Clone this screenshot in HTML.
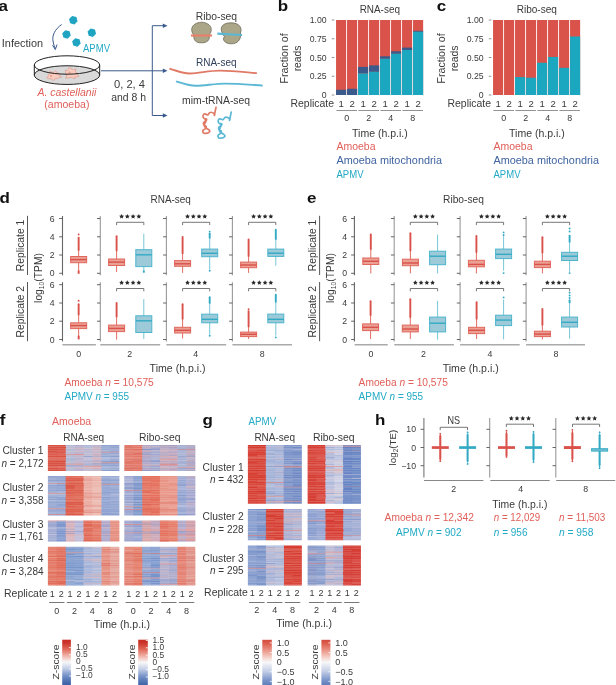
<!DOCTYPE html>
<html><head><meta charset="utf-8"><title>Figure</title>
<style>
html,body{margin:0;padding:0;background:#fff;}
body{width:616px;height:685px;overflow:hidden;}
svg{display:block;font-family:"Liberation Sans", sans-serif;will-change:transform;}
</style></head><body>
<svg width="616" height="685" viewBox="0 0 616 685" fill="#3a3a3a">
<rect width="616" height="685" fill="#fff"/>
<text transform="translate(-1.6 10.8) scale(1.17 1)" font-size="14.5" font-weight="bold" fill="#111">a</text>
<text x="1.8" y="46.5" font-size="10" textLength="41.3" lengthAdjust="spacingAndGlyphs">Infection</text>
<path d="M61.7,24.5 C55,29 51.5,36 53.2,42 C53.8,45 54.5,46.5 55.2,48" stroke="#3A5A8C" fill="none" stroke-width="1"/>
<path d="M52.6,45.2 L55.3,49.6 L57.0,44.6" stroke="#3A5A8C" fill="none" stroke-width="1" stroke-linejoin="round"/>
<polygon points="77.55,21.34 74.44,24.45 70.19,23.31 69.05,19.06 72.16,15.95 76.41,17.09" fill="#1FA5C2"/>
<polygon points="70.75,35.54 67.64,38.65 63.39,37.51 62.25,33.26 65.36,30.15 69.61,31.29" fill="#1FA5C2"/>
<polygon points="80.65,43.54 77.54,46.65 73.29,45.51 72.15,41.26 75.26,38.15 79.51,39.29" fill="#1FA5C2"/>
<polygon points="96.05,33.84 92.94,36.95 88.69,35.81 87.55,31.56 90.66,28.45 94.91,29.59" fill="#1FA5C2"/>
<text x="83" y="52.3" font-size="10" fill="#22A9C4" textLength="27" lengthAdjust="spacingAndGlyphs">APMV</text>
<ellipse cx="67" cy="75.1" rx="32.7" ry="9.35" fill="#D9D9D9" stroke="#222" stroke-width="1"/>
<polygon points="59.91,76 61.71,77.09 59.06,77.56 57.99,78.08 57.08,78.6 55.7,78.65 54.72,79.12 53.5,80.85 52.11,79.53 51.2,78.78 49.55,78.87 48.26,78.43 46.74,77.89 47.89,76.74 47.74,76 48.48,75.34 48.32,74.55 48.76,73.8 49.49,73.08 49.68,71.4 51.94,72.02 53.5,72.66 55.57,70.74 56.74,72.09 57.16,73.33 59.16,73.38 60.63,74.01 59.12,75.26" fill="#F9CCBF" stroke="#D98E7E" stroke-width="0.55" stroke-linejoin="round"/>
<polygon points="76.57,73.5 77.24,74.5 79.13,76.24 77.14,76.93 74.9,76.92 74.69,78.87 72.42,77.86 71,77.36 69.66,77.62 67.96,77.92 65.57,78.26 66.71,75.9 66.15,75.13 66.03,74.29 65.55,73.5 65.58,72.63 65.65,71.7 65.11,70.21 67.38,70.32 68.24,69.49 69.09,67.66 71,68.52 72.35,69.36 73.55,69.8 76.18,68.95 75.54,70.97 75.36,72.03 76.7,72.59" fill="#F9CCBF" stroke="#D98E7E" stroke-width="0.55" stroke-linejoin="round"/>
<circle cx="51" cy="76" r="1.1" fill="#F09A88"/><circle cx="69.5" cy="72.5" r="1.1" fill="#F09A88"/>
<ellipse cx="67" cy="65" rx="32.7" ry="9.2" fill="none" stroke="#222" stroke-width="1"/>
<line x1="34.3" y1="65" x2="34.3" y2="75.1" stroke="#222" stroke-width="1"/>
<line x1="99.7" y1="65" x2="99.7" y2="75.1" stroke="#222" stroke-width="1"/>
<text x="37.4" y="95.8" font-size="10" fill="#E0605A" font-style="italic" textLength="59" lengthAdjust="spacingAndGlyphs">A. castellanii</text>
<text x="44.3" y="107.6" font-size="10" fill="#E0605A" textLength="45.2" lengthAdjust="spacingAndGlyphs">(amoeba)</text>
<text x="114" y="87.5" font-size="10" textLength="31" lengthAdjust="spacingAndGlyphs">0, 2, 4</text>
<text x="111.2" y="100.6" font-size="10" textLength="34.8" lengthAdjust="spacingAndGlyphs">and 8 h</text>
<line x1="101" y1="70.8" x2="164" y2="70.8" stroke="#3A5A8C" stroke-width="1"/>
<line x1="152.3" y1="25.7" x2="152.3" y2="115.5" stroke="#3A5A8C" stroke-width="1"/>
<line x1="152.3" y1="25.7" x2="164" y2="25.7" stroke="#3A5A8C" stroke-width="1"/>
<line x1="152.3" y1="115.5" x2="164" y2="115.5" stroke="#3A5A8C" stroke-width="1"/>
<polygon points="167.5,25.7 162.8,23.5 162.8,27.9" fill="#3A5A8C"/>
<polygon points="167.5,70.8 162.8,68.6 162.8,73" fill="#3A5A8C"/>
<polygon points="167.5,115.5 162.8,113.3 162.8,117.7" fill="#3A5A8C"/>
<text x="195.7" y="19.5" font-size="10" textLength="41.4" lengthAdjust="spacingAndGlyphs">Ribo-seq</text>
<text x="196" y="66.1" font-size="10" fill="#2F3F5C" textLength="40.6" lengthAdjust="spacingAndGlyphs">RNA-seq</text>
<text x="182.1" y="104.3" font-size="10" textLength="68" lengthAdjust="spacingAndGlyphs">mim-tRNA-seq</text>
<path d="M194,35 C190,31 190.5,23 201.5,22.2 C212.5,23 213,31 209,35 C210.5,40 207,43 201.5,42.8 C196,43 193,40 194,35 Z" stroke="#5E5B4A" fill="#ABA688" stroke-width="0.7"/>
<line x1="191" y1="35.5" x2="212" y2="35.5" stroke="#E8806A" stroke-width="2.2"/>
<path d="M222.5,33.5 C219,27 223,22.8 231,22.8 C239,22.8 242.5,27.5 240.5,33 C241.5,40 237,43.8 231.5,43.8 C225.5,43.8 221.5,40 224.5,36.5 C223,35.5 222.5,34.5 222.5,33.5 Z" stroke="#5E5B4A" fill="#ABA688" stroke-width="0.7"/>
<line x1="217.4" y1="33.6" x2="242" y2="35" stroke="#5BB8D4" stroke-width="2.2"/>
<path d="M169.4,68.6 C178,71 183,73.8 190,73.5 C200,73 210,70.5 220,70.6 C235,70.8 248,72.5 256.9,73.1" stroke="#E07A66" fill="none" stroke-width="1.9"/>
<path d="M176,81.3 C184,84 189,85.8 196,85.8 C206,85.5 215,83.6 225,83.6 C240,83.7 252,85 262.7,85.6" stroke="#5BB8D4" fill="none" stroke-width="1.9"/>
<path d="M216,107.3 L214.3,115.5 M214.8,114.8 C212.5,111.2 209.5,111.8 208.5,114.2 C207.5,116.5 205.5,112.5 203.6,114.5 C202,116.5 203.5,119 205.5,118.8 C207.5,118.5 206.8,121 205,121.5 C202.8,122.2 202.8,125 205,125.6 C207,126.2 206.5,128.5 204.5,129.2 C201.8,130.4 202.4,133.8 205.6,133.4 C209.5,133 210.8,131.2 208.8,129.8 C206.5,128.2 203.6,127.6 204.2,124.8 C204.8,122.5 206.8,122.6 205.2,119.8" stroke="#E07A66" fill="none" stroke-width="1.7" stroke-linecap="round" stroke-linejoin="round"/>
<path d="M231.2,112.1 L229.5,120.3 M230,119.6 C227.7,116 224.7,116.6 223.7,119 C222.7,121.3 220.7,117.3 218.8,119.3 C217.2,121.3 218.7,123.8 220.7,123.6 C222.7,123.3 222,125.8 220.2,126.3 C218,127 218,129.8 220.2,130.4 C222.2,131 221.7,133.3 219.7,134 C217,135.2 217.6,138.6 220.8,138.2 C224.7,137.8 226,136 224,134.6 C221.7,133 218.8,132.4 219.4,129.6 C220,127.3 222,127.4 220.4,124.6" stroke="#5BB8D4" fill="none" stroke-width="1.7" stroke-linecap="round" stroke-linejoin="round"/>
<text transform="translate(277.8 10.8) scale(1.17 1)" font-size="14.5" font-weight="bold" fill="#111">b</text>
<text x="379.8" y="13.3" font-size="10" text-anchor="middle" textLength="40.3" lengthAdjust="spacingAndGlyphs">RNA-seq</text>
<rect x="336.05" y="20" width="10.1" height="75" fill="#D9534A"/>
<rect x="336.05" y="89.75" width="10.1" height="5.25" fill="#3A5A8C"/>
<rect x="347.05" y="20" width="10.1" height="75" fill="#D9534A"/>
<rect x="347.05" y="88.78" width="10.1" height="6.23" fill="#3A5A8C"/>
<rect x="358.05" y="20" width="10.1" height="75" fill="#D9534A"/>
<rect x="358.05" y="66.88" width="10.1" height="6.6" fill="#3A5A8C"/>
<rect x="358.05" y="73.47" width="10.1" height="21.52" fill="#1BA7C0"/>
<rect x="369.05" y="20" width="10.1" height="75" fill="#D9534A"/>
<rect x="369.05" y="65.38" width="10.1" height="6.38" fill="#3A5A8C"/>
<rect x="369.05" y="71.75" width="10.1" height="23.25" fill="#1BA7C0"/>
<rect x="380.05" y="20" width="10.1" height="75" fill="#D9534A"/>
<rect x="380.05" y="56.3" width="10.1" height="2.48" fill="#3A5A8C"/>
<rect x="380.05" y="58.77" width="10.1" height="36.23" fill="#1BA7C0"/>
<rect x="391.05" y="20" width="10.1" height="75" fill="#D9534A"/>
<rect x="391.05" y="51.28" width="10.1" height="2.47" fill="#3A5A8C"/>
<rect x="391.05" y="53.75" width="10.1" height="41.25" fill="#1BA7C0"/>
<rect x="402.05" y="20" width="10.1" height="75" fill="#D9534A"/>
<rect x="402.05" y="47.6" width="10.1" height="2.4" fill="#3A5A8C"/>
<rect x="402.05" y="50" width="10.1" height="45" fill="#1BA7C0"/>
<rect x="413.05" y="20" width="10.1" height="75" fill="#D9534A"/>
<rect x="413.05" y="30.8" width="10.1" height="0.98" fill="#3A5A8C"/>
<rect x="413.05" y="31.78" width="10.1" height="63.22" fill="#1BA7C0"/>
<text x="326.7" y="23.1" font-size="8.7" text-anchor="end">1.00</text>
<line x1="331.8" y1="20" x2="334.4" y2="20" stroke="#888" stroke-width="0.9"/>
<text x="326.7" y="41.85" font-size="8.7" text-anchor="end">0.75</text>
<line x1="331.8" y1="38.75" x2="334.4" y2="38.75" stroke="#888" stroke-width="0.9"/>
<text x="326.7" y="60.6" font-size="8.7" text-anchor="end">0.50</text>
<line x1="331.8" y1="57.5" x2="334.4" y2="57.5" stroke="#888" stroke-width="0.9"/>
<text x="326.7" y="79.35" font-size="8.7" text-anchor="end">0.25</text>
<line x1="331.8" y1="76.25" x2="334.4" y2="76.25" stroke="#888" stroke-width="0.9"/>
<text x="326.7" y="98.1" font-size="8.7" text-anchor="end">0</text>
<line x1="331.8" y1="95" x2="334.4" y2="95" stroke="#888" stroke-width="0.9"/>
<text x="288.2" y="58.4" font-size="10.3" text-anchor="middle" textLength="50.3" lengthAdjust="spacingAndGlyphs" transform="rotate(-90 288.2 58.4)">Fraction of</text>
<text x="300.6" y="58.4" font-size="10.3" text-anchor="middle" textLength="25.9" lengthAdjust="spacingAndGlyphs" transform="rotate(-90 300.6 58.4)">reads</text>
<text x="290.5" y="107.3" font-size="10" textLength="43.6" lengthAdjust="spacingAndGlyphs">Replicate</text>
<text x="341.1" y="107.4" font-size="9.6" text-anchor="middle">1</text>
<text x="352.1" y="107.4" font-size="9.6" text-anchor="middle">2</text>
<text x="363.1" y="107.4" font-size="9.6" text-anchor="middle">1</text>
<text x="374.1" y="107.4" font-size="9.6" text-anchor="middle">2</text>
<text x="385.1" y="107.4" font-size="9.6" text-anchor="middle">1</text>
<text x="396.1" y="107.4" font-size="9.6" text-anchor="middle">2</text>
<text x="407.1" y="107.4" font-size="9.6" text-anchor="middle">1</text>
<text x="418.1" y="107.4" font-size="9.6" text-anchor="middle">2</text>
<line x1="336.4" y1="110.5" x2="357" y2="110.5" stroke="#777" stroke-width="0.8"/>
<text x="346.7" y="121.1" font-size="8.9" text-anchor="middle">0</text>
<line x1="358.4" y1="110.5" x2="379" y2="110.5" stroke="#777" stroke-width="0.8"/>
<text x="368.7" y="121.1" font-size="8.9" text-anchor="middle">2</text>
<line x1="380.4" y1="110.5" x2="401" y2="110.5" stroke="#777" stroke-width="0.8"/>
<text x="390.7" y="121.1" font-size="8.9" text-anchor="middle">4</text>
<line x1="402.4" y1="110.5" x2="423" y2="110.5" stroke="#777" stroke-width="0.8"/>
<text x="412.7" y="121.1" font-size="8.9" text-anchor="middle">8</text>
<text x="352" y="136.7" font-size="10" textLength="55.8" lengthAdjust="spacingAndGlyphs">Time (h.p.i.)</text>
<text x="336.5" y="150.1" font-size="10" fill="#E0605A" textLength="39" lengthAdjust="spacingAndGlyphs">Amoeba</text>
<text x="336.5" y="163.8" font-size="10" fill="#3F63A0" textLength="105.5" lengthAdjust="spacingAndGlyphs">Amoeba mitochondria</text>
<text x="336.5" y="177.7" font-size="10" fill="#22A9C4" textLength="27" lengthAdjust="spacingAndGlyphs">APMV</text>
<text transform="translate(436.7 10.8) scale(1.17 1)" font-size="14.5" font-weight="bold" fill="#111">c</text>
<text x="536.8" y="13.3" font-size="10" text-anchor="middle" textLength="40.3" lengthAdjust="spacingAndGlyphs">Ribo-seq</text>
<rect x="493.05" y="20" width="10.1" height="75" fill="#D9534A"/>
<rect x="504.05" y="20" width="10.1" height="75" fill="#D9534A"/>
<rect x="515.05" y="20" width="10.1" height="75" fill="#D9534A"/>
<rect x="515.05" y="77.08" width="10.1" height="17.93" fill="#1BA7C0"/>
<rect x="526.05" y="20" width="10.1" height="75" fill="#D9534A"/>
<rect x="526.05" y="77.75" width="10.1" height="17.25" fill="#1BA7C0"/>
<rect x="537.05" y="20" width="10.1" height="75" fill="#D9534A"/>
<rect x="537.05" y="62.75" width="10.1" height="32.25" fill="#1BA7C0"/>
<rect x="548.05" y="20" width="10.1" height="75" fill="#D9534A"/>
<rect x="548.05" y="56.98" width="10.1" height="38.02" fill="#1BA7C0"/>
<rect x="559.05" y="20" width="10.1" height="75" fill="#D9534A"/>
<rect x="559.05" y="67.85" width="10.1" height="27.15" fill="#1BA7C0"/>
<rect x="570.05" y="20" width="10.1" height="75" fill="#D9534A"/>
<rect x="570.05" y="36.5" width="10.1" height="58.5" fill="#1BA7C0"/>
<text x="483.7" y="23.1" font-size="8.7" text-anchor="end">1.00</text>
<line x1="488.8" y1="20" x2="491.4" y2="20" stroke="#888" stroke-width="0.9"/>
<text x="483.7" y="41.85" font-size="8.7" text-anchor="end">0.75</text>
<line x1="488.8" y1="38.75" x2="491.4" y2="38.75" stroke="#888" stroke-width="0.9"/>
<text x="483.7" y="60.6" font-size="8.7" text-anchor="end">0.50</text>
<line x1="488.8" y1="57.5" x2="491.4" y2="57.5" stroke="#888" stroke-width="0.9"/>
<text x="483.7" y="79.35" font-size="8.7" text-anchor="end">0.25</text>
<line x1="488.8" y1="76.25" x2="491.4" y2="76.25" stroke="#888" stroke-width="0.9"/>
<text x="483.7" y="98.1" font-size="8.7" text-anchor="end">0</text>
<line x1="488.8" y1="95" x2="491.4" y2="95" stroke="#888" stroke-width="0.9"/>
<text x="445.2" y="58.4" font-size="10.3" text-anchor="middle" textLength="50.3" lengthAdjust="spacingAndGlyphs" transform="rotate(-90 445.2 58.4)">Fraction of</text>
<text x="457.6" y="58.4" font-size="10.3" text-anchor="middle" textLength="25.9" lengthAdjust="spacingAndGlyphs" transform="rotate(-90 457.6 58.4)">reads</text>
<text x="447.5" y="107.3" font-size="10" textLength="43.6" lengthAdjust="spacingAndGlyphs">Replicate</text>
<text x="498.1" y="107.4" font-size="9.6" text-anchor="middle">1</text>
<text x="509.1" y="107.4" font-size="9.6" text-anchor="middle">2</text>
<text x="520.1" y="107.4" font-size="9.6" text-anchor="middle">1</text>
<text x="531.1" y="107.4" font-size="9.6" text-anchor="middle">2</text>
<text x="542.1" y="107.4" font-size="9.6" text-anchor="middle">1</text>
<text x="553.1" y="107.4" font-size="9.6" text-anchor="middle">2</text>
<text x="564.1" y="107.4" font-size="9.6" text-anchor="middle">1</text>
<text x="575.1" y="107.4" font-size="9.6" text-anchor="middle">2</text>
<line x1="493.4" y1="110.5" x2="514" y2="110.5" stroke="#777" stroke-width="0.8"/>
<text x="503.7" y="121.1" font-size="8.9" text-anchor="middle">0</text>
<line x1="515.4" y1="110.5" x2="536" y2="110.5" stroke="#777" stroke-width="0.8"/>
<text x="525.7" y="121.1" font-size="8.9" text-anchor="middle">2</text>
<line x1="537.4" y1="110.5" x2="558" y2="110.5" stroke="#777" stroke-width="0.8"/>
<text x="547.7" y="121.1" font-size="8.9" text-anchor="middle">4</text>
<line x1="559.4" y1="110.5" x2="580" y2="110.5" stroke="#777" stroke-width="0.8"/>
<text x="569.7" y="121.1" font-size="8.9" text-anchor="middle">8</text>
<text x="509" y="136.7" font-size="10" textLength="55.8" lengthAdjust="spacingAndGlyphs">Time (h.p.i.)</text>
<text x="493.5" y="150.1" font-size="10" fill="#E0605A" textLength="39" lengthAdjust="spacingAndGlyphs">Amoeba</text>
<text x="493.5" y="163.8" font-size="10" fill="#3F63A0" textLength="105.5" lengthAdjust="spacingAndGlyphs">Amoeba mitochondria</text>
<text x="493.5" y="177.7" font-size="10" fill="#22A9C4" textLength="27" lengthAdjust="spacingAndGlyphs">APMV</text>
<text transform="translate(-0.6 203) scale(1.17 1)" font-size="14.5" font-weight="bold" fill="#111">d</text>
<text x="150.6" y="202.9" font-size="10" textLength="40.3" lengthAdjust="spacingAndGlyphs">RNA-seq</text>
<line x1="62.5" y1="216" x2="62.5" y2="275.3" stroke="#666" stroke-width="1.1"/>
<line x1="59.2" y1="218.5" x2="62.5" y2="218.5" stroke="#555" stroke-width="0.9"/>
<text x="54.6" y="221.6" font-size="8.7" text-anchor="end">6</text>
<line x1="59.2" y1="236.8" x2="62.5" y2="236.8" stroke="#555" stroke-width="0.9"/>
<text x="54.6" y="239.9" font-size="8.7" text-anchor="end">4</text>
<line x1="59.2" y1="255" x2="62.5" y2="255" stroke="#555" stroke-width="0.9"/>
<text x="54.6" y="258.1" font-size="8.7" text-anchor="end">2</text>
<line x1="59.2" y1="273.3" x2="62.5" y2="273.3" stroke="#555" stroke-width="0.9"/>
<text x="54.6" y="276.4" font-size="8.7" text-anchor="end">0</text>
<line x1="100.3" y1="216" x2="100.3" y2="275.3" stroke="#999" stroke-width="1.1"/>
<line x1="97" y1="218.5" x2="100.3" y2="218.5" stroke="#555" stroke-width="0.9"/>
<line x1="97" y1="236.8" x2="100.3" y2="236.8" stroke="#555" stroke-width="0.9"/>
<line x1="97" y1="255" x2="100.3" y2="255" stroke="#555" stroke-width="0.9"/>
<line x1="97" y1="273.3" x2="100.3" y2="273.3" stroke="#555" stroke-width="0.9"/>
<line x1="166.4" y1="216" x2="166.4" y2="275.3" stroke="#999" stroke-width="1.1"/>
<line x1="163.1" y1="218.5" x2="166.4" y2="218.5" stroke="#555" stroke-width="0.9"/>
<line x1="163.1" y1="236.8" x2="166.4" y2="236.8" stroke="#555" stroke-width="0.9"/>
<line x1="163.1" y1="255" x2="166.4" y2="255" stroke="#555" stroke-width="0.9"/>
<line x1="163.1" y1="273.3" x2="166.4" y2="273.3" stroke="#555" stroke-width="0.9"/>
<line x1="232.4" y1="216" x2="232.4" y2="275.3" stroke="#999" stroke-width="1.1"/>
<line x1="229.1" y1="218.5" x2="232.4" y2="218.5" stroke="#555" stroke-width="0.9"/>
<line x1="229.1" y1="236.8" x2="232.4" y2="236.8" stroke="#555" stroke-width="0.9"/>
<line x1="229.1" y1="255" x2="232.4" y2="255" stroke="#555" stroke-width="0.9"/>
<line x1="229.1" y1="273.3" x2="232.4" y2="273.3" stroke="#555" stroke-width="0.9"/>
<text x="24.4" y="245.5" font-size="10.2" text-anchor="middle" textLength="51.5" lengthAdjust="spacingAndGlyphs" transform="rotate(-90 24.4 245.5)">Replicate 1</text>
<line x1="27.5" y1="215.8" x2="27.5" y2="275" stroke="#444" stroke-width="0.9"/>
<line x1="62.5" y1="282.2" x2="62.5" y2="341.5" stroke="#666" stroke-width="1.1"/>
<line x1="59.2" y1="284.7" x2="62.5" y2="284.7" stroke="#555" stroke-width="0.9"/>
<text x="54.6" y="287.8" font-size="8.7" text-anchor="end">6</text>
<line x1="59.2" y1="303" x2="62.5" y2="303" stroke="#555" stroke-width="0.9"/>
<text x="54.6" y="306.1" font-size="8.7" text-anchor="end">4</text>
<line x1="59.2" y1="321.2" x2="62.5" y2="321.2" stroke="#555" stroke-width="0.9"/>
<text x="54.6" y="324.3" font-size="8.7" text-anchor="end">2</text>
<line x1="59.2" y1="339.5" x2="62.5" y2="339.5" stroke="#555" stroke-width="0.9"/>
<text x="54.6" y="342.6" font-size="8.7" text-anchor="end">0</text>
<line x1="100.3" y1="282.2" x2="100.3" y2="341.5" stroke="#999" stroke-width="1.1"/>
<line x1="97" y1="284.7" x2="100.3" y2="284.7" stroke="#555" stroke-width="0.9"/>
<line x1="97" y1="303" x2="100.3" y2="303" stroke="#555" stroke-width="0.9"/>
<line x1="97" y1="321.2" x2="100.3" y2="321.2" stroke="#555" stroke-width="0.9"/>
<line x1="97" y1="339.5" x2="100.3" y2="339.5" stroke="#555" stroke-width="0.9"/>
<line x1="166.4" y1="282.2" x2="166.4" y2="341.5" stroke="#999" stroke-width="1.1"/>
<line x1="163.1" y1="284.7" x2="166.4" y2="284.7" stroke="#555" stroke-width="0.9"/>
<line x1="163.1" y1="303" x2="166.4" y2="303" stroke="#555" stroke-width="0.9"/>
<line x1="163.1" y1="321.2" x2="166.4" y2="321.2" stroke="#555" stroke-width="0.9"/>
<line x1="163.1" y1="339.5" x2="166.4" y2="339.5" stroke="#555" stroke-width="0.9"/>
<line x1="232.4" y1="282.2" x2="232.4" y2="341.5" stroke="#999" stroke-width="1.1"/>
<line x1="229.1" y1="284.7" x2="232.4" y2="284.7" stroke="#555" stroke-width="0.9"/>
<line x1="229.1" y1="303" x2="232.4" y2="303" stroke="#555" stroke-width="0.9"/>
<line x1="229.1" y1="321.2" x2="232.4" y2="321.2" stroke="#555" stroke-width="0.9"/>
<line x1="229.1" y1="339.5" x2="232.4" y2="339.5" stroke="#555" stroke-width="0.9"/>
<text x="24.4" y="311.7" font-size="10.2" text-anchor="middle" textLength="51.5" lengthAdjust="spacingAndGlyphs" transform="rotate(-90 24.4 311.7)">Replicate 2</text>
<line x1="27.5" y1="282" x2="27.5" y2="341.2" stroke="#444" stroke-width="0.9"/>
<text x="41.9" y="278" font-size="10.6" text-anchor="middle" textLength="49.8" lengthAdjust="spacingAndGlyphs" transform="rotate(-90 41.9 278)">log<tspan font-size="7" dy="2.2">10</tspan><tspan dy="-2.2">(TPM)</tspan></text>
<line x1="62.4" y1="344.7" x2="95.9" y2="344.7" stroke="#aaa" stroke-width="1.4"/>
<line x1="100.3" y1="344.7" x2="160.2" y2="344.7" stroke="#aaa" stroke-width="1.4"/>
<line x1="166.4" y1="344.7" x2="226.2" y2="344.7" stroke="#aaa" stroke-width="1.4"/>
<line x1="232.4" y1="344.7" x2="292" y2="344.7" stroke="#aaa" stroke-width="1.4"/>
<text x="78.8" y="356.6" font-size="8.8" text-anchor="middle">0</text>
<text x="129.8" y="356.6" font-size="8.8" text-anchor="middle">2</text>
<text x="195.6" y="356.6" font-size="8.8" text-anchor="middle">4</text>
<text x="262.2" y="356.6" font-size="8.8" text-anchor="middle">8</text>
<text x="149.6" y="371.7" font-size="10" textLength="56" lengthAdjust="spacingAndGlyphs">Time (h.p.i.)</text>
<text x="64.5" y="386.2" font-size="10" fill="#E0605A" textLength="89.3" lengthAdjust="spacingAndGlyphs">Amoeba <tspan font-style="italic">n</tspan> = 10,575</text>
<text x="64.5" y="399.8" font-size="10" fill="#22A9C4" textLength="64.5" lengthAdjust="spacingAndGlyphs">APMV <tspan font-style="italic">n</tspan> = 955</text>
<line x1="78.65" y1="262.7" x2="78.65" y2="271.4" stroke="#E26D64" stroke-width="1"/>
<line x1="78.65" y1="270.5" x2="78.65" y2="273.8" stroke="#D9514A" stroke-width="1.9"/>
<line x1="78.65" y1="256.5" x2="78.65" y2="249.9" stroke="#E26D64" stroke-width="1"/>
<line x1="78.65" y1="249.9" x2="78.65" y2="237.6" stroke="#D9514A" stroke-width="1.9" stroke-linecap="round"/>
<circle cx="78.65" cy="234.5" r="0.95" fill="#D9514A"/>
<rect x="70.65" y="256.5" width="16" height="6.2" fill="#EBA094" stroke="#E2675C" stroke-width="1"/>
<line x1="70.65" y1="259.6" x2="86.65" y2="259.6" stroke="#D9514A" stroke-width="1.4"/>
<line x1="116.6" y1="265.5" x2="116.6" y2="272" stroke="#E26D64" stroke-width="1"/>
<line x1="116.6" y1="259" x2="116.6" y2="250.4" stroke="#E26D64" stroke-width="1"/>
<line x1="116.6" y1="250.4" x2="116.6" y2="236.2" stroke="#D9514A" stroke-width="1.9" stroke-linecap="round"/>
<rect x="108.6" y="259" width="16" height="6.5" fill="#EBA094" stroke="#E2675C" stroke-width="1"/>
<line x1="108.6" y1="262.1" x2="124.6" y2="262.1" stroke="#D9514A" stroke-width="1.4"/>
<line x1="143.8" y1="266.6" x2="143.8" y2="272.6" stroke="#78C6D8" stroke-width="1"/>
<line x1="143.8" y1="270.5" x2="143.8" y2="272.6" stroke="#33AAC4" stroke-width="1.9"/>
<line x1="143.8" y1="249.7" x2="143.8" y2="233.7" stroke="#78C6D8" stroke-width="1"/>
<rect x="135.8" y="249.7" width="16" height="16.9" fill="#9DCAD9" stroke="#4DB5CC" stroke-width="1"/>
<line x1="135.8" y1="254.8" x2="151.8" y2="254.8" stroke="#33AAC4" stroke-width="1.4"/>
<line x1="182.6" y1="266.3" x2="182.6" y2="272.9" stroke="#E26D64" stroke-width="1"/>
<line x1="182.6" y1="260.6" x2="182.6" y2="253.2" stroke="#E26D64" stroke-width="1"/>
<line x1="182.6" y1="253.2" x2="182.6" y2="237" stroke="#D9514A" stroke-width="1.9" stroke-linecap="round"/>
<rect x="174.6" y="260.6" width="16" height="5.7" fill="#EBA094" stroke="#E2675C" stroke-width="1"/>
<line x1="174.6" y1="263.8" x2="190.6" y2="263.8" stroke="#D9514A" stroke-width="1.4"/>
<line x1="209.7" y1="256.7" x2="209.7" y2="269.6" stroke="#78C6D8" stroke-width="1"/>
<line x1="209.7" y1="249.1" x2="209.7" y2="237.8" stroke="#78C6D8" stroke-width="1"/>
<line x1="209.7" y1="237.8" x2="209.7" y2="233.5" stroke="#33AAC4" stroke-width="1.9" stroke-linecap="round"/>
<circle cx="209.7" cy="231.6" r="0.95" fill="#33AAC4"/>
<circle cx="209.7" cy="270.7" r="0.95" fill="#33AAC4"/>
<rect x="201.7" y="249.1" width="16" height="7.6" fill="#9DCAD9" stroke="#4DB5CC" stroke-width="1"/>
<line x1="201.7" y1="253.3" x2="217.7" y2="253.3" stroke="#33AAC4" stroke-width="1.4"/>
<line x1="248.6" y1="267.7" x2="248.6" y2="272.9" stroke="#E26D64" stroke-width="1"/>
<line x1="248.6" y1="262.1" x2="248.6" y2="255.9" stroke="#E26D64" stroke-width="1"/>
<line x1="248.6" y1="255.9" x2="248.6" y2="239.5" stroke="#D9514A" stroke-width="1.9" stroke-linecap="round"/>
<rect x="240.6" y="262.1" width="16" height="5.6" fill="#EBA094" stroke="#E2675C" stroke-width="1"/>
<line x1="240.6" y1="265" x2="256.6" y2="265" stroke="#D9514A" stroke-width="1.4"/>
<line x1="275.8" y1="256.4" x2="275.8" y2="265.7" stroke="#78C6D8" stroke-width="1"/>
<line x1="275.8" y1="249.1" x2="275.8" y2="238.9" stroke="#78C6D8" stroke-width="1"/>
<line x1="275.8" y1="238.9" x2="275.8" y2="229.8" stroke="#33AAC4" stroke-width="1.9" stroke-linecap="round"/>
<rect x="267.8" y="249.1" width="16" height="7.3" fill="#9DCAD9" stroke="#4DB5CC" stroke-width="1"/>
<line x1="267.8" y1="253.2" x2="283.8" y2="253.2" stroke="#33AAC4" stroke-width="1.4"/>
<line x1="78.65" y1="328.6" x2="78.65" y2="337.9" stroke="#E26D64" stroke-width="1"/>
<line x1="78.65" y1="335.7" x2="78.65" y2="339.4" stroke="#D9514A" stroke-width="1.9"/>
<line x1="78.65" y1="322.8" x2="78.65" y2="314.4" stroke="#E26D64" stroke-width="1"/>
<line x1="78.65" y1="314.4" x2="78.65" y2="304.3" stroke="#D9514A" stroke-width="1.9" stroke-linecap="round"/>
<circle cx="78.65" cy="300.7" r="0.95" fill="#D9514A"/>
<rect x="70.65" y="322.8" width="16" height="5.8" fill="#EBA094" stroke="#E2675C" stroke-width="1"/>
<line x1="70.65" y1="325.6" x2="86.65" y2="325.6" stroke="#D9514A" stroke-width="1.4"/>
<line x1="116.6" y1="331.6" x2="116.6" y2="339.6" stroke="#E26D64" stroke-width="1"/>
<line x1="116.6" y1="325.1" x2="116.6" y2="316.6" stroke="#E26D64" stroke-width="1"/>
<line x1="116.6" y1="316.6" x2="116.6" y2="302.9" stroke="#D9514A" stroke-width="1.9" stroke-linecap="round"/>
<rect x="108.6" y="325.1" width="16" height="6.5" fill="#EBA094" stroke="#E2675C" stroke-width="1"/>
<line x1="108.6" y1="328.4" x2="124.6" y2="328.4" stroke="#D9514A" stroke-width="1.4"/>
<line x1="143.8" y1="332.5" x2="143.8" y2="339" stroke="#78C6D8" stroke-width="1"/>
<line x1="143.8" y1="315.8" x2="143.8" y2="299.1" stroke="#78C6D8" stroke-width="1"/>
<rect x="135.8" y="315.8" width="16" height="16.7" fill="#9DCAD9" stroke="#4DB5CC" stroke-width="1"/>
<line x1="135.8" y1="320.8" x2="151.8" y2="320.8" stroke="#33AAC4" stroke-width="1.4"/>
<line x1="182.6" y1="333" x2="182.6" y2="338.5" stroke="#E26D64" stroke-width="1"/>
<line x1="182.6" y1="327.3" x2="182.6" y2="318.8" stroke="#E26D64" stroke-width="1"/>
<line x1="182.6" y1="318.8" x2="182.6" y2="304.3" stroke="#D9514A" stroke-width="1.9" stroke-linecap="round"/>
<rect x="174.6" y="327.3" width="16" height="5.7" fill="#EBA094" stroke="#E2675C" stroke-width="1"/>
<line x1="174.6" y1="330.3" x2="190.6" y2="330.3" stroke="#D9514A" stroke-width="1.4"/>
<line x1="209.7" y1="322.8" x2="209.7" y2="334.7" stroke="#78C6D8" stroke-width="1"/>
<line x1="209.7" y1="314.2" x2="209.7" y2="302.9" stroke="#78C6D8" stroke-width="1"/>
<line x1="209.7" y1="302.9" x2="209.7" y2="297.3" stroke="#33AAC4" stroke-width="1.9" stroke-linecap="round"/>
<circle cx="209.7" cy="335.7" r="0.95" fill="#33AAC4"/>
<rect x="201.7" y="314.2" width="16" height="8.6" fill="#9DCAD9" stroke="#4DB5CC" stroke-width="1"/>
<line x1="201.7" y1="319.3" x2="217.7" y2="319.3" stroke="#33AAC4" stroke-width="1.4"/>
<line x1="248.6" y1="336.6" x2="248.6" y2="339" stroke="#E26D64" stroke-width="1"/>
<line x1="248.6" y1="332.1" x2="248.6" y2="326.4" stroke="#E26D64" stroke-width="1"/>
<line x1="248.6" y1="326.4" x2="248.6" y2="311.1" stroke="#D9514A" stroke-width="1.9" stroke-linecap="round"/>
<circle cx="248.6" cy="309.2" r="0.95" fill="#D9514A"/>
<rect x="240.6" y="332.1" width="16" height="4.5" fill="#EBA094" stroke="#E2675C" stroke-width="1"/>
<line x1="240.6" y1="334.3" x2="256.6" y2="334.3" stroke="#D9514A" stroke-width="1.4"/>
<line x1="275.8" y1="322.8" x2="275.8" y2="335.7" stroke="#78C6D8" stroke-width="1"/>
<line x1="275.8" y1="314.1" x2="275.8" y2="301.8" stroke="#78C6D8" stroke-width="1"/>
<line x1="275.8" y1="301.8" x2="275.8" y2="294.8" stroke="#33AAC4" stroke-width="1.9" stroke-linecap="round"/>
<circle cx="275.8" cy="337.4" r="0.95" fill="#33AAC4"/>
<rect x="267.8" y="314.1" width="16" height="8.7" fill="#9DCAD9" stroke="#4DB5CC" stroke-width="1"/>
<line x1="267.8" y1="319.3" x2="283.8" y2="319.3" stroke="#33AAC4" stroke-width="1.4"/>
<path d="M116.6,225.1 L116.6,222.3 L143.8,222.3 L143.8,225.1" stroke="#555" fill="none" stroke-width="0.8"/>
<polygon points="121.57,213.95 122.31,215.49 124,215.71 122.76,216.89 123.07,218.56 121.57,217.75 120.08,218.56 120.39,216.89 119.15,215.71 120.84,215.49" fill="#2a2a2a"/>
<polygon points="127.32,213.95 128.06,215.49 129.75,215.71 128.51,216.89 128.82,218.56 127.32,217.75 125.83,218.56 126.14,216.89 124.9,215.71 126.59,215.49" fill="#2a2a2a"/>
<polygon points="133.07,213.95 133.81,215.49 135.5,215.71 134.26,216.89 134.57,218.56 133.07,217.75 131.58,218.56 131.89,216.89 130.65,215.71 132.34,215.49" fill="#2a2a2a"/>
<polygon points="138.82,213.95 139.56,215.49 141.25,215.71 140.01,216.89 140.32,218.56 138.82,217.75 137.33,218.56 137.64,216.89 136.4,215.71 138.09,215.49" fill="#2a2a2a"/>
<path d="M182.6,225.1 L182.6,222.3 L209.7,222.3 L209.7,225.1" stroke="#555" fill="none" stroke-width="0.8"/>
<polygon points="187.52,213.95 188.26,215.49 189.95,215.71 188.71,216.89 189.02,218.56 187.52,217.75 186.03,218.56 186.34,216.89 185.1,215.71 186.79,215.49" fill="#2a2a2a"/>
<polygon points="193.27,213.95 194.01,215.49 195.7,215.71 194.46,216.89 194.77,218.56 193.27,217.75 191.78,218.56 192.09,216.89 190.85,215.71 192.54,215.49" fill="#2a2a2a"/>
<polygon points="199.02,213.95 199.76,215.49 201.45,215.71 200.21,216.89 200.52,218.56 199.02,217.75 197.53,218.56 197.84,216.89 196.6,215.71 198.29,215.49" fill="#2a2a2a"/>
<polygon points="204.77,213.95 205.51,215.49 207.2,215.71 205.96,216.89 206.27,218.56 204.77,217.75 203.28,218.56 203.59,216.89 202.35,215.71 204.04,215.49" fill="#2a2a2a"/>
<path d="M248.6,225.1 L248.6,222.3 L275.8,222.3 L275.8,225.1" stroke="#555" fill="none" stroke-width="0.8"/>
<polygon points="253.57,213.95 254.31,215.49 256,215.71 254.76,216.89 255.07,218.56 253.57,217.75 252.08,218.56 252.39,216.89 251.15,215.71 252.84,215.49" fill="#2a2a2a"/>
<polygon points="259.32,213.95 260.06,215.49 261.75,215.71 260.51,216.89 260.82,218.56 259.32,217.75 257.83,218.56 258.14,216.89 256.9,215.71 258.59,215.49" fill="#2a2a2a"/>
<polygon points="265.07,213.95 265.81,215.49 267.5,215.71 266.26,216.89 266.57,218.56 265.07,217.75 263.58,218.56 263.89,216.89 262.65,215.71 264.34,215.49" fill="#2a2a2a"/>
<polygon points="270.82,213.95 271.56,215.49 273.25,215.71 272.01,216.89 272.32,218.56 270.82,217.75 269.33,218.56 269.64,216.89 268.4,215.71 270.09,215.49" fill="#2a2a2a"/>
<path d="M116.6,291.3 L116.6,288.5 L143.8,288.5 L143.8,291.3" stroke="#555" fill="none" stroke-width="0.8"/>
<polygon points="121.57,280.15 122.31,281.69 124,281.91 122.76,283.09 123.07,284.76 121.57,283.95 120.08,284.76 120.39,283.09 119.15,281.91 120.84,281.69" fill="#2a2a2a"/>
<polygon points="127.32,280.15 128.06,281.69 129.75,281.91 128.51,283.09 128.82,284.76 127.32,283.95 125.83,284.76 126.14,283.09 124.9,281.91 126.59,281.69" fill="#2a2a2a"/>
<polygon points="133.07,280.15 133.81,281.69 135.5,281.91 134.26,283.09 134.57,284.76 133.07,283.95 131.58,284.76 131.89,283.09 130.65,281.91 132.34,281.69" fill="#2a2a2a"/>
<polygon points="138.82,280.15 139.56,281.69 141.25,281.91 140.01,283.09 140.32,284.76 138.82,283.95 137.33,284.76 137.64,283.09 136.4,281.91 138.09,281.69" fill="#2a2a2a"/>
<path d="M182.6,291.3 L182.6,288.5 L209.7,288.5 L209.7,291.3" stroke="#555" fill="none" stroke-width="0.8"/>
<polygon points="187.52,280.15 188.26,281.69 189.95,281.91 188.71,283.09 189.02,284.76 187.52,283.95 186.03,284.76 186.34,283.09 185.1,281.91 186.79,281.69" fill="#2a2a2a"/>
<polygon points="193.27,280.15 194.01,281.69 195.7,281.91 194.46,283.09 194.77,284.76 193.27,283.95 191.78,284.76 192.09,283.09 190.85,281.91 192.54,281.69" fill="#2a2a2a"/>
<polygon points="199.02,280.15 199.76,281.69 201.45,281.91 200.21,283.09 200.52,284.76 199.02,283.95 197.53,284.76 197.84,283.09 196.6,281.91 198.29,281.69" fill="#2a2a2a"/>
<polygon points="204.77,280.15 205.51,281.69 207.2,281.91 205.96,283.09 206.27,284.76 204.77,283.95 203.28,284.76 203.59,283.09 202.35,281.91 204.04,281.69" fill="#2a2a2a"/>
<path d="M248.6,291.3 L248.6,288.5 L275.8,288.5 L275.8,291.3" stroke="#555" fill="none" stroke-width="0.8"/>
<polygon points="253.57,280.15 254.31,281.69 256,281.91 254.76,283.09 255.07,284.76 253.57,283.95 252.08,284.76 252.39,283.09 251.15,281.91 252.84,281.69" fill="#2a2a2a"/>
<polygon points="259.32,280.15 260.06,281.69 261.75,281.91 260.51,283.09 260.82,284.76 259.32,283.95 257.83,284.76 258.14,283.09 256.9,281.91 258.59,281.69" fill="#2a2a2a"/>
<polygon points="265.07,280.15 265.81,281.69 267.5,281.91 266.26,283.09 266.57,284.76 265.07,283.95 263.58,284.76 263.89,283.09 262.65,281.91 264.34,281.69" fill="#2a2a2a"/>
<polygon points="270.82,280.15 271.56,281.69 273.25,281.91 272.01,283.09 272.32,284.76 270.82,283.95 269.33,284.76 269.64,283.09 268.4,281.91 270.09,281.69" fill="#2a2a2a"/>
<text transform="translate(307.1 203) scale(1.17 1)" font-size="14.5" font-weight="bold" fill="#111">e</text>
<text x="443" y="202.9" font-size="10" textLength="40.9" lengthAdjust="spacingAndGlyphs">Ribo-seq</text>
<line x1="354.4" y1="216" x2="354.4" y2="275.3" stroke="#666" stroke-width="1.1"/>
<line x1="351.1" y1="218.5" x2="354.4" y2="218.5" stroke="#555" stroke-width="0.9"/>
<text x="347" y="221.6" font-size="8.7" text-anchor="end">6</text>
<line x1="351.1" y1="236.8" x2="354.4" y2="236.8" stroke="#555" stroke-width="0.9"/>
<text x="347" y="239.9" font-size="8.7" text-anchor="end">4</text>
<line x1="351.1" y1="255" x2="354.4" y2="255" stroke="#555" stroke-width="0.9"/>
<text x="347" y="258.1" font-size="8.7" text-anchor="end">2</text>
<line x1="351.1" y1="273.3" x2="354.4" y2="273.3" stroke="#555" stroke-width="0.9"/>
<text x="347" y="276.4" font-size="8.7" text-anchor="end">0</text>
<line x1="394.2" y1="216" x2="394.2" y2="275.3" stroke="#999" stroke-width="1.1"/>
<line x1="390.9" y1="218.5" x2="394.2" y2="218.5" stroke="#555" stroke-width="0.9"/>
<line x1="390.9" y1="236.8" x2="394.2" y2="236.8" stroke="#555" stroke-width="0.9"/>
<line x1="390.9" y1="255" x2="394.2" y2="255" stroke="#555" stroke-width="0.9"/>
<line x1="390.9" y1="273.3" x2="394.2" y2="273.3" stroke="#555" stroke-width="0.9"/>
<line x1="460.1" y1="216" x2="460.1" y2="275.3" stroke="#999" stroke-width="1.1"/>
<line x1="456.8" y1="218.5" x2="460.1" y2="218.5" stroke="#555" stroke-width="0.9"/>
<line x1="456.8" y1="236.8" x2="460.1" y2="236.8" stroke="#555" stroke-width="0.9"/>
<line x1="456.8" y1="255" x2="460.1" y2="255" stroke="#555" stroke-width="0.9"/>
<line x1="456.8" y1="273.3" x2="460.1" y2="273.3" stroke="#555" stroke-width="0.9"/>
<line x1="526.1" y1="216" x2="526.1" y2="275.3" stroke="#999" stroke-width="1.1"/>
<line x1="522.8" y1="218.5" x2="526.1" y2="218.5" stroke="#555" stroke-width="0.9"/>
<line x1="522.8" y1="236.8" x2="526.1" y2="236.8" stroke="#555" stroke-width="0.9"/>
<line x1="522.8" y1="255" x2="526.1" y2="255" stroke="#555" stroke-width="0.9"/>
<line x1="522.8" y1="273.3" x2="526.1" y2="273.3" stroke="#555" stroke-width="0.9"/>
<text x="316.3" y="245.5" font-size="10.2" text-anchor="middle" textLength="51.5" lengthAdjust="spacingAndGlyphs" transform="rotate(-90 316.3 245.5)">Replicate 1</text>
<line x1="319.6" y1="215.8" x2="319.6" y2="275" stroke="#444" stroke-width="0.9"/>
<line x1="354.4" y1="282.2" x2="354.4" y2="341.5" stroke="#666" stroke-width="1.1"/>
<line x1="351.1" y1="284.7" x2="354.4" y2="284.7" stroke="#555" stroke-width="0.9"/>
<text x="347" y="287.8" font-size="8.7" text-anchor="end">6</text>
<line x1="351.1" y1="303" x2="354.4" y2="303" stroke="#555" stroke-width="0.9"/>
<text x="347" y="306.1" font-size="8.7" text-anchor="end">4</text>
<line x1="351.1" y1="321.2" x2="354.4" y2="321.2" stroke="#555" stroke-width="0.9"/>
<text x="347" y="324.3" font-size="8.7" text-anchor="end">2</text>
<line x1="351.1" y1="339.5" x2="354.4" y2="339.5" stroke="#555" stroke-width="0.9"/>
<text x="347" y="342.6" font-size="8.7" text-anchor="end">0</text>
<line x1="394.2" y1="282.2" x2="394.2" y2="341.5" stroke="#999" stroke-width="1.1"/>
<line x1="390.9" y1="284.7" x2="394.2" y2="284.7" stroke="#555" stroke-width="0.9"/>
<line x1="390.9" y1="303" x2="394.2" y2="303" stroke="#555" stroke-width="0.9"/>
<line x1="390.9" y1="321.2" x2="394.2" y2="321.2" stroke="#555" stroke-width="0.9"/>
<line x1="390.9" y1="339.5" x2="394.2" y2="339.5" stroke="#555" stroke-width="0.9"/>
<line x1="460.1" y1="282.2" x2="460.1" y2="341.5" stroke="#999" stroke-width="1.1"/>
<line x1="456.8" y1="284.7" x2="460.1" y2="284.7" stroke="#555" stroke-width="0.9"/>
<line x1="456.8" y1="303" x2="460.1" y2="303" stroke="#555" stroke-width="0.9"/>
<line x1="456.8" y1="321.2" x2="460.1" y2="321.2" stroke="#555" stroke-width="0.9"/>
<line x1="456.8" y1="339.5" x2="460.1" y2="339.5" stroke="#555" stroke-width="0.9"/>
<line x1="526.1" y1="282.2" x2="526.1" y2="341.5" stroke="#999" stroke-width="1.1"/>
<line x1="522.8" y1="284.7" x2="526.1" y2="284.7" stroke="#555" stroke-width="0.9"/>
<line x1="522.8" y1="303" x2="526.1" y2="303" stroke="#555" stroke-width="0.9"/>
<line x1="522.8" y1="321.2" x2="526.1" y2="321.2" stroke="#555" stroke-width="0.9"/>
<line x1="522.8" y1="339.5" x2="526.1" y2="339.5" stroke="#555" stroke-width="0.9"/>
<text x="316.3" y="311.7" font-size="10.2" text-anchor="middle" textLength="51.5" lengthAdjust="spacingAndGlyphs" transform="rotate(-90 316.3 311.7)">Replicate 2</text>
<line x1="319.6" y1="282" x2="319.6" y2="341.2" stroke="#444" stroke-width="0.9"/>
<text x="333.6" y="278" font-size="10.6" text-anchor="middle" textLength="49.8" lengthAdjust="spacingAndGlyphs" transform="rotate(-90 333.6 278)">log<tspan font-size="7" dy="2.2">10</tspan><tspan dy="-2.2">(TPM)</tspan></text>
<line x1="354.6" y1="344.7" x2="387.7" y2="344.7" stroke="#aaa" stroke-width="1.4"/>
<line x1="394.3" y1="344.7" x2="453.9" y2="344.7" stroke="#aaa" stroke-width="1.4"/>
<line x1="460.1" y1="344.7" x2="519.7" y2="344.7" stroke="#aaa" stroke-width="1.4"/>
<line x1="526.1" y1="344.7" x2="585" y2="344.7" stroke="#aaa" stroke-width="1.4"/>
<text x="370.9" y="356.6" font-size="8.8" text-anchor="middle">0</text>
<text x="423.5" y="356.6" font-size="8.8" text-anchor="middle">2</text>
<text x="490" y="356.6" font-size="8.8" text-anchor="middle">4</text>
<text x="556" y="356.6" font-size="8.8" text-anchor="middle">8</text>
<text x="442.7" y="371.7" font-size="10" textLength="56" lengthAdjust="spacingAndGlyphs">Time (h.p.i.)</text>
<text x="358.6" y="386.2" font-size="10" fill="#E0605A" textLength="89.3" lengthAdjust="spacingAndGlyphs">Amoeba <tspan font-style="italic">n</tspan> = 10,575</text>
<text x="358.6" y="399.8" font-size="10" fill="#22A9C4" textLength="64.5" lengthAdjust="spacingAndGlyphs">APMV <tspan font-style="italic">n</tspan> = 955</text>
<line x1="370.8" y1="264.5" x2="370.8" y2="273.5" stroke="#E26D64" stroke-width="1"/>
<line x1="370.8" y1="258" x2="370.8" y2="249.1" stroke="#E26D64" stroke-width="1"/>
<line x1="370.8" y1="249.1" x2="370.8" y2="234.5" stroke="#D9514A" stroke-width="1.9" stroke-linecap="round"/>
<rect x="362.8" y="258" width="16" height="6.5" fill="#EBA094" stroke="#E2675C" stroke-width="1"/>
<line x1="362.8" y1="261.3" x2="378.8" y2="261.3" stroke="#D9514A" stroke-width="1.4"/>
<line x1="410.4" y1="265.7" x2="410.4" y2="273.4" stroke="#E26D64" stroke-width="1"/>
<line x1="410.4" y1="259.2" x2="410.4" y2="250.4" stroke="#E26D64" stroke-width="1"/>
<line x1="410.4" y1="250.4" x2="410.4" y2="233.2" stroke="#D9514A" stroke-width="1.9" stroke-linecap="round"/>
<rect x="402.4" y="259.2" width="16" height="6.5" fill="#EBA094" stroke="#E2675C" stroke-width="1"/>
<line x1="402.4" y1="263" x2="418.4" y2="263" stroke="#D9514A" stroke-width="1.4"/>
<line x1="437.6" y1="264.7" x2="437.6" y2="273.4" stroke="#78C6D8" stroke-width="1"/>
<line x1="437.6" y1="251.2" x2="437.6" y2="234.6" stroke="#78C6D8" stroke-width="1"/>
<rect x="429.6" y="251.2" width="16" height="13.5" fill="#9DCAD9" stroke="#4DB5CC" stroke-width="1"/>
<line x1="429.6" y1="256.2" x2="445.6" y2="256.2" stroke="#33AAC4" stroke-width="1.4"/>
<line x1="476.4" y1="266.8" x2="476.4" y2="273.4" stroke="#E26D64" stroke-width="1"/>
<line x1="476.4" y1="260.3" x2="476.4" y2="252.1" stroke="#E26D64" stroke-width="1"/>
<line x1="476.4" y1="252.1" x2="476.4" y2="235.9" stroke="#D9514A" stroke-width="1.9" stroke-linecap="round"/>
<rect x="468.4" y="260.3" width="16" height="6.5" fill="#EBA094" stroke="#E2675C" stroke-width="1"/>
<line x1="468.4" y1="264.4" x2="484.4" y2="264.4" stroke="#D9514A" stroke-width="1.4"/>
<line x1="503.6" y1="258.6" x2="503.6" y2="270.7" stroke="#78C6D8" stroke-width="1"/>
<line x1="503.6" y1="249.1" x2="503.6" y2="235.6" stroke="#78C6D8" stroke-width="1"/>
<circle cx="503.6" cy="232.4" r="0.95" fill="#33AAC4"/>
<circle cx="503.6" cy="235" r="0.95" fill="#33AAC4"/>
<circle cx="503.6" cy="273.1" r="0.95" fill="#33AAC4"/>
<rect x="495.6" y="249.1" width="16" height="9.5" fill="#9DCAD9" stroke="#4DB5CC" stroke-width="1"/>
<line x1="495.6" y1="254.3" x2="511.6" y2="254.3" stroke="#33AAC4" stroke-width="1.4"/>
<line x1="542.4" y1="267.6" x2="542.4" y2="273.4" stroke="#E26D64" stroke-width="1"/>
<line x1="542.4" y1="261.2" x2="542.4" y2="252.6" stroke="#E26D64" stroke-width="1"/>
<line x1="542.4" y1="252.6" x2="542.4" y2="237.3" stroke="#D9514A" stroke-width="1.9" stroke-linecap="round"/>
<rect x="534.4" y="261.2" width="16" height="6.4" fill="#EBA094" stroke="#E2675C" stroke-width="1"/>
<line x1="534.4" y1="264.4" x2="550.4" y2="264.4" stroke="#D9514A" stroke-width="1.4"/>
<line x1="569.6" y1="260.5" x2="569.6" y2="271.8" stroke="#78C6D8" stroke-width="1"/>
<line x1="569.6" y1="252.3" x2="569.6" y2="241.7" stroke="#78C6D8" stroke-width="1"/>
<line x1="569.6" y1="241.7" x2="569.6" y2="235.6" stroke="#33AAC4" stroke-width="1.9" stroke-linecap="round"/>
<circle cx="569.6" cy="228.5" r="0.95" fill="#33AAC4"/>
<circle cx="569.6" cy="231.5" r="0.95" fill="#33AAC4"/>
<circle cx="569.6" cy="273.1" r="0.95" fill="#33AAC4"/>
<rect x="561.6" y="252.3" width="16" height="8.2" fill="#9DCAD9" stroke="#4DB5CC" stroke-width="1"/>
<line x1="561.6" y1="256.2" x2="577.6" y2="256.2" stroke="#33AAC4" stroke-width="1.4"/>
<line x1="370.6" y1="330.6" x2="370.6" y2="339" stroke="#E26D64" stroke-width="1"/>
<line x1="370.6" y1="323.9" x2="370.6" y2="315" stroke="#E26D64" stroke-width="1"/>
<line x1="370.6" y1="315" x2="370.6" y2="301.3" stroke="#D9514A" stroke-width="1.9" stroke-linecap="round"/>
<rect x="362.6" y="323.9" width="16" height="6.7" fill="#EBA094" stroke="#E2675C" stroke-width="1"/>
<line x1="362.6" y1="327.3" x2="378.6" y2="327.3" stroke="#D9514A" stroke-width="1.4"/>
<line x1="410.3" y1="331.9" x2="410.3" y2="339" stroke="#E26D64" stroke-width="1"/>
<line x1="410.3" y1="325.1" x2="410.3" y2="317.1" stroke="#E26D64" stroke-width="1"/>
<line x1="410.3" y1="317.1" x2="410.3" y2="299.3" stroke="#D9514A" stroke-width="1.9" stroke-linecap="round"/>
<rect x="402.3" y="325.1" width="16" height="6.8" fill="#EBA094" stroke="#E2675C" stroke-width="1"/>
<line x1="402.3" y1="329" x2="418.3" y2="329" stroke="#D9514A" stroke-width="1.4"/>
<line x1="437.6" y1="331.9" x2="437.6" y2="339.6" stroke="#78C6D8" stroke-width="1"/>
<line x1="437.6" y1="317.1" x2="437.6" y2="301" stroke="#78C6D8" stroke-width="1"/>
<rect x="429.6" y="317.1" width="16" height="14.8" fill="#9DCAD9" stroke="#4DB5CC" stroke-width="1"/>
<line x1="429.6" y1="323.2" x2="445.6" y2="323.2" stroke="#33AAC4" stroke-width="1.4"/>
<line x1="476.6" y1="333.6" x2="476.6" y2="339" stroke="#E26D64" stroke-width="1"/>
<line x1="476.6" y1="327.3" x2="476.6" y2="318.8" stroke="#E26D64" stroke-width="1"/>
<line x1="476.6" y1="318.8" x2="476.6" y2="302.1" stroke="#D9514A" stroke-width="1.9" stroke-linecap="round"/>
<rect x="468.6" y="327.3" width="16" height="6.3" fill="#EBA094" stroke="#E2675C" stroke-width="1"/>
<line x1="468.6" y1="330.3" x2="484.6" y2="330.3" stroke="#D9514A" stroke-width="1.4"/>
<line x1="503.6" y1="325.6" x2="503.6" y2="339.4" stroke="#78C6D8" stroke-width="1"/>
<line x1="503.6" y1="315.2" x2="503.6" y2="299.6" stroke="#78C6D8" stroke-width="1"/>
<circle cx="503.6" cy="297.4" r="0.95" fill="#33AAC4"/>
<rect x="495.6" y="315.2" width="16" height="10.4" fill="#9DCAD9" stroke="#4DB5CC" stroke-width="1"/>
<line x1="495.6" y1="320.1" x2="511.6" y2="320.1" stroke="#33AAC4" stroke-width="1.4"/>
<line x1="542.4" y1="336.6" x2="542.4" y2="339.4" stroke="#E26D64" stroke-width="1"/>
<line x1="542.4" y1="331.2" x2="542.4" y2="324.8" stroke="#E26D64" stroke-width="1"/>
<line x1="542.4" y1="324.8" x2="542.4" y2="308.9" stroke="#D9514A" stroke-width="1.9" stroke-linecap="round"/>
<rect x="534.4" y="331.2" width="16" height="5.4" fill="#EBA094" stroke="#E2675C" stroke-width="1"/>
<line x1="534.4" y1="334.1" x2="550.4" y2="334.1" stroke="#D9514A" stroke-width="1.4"/>
<line x1="569.6" y1="327" x2="569.6" y2="338.7" stroke="#78C6D8" stroke-width="1"/>
<line x1="569.6" y1="317.1" x2="569.6" y2="302.4" stroke="#78C6D8" stroke-width="1"/>
<line x1="569.6" y1="302.4" x2="569.6" y2="300.2" stroke="#33AAC4" stroke-width="1.9" stroke-linecap="round"/>
<circle cx="569.6" cy="292.8" r="0.95" fill="#33AAC4"/>
<circle cx="569.6" cy="295.5" r="0.95" fill="#33AAC4"/>
<circle cx="569.6" cy="298" r="0.95" fill="#33AAC4"/>
<rect x="561.6" y="317.1" width="16" height="9.9" fill="#9DCAD9" stroke="#4DB5CC" stroke-width="1"/>
<line x1="561.6" y1="322.3" x2="577.6" y2="322.3" stroke="#33AAC4" stroke-width="1.4"/>
<path d="M410.3,225.1 L410.3,222.3 L437.6,222.3 L437.6,225.1" stroke="#555" fill="none" stroke-width="0.8"/>
<polygon points="415.33,213.95 416.06,215.49 417.75,215.71 416.51,216.89 416.82,218.56 415.33,217.75 413.83,218.56 414.14,216.89 412.9,215.71 414.59,215.49" fill="#2a2a2a"/>
<polygon points="421.08,213.95 421.81,215.49 423.5,215.71 422.26,216.89 422.57,218.56 421.08,217.75 419.58,218.56 419.89,216.89 418.65,215.71 420.34,215.49" fill="#2a2a2a"/>
<polygon points="426.83,213.95 427.56,215.49 429.25,215.71 428.01,216.89 428.32,218.56 426.83,217.75 425.33,218.56 425.64,216.89 424.4,215.71 426.09,215.49" fill="#2a2a2a"/>
<polygon points="432.58,213.95 433.31,215.49 435,215.71 433.76,216.89 434.07,218.56 432.58,217.75 431.08,218.56 431.39,216.89 430.15,215.71 431.84,215.49" fill="#2a2a2a"/>
<path d="M476.4,225.1 L476.4,222.3 L503.6,222.3 L503.6,225.1" stroke="#555" fill="none" stroke-width="0.8"/>
<polygon points="481.38,213.95 482.11,215.49 483.8,215.71 482.56,216.89 482.87,218.56 481.38,217.75 479.88,218.56 480.19,216.89 478.95,215.71 480.64,215.49" fill="#2a2a2a"/>
<polygon points="487.12,213.95 487.86,215.49 489.55,215.71 488.31,216.89 488.62,218.56 487.12,217.75 485.63,218.56 485.94,216.89 484.7,215.71 486.39,215.49" fill="#2a2a2a"/>
<polygon points="492.88,213.95 493.61,215.49 495.3,215.71 494.06,216.89 494.37,218.56 492.88,217.75 491.38,218.56 491.69,216.89 490.45,215.71 492.14,215.49" fill="#2a2a2a"/>
<polygon points="498.62,213.95 499.36,215.49 501.05,215.71 499.81,216.89 500.12,218.56 498.62,217.75 497.13,218.56 497.44,216.89 496.2,215.71 497.89,215.49" fill="#2a2a2a"/>
<path d="M542.4,225.1 L542.4,222.3 L569.6,222.3 L569.6,225.1" stroke="#555" fill="none" stroke-width="0.8"/>
<polygon points="547.38,213.95 548.11,215.49 549.8,215.71 548.56,216.89 548.87,218.56 547.38,217.75 545.88,218.56 546.19,216.89 544.95,215.71 546.64,215.49" fill="#2a2a2a"/>
<polygon points="553.12,213.95 553.86,215.49 555.55,215.71 554.31,216.89 554.62,218.56 553.12,217.75 551.63,218.56 551.94,216.89 550.7,215.71 552.39,215.49" fill="#2a2a2a"/>
<polygon points="558.88,213.95 559.61,215.49 561.3,215.71 560.06,216.89 560.37,218.56 558.88,217.75 557.38,218.56 557.69,216.89 556.45,215.71 558.14,215.49" fill="#2a2a2a"/>
<polygon points="564.62,213.95 565.36,215.49 567.05,215.71 565.81,216.89 566.12,218.56 564.62,217.75 563.13,218.56 563.44,216.89 562.2,215.71 563.89,215.49" fill="#2a2a2a"/>
<path d="M410.3,291.3 L410.3,288.5 L437.6,288.5 L437.6,291.3" stroke="#555" fill="none" stroke-width="0.8"/>
<polygon points="415.33,280.15 416.06,281.69 417.75,281.91 416.51,283.09 416.82,284.76 415.33,283.95 413.83,284.76 414.14,283.09 412.9,281.91 414.59,281.69" fill="#2a2a2a"/>
<polygon points="421.08,280.15 421.81,281.69 423.5,281.91 422.26,283.09 422.57,284.76 421.08,283.95 419.58,284.76 419.89,283.09 418.65,281.91 420.34,281.69" fill="#2a2a2a"/>
<polygon points="426.83,280.15 427.56,281.69 429.25,281.91 428.01,283.09 428.32,284.76 426.83,283.95 425.33,284.76 425.64,283.09 424.4,281.91 426.09,281.69" fill="#2a2a2a"/>
<polygon points="432.58,280.15 433.31,281.69 435,281.91 433.76,283.09 434.07,284.76 432.58,283.95 431.08,284.76 431.39,283.09 430.15,281.91 431.84,281.69" fill="#2a2a2a"/>
<path d="M476.4,291.3 L476.4,288.5 L503.6,288.5 L503.6,291.3" stroke="#555" fill="none" stroke-width="0.8"/>
<polygon points="481.38,280.15 482.11,281.69 483.8,281.91 482.56,283.09 482.87,284.76 481.38,283.95 479.88,284.76 480.19,283.09 478.95,281.91 480.64,281.69" fill="#2a2a2a"/>
<polygon points="487.12,280.15 487.86,281.69 489.55,281.91 488.31,283.09 488.62,284.76 487.12,283.95 485.63,284.76 485.94,283.09 484.7,281.91 486.39,281.69" fill="#2a2a2a"/>
<polygon points="492.88,280.15 493.61,281.69 495.3,281.91 494.06,283.09 494.37,284.76 492.88,283.95 491.38,284.76 491.69,283.09 490.45,281.91 492.14,281.69" fill="#2a2a2a"/>
<polygon points="498.62,280.15 499.36,281.69 501.05,281.91 499.81,283.09 500.12,284.76 498.62,283.95 497.13,284.76 497.44,283.09 496.2,281.91 497.89,281.69" fill="#2a2a2a"/>
<path d="M542.4,291.3 L542.4,288.5 L569.6,288.5 L569.6,291.3" stroke="#555" fill="none" stroke-width="0.8"/>
<polygon points="547.38,280.15 548.11,281.69 549.8,281.91 548.56,283.09 548.87,284.76 547.38,283.95 545.88,284.76 546.19,283.09 544.95,281.91 546.64,281.69" fill="#2a2a2a"/>
<polygon points="553.12,280.15 553.86,281.69 555.55,281.91 554.31,283.09 554.62,284.76 553.12,283.95 551.63,284.76 551.94,283.09 550.7,281.91 552.39,281.69" fill="#2a2a2a"/>
<polygon points="558.88,280.15 559.61,281.69 561.3,281.91 560.06,283.09 560.37,284.76 558.88,283.95 557.38,284.76 557.69,283.09 556.45,281.91 558.14,281.69" fill="#2a2a2a"/>
<polygon points="564.62,280.15 565.36,281.69 567.05,281.91 565.81,283.09 566.12,284.76 564.62,283.95 563.13,284.76 563.44,283.09 562.2,281.91 563.89,281.69" fill="#2a2a2a"/>
<text transform="translate(-0.3 424.9) scale(1.17 1)" font-size="14.5" font-weight="bold" fill="#111">f</text>
<text x="52" y="425.4" font-size="10" fill="#E0605A" textLength="39.2" lengthAdjust="spacingAndGlyphs">Amoeba</text>
<text x="63.3" y="440.5" font-size="10" textLength="40.8" lengthAdjust="spacingAndGlyphs">RNA-seq</text>
<text x="139" y="440.5" font-size="10" textLength="41.5" lengthAdjust="spacingAndGlyphs">Ribo-seq</text>
<g><path fill="#da5546" d="M47.9 444.9h9.19v1h-9.19zM56.79 447.69h9.19v1h-9.19zM56.79 451.18h9.19v1h-9.19zM56.79 452.57h9.19v1h-9.19zM47.9 456.75h9.19v1h-9.19zM47.9 458.15h9.19v1h-9.19zM56.79 463.03h9.19v1h-9.19zM47.9 465.12h9.19v1h-9.19zM56.79 465.12h9.19v1h-9.19zM56.79 465.82h9.19v1h-9.19zM47.9 467.91h9.19v1h-9.19zM47.9 470h9.19v1h-9.19zM56.79 470h9.19v1h-9.19z"/><path fill="#db594a" d="M56.79 444.9h9.19v1h-9.19zM56.79 446.29h9.19v1h-9.19zM56.79 449.08h9.19v1h-9.19zM47.9 452.57h9.19v1h-9.19zM56.79 454.66h9.19v1h-9.19zM56.79 460.24h9.19v1h-9.19zM56.79 461.64h9.19v1h-9.19zM47.9 462.33h9.19v1h-9.19zM56.79 467.91h9.19v1h-9.19zM56.79 468.61h9.19v1h-9.19z"/><path fill="#b9bed7" d="M65.67 444.9h9.19v1h-9.19zM65.67 449.78h9.19v1h-9.19zM65.67 450.48h9.19v1h-9.19zM65.67 456.06h9.19v1h-9.19zM65.67 457.45h9.19v1h-9.19zM65.67 460.94h9.19v1h-9.19zM65.67 467.91h9.19v1h-9.19zM65.67 470h9.19v1h-9.19z"/><path fill="#afadcd" d="M74.56 444.9h9.19v1h-9.19zM74.56 446.29h9.19v1h-9.19zM74.56 460.24h9.19v1h-9.19zM74.56 464.42h9.19v1h-9.19zM74.56 465.12h9.19v1h-9.19zM74.56 467.21h9.19v1h-9.19z"/><path fill="#b9beda" d="M83.45 444.9h9.19v1h-9.19zM83.45 446.99h9.19v1h-9.19zM83.45 447.69h9.19v1h-9.19zM83.45 451.87h9.19v1h-9.19zM83.45 452.57h9.19v1h-9.19zM83.45 453.96h9.19v1h-9.19zM83.45 456.75h9.19v1h-9.19zM83.45 459.54h9.19v1h-9.19zM83.45 460.24h9.19v1h-9.19zM83.45 463.03h9.19v1h-9.19z"/><path fill="#c3b6ca" d="M92.34 444.9h9.19v1h-9.19zM92.34 451.18h9.19v1h-9.19zM92.34 452.57h9.19v1h-9.19zM92.34 456.75h9.19v1h-9.19zM92.34 462.33h9.19v1h-9.19zM92.34 468.61h9.19v1h-9.19z"/><path fill="#90a4d1" d="M101.22 444.9h9.19v1h-9.19zM101.22 445.6h9.19v1h-9.19zM101.22 450.48h9.19v1h-9.19z"/><path fill="#8a9dcd" d="M110.11 444.9h9.19v1h-9.19zM110.11 463.73h9.19v1h-9.19z"/><path fill="#d74e40" d="M47.9 445.6h9.19v1h-9.19zM47.9 447.69h9.19v1h-9.19zM47.9 456.06h9.19v1h-9.19zM56.79 459.54h9.19v1h-9.19zM56.79 460.94h9.19v1h-9.19zM47.9 463.73h9.19v1h-9.19zM56.79 463.73h9.19v1h-9.19z"/><path fill="#d95143" d="M56.79 445.6h9.19v1h-9.19zM47.9 446.99h9.19v1h-9.19zM56.79 449.78h9.19v1h-9.19zM56.79 453.27h9.19v1h-9.19zM56.79 456.75h9.19v1h-9.19zM47.9 465.82h9.19v1h-9.19zM47.9 469.31h9.19v1h-9.19z"/><path fill="#abb3d3" d="M65.67 445.6h9.19v1h-9.19zM65.67 458.15h9.19v1h-9.19zM65.67 465.12h9.19v1h-9.19z"/><path fill="#b7b1cf" d="M74.56 445.6h9.19v1h-9.19zM74.56 449.08h9.19v1h-9.19zM74.56 450.48h9.19v1h-9.19zM74.56 454.66h9.19v1h-9.19zM74.56 457.45h9.19v1h-9.19zM74.56 458.15h9.19v1h-9.19zM74.56 461.64h9.19v1h-9.19z"/><path fill="#abb3d5" d="M83.45 445.6h9.19v1h-9.19zM83.45 451.18h9.19v1h-9.19zM83.45 460.94h9.19v1h-9.19zM83.45 464.42h9.19v1h-9.19zM83.45 469.31h9.19v1h-9.19z"/><path fill="#b3adc8" d="M92.34 445.6h9.19v1h-9.19zM92.34 456.06h9.19v1h-9.19zM92.34 460.94h9.19v1h-9.19zM92.34 465.12h9.19v1h-9.19zM92.34 469.31h9.19v1h-9.19z"/><path fill="#91a3cf" d="M110.11 445.6h9.19v1h-9.19z"/><path fill="#dc5d4e" d="M47.9 446.29h9.19v1h-9.19zM47.9 449.08h9.19v1h-9.19zM47.9 453.96h9.19v1h-9.19zM47.9 455.36h9.19v1h-9.19zM47.9 461.64h9.19v1h-9.19zM56.79 462.33h9.19v1h-9.19zM47.9 467.21h9.19v1h-9.19z"/><path fill="#bebcd2" d="M65.67 446.29h9.19v1h-9.19zM65.67 446.99h9.19v1h-9.19zM65.67 447.69h9.19v1h-9.19zM65.67 451.18h9.19v1h-9.19zM65.67 453.27h9.19v1h-9.19zM65.67 454.66h9.19v1h-9.19zM65.67 455.36h9.19v1h-9.19zM65.67 462.33h9.19v1h-9.19zM65.67 468.61h9.19v1h-9.19zM65.67 469.31h9.19v1h-9.19z"/><path fill="#b2b9d8" d="M83.45 446.29h9.19v1h-9.19zM83.45 449.08h9.19v1h-9.19zM83.45 465.12h9.19v1h-9.19z"/><path fill="#bbb1c9" d="M92.34 446.29h9.19v1h-9.19zM92.34 451.87h9.19v1h-9.19zM92.34 453.96h9.19v1h-9.19zM92.34 459.54h9.19v1h-9.19zM92.34 460.24h9.19v1h-9.19zM92.34 464.42h9.19v1h-9.19z"/><path fill="#93a7d3" d="M101.22 446.29h9.19v1h-9.19zM101.22 463.03h9.19v1h-9.19zM101.22 465.12h9.19v1h-9.19zM101.22 469.31h9.19v1h-9.19z"/><path fill="#98a8d2" d="M110.11 446.29h9.19v1h-9.19zM110.11 446.99h9.19v1h-9.19zM110.11 461.64h9.19v1h-9.19zM110.11 463.03h9.19v1h-9.19zM110.11 465.82h9.19v1h-9.19zM110.11 469.31h9.19v1h-9.19z"/><path fill="#d85041" d="M56.79 446.99h9.19v1h-9.19zM47.9 448.39h9.19v1h-9.19zM47.9 449.78h9.19v1h-9.19zM56.79 451.87h9.19v1h-9.19zM47.9 459.54h9.19v1h-9.19zM47.9 460.94h9.19v1h-9.19zM47.9 464.42h9.19v1h-9.19zM56.79 464.42h9.19v1h-9.19z"/><path fill="#beb6d0" d="M74.56 446.99h9.19v1h-9.19zM74.56 449.78h9.19v1h-9.19zM74.56 456.06h9.19v1h-9.19zM74.56 456.75h9.19v1h-9.19zM74.56 458.85h9.19v1h-9.19zM74.56 459.54h9.19v1h-9.19zM74.56 468.61h9.19v1h-9.19z"/><path fill="#c7b5c6" d="M92.34 446.99h9.19v1h-9.19zM92.34 447.69h9.19v1h-9.19zM92.34 449.08h9.19v1h-9.19zM92.34 449.78h9.19v1h-9.19zM92.34 457.45h9.19v1h-9.19z"/><path fill="#a6b4d7" d="M101.22 446.99h9.19v1h-9.19zM101.22 453.96h9.19v1h-9.19zM101.22 454.66h9.19v1h-9.19zM101.22 458.15h9.19v1h-9.19zM101.22 458.85h9.19v1h-9.19zM101.22 468.61h9.19v1h-9.19z"/><path fill="#c2b5cc" d="M74.56 447.69h9.19v1h-9.19zM74.56 455.36h9.19v1h-9.19zM74.56 460.94h9.19v1h-9.19zM74.56 463.03h9.19v1h-9.19zM74.56 470h9.19v1h-9.19z"/><path fill="#899ece" d="M101.22 447.69h9.19v1h-9.19zM101.22 456.06h9.19v1h-9.19zM101.22 460.94h9.19v1h-9.19zM101.22 463.73h9.19v1h-9.19zM101.22 470h9.19v1h-9.19z"/><path fill="#879acc" d="M110.11 447.69h9.19v1h-9.19zM110.11 456.06h9.19v1h-9.19zM110.11 470h9.19v1h-9.19z"/><path fill="#d95344" d="M56.79 448.39h9.19v1h-9.19zM47.9 450.48h9.19v1h-9.19zM56.79 450.48h9.19v1h-9.19zM47.9 451.18h9.19v1h-9.19zM47.9 453.27h9.19v1h-9.19zM56.79 458.15h9.19v1h-9.19zM47.9 460.24h9.19v1h-9.19zM47.9 463.03h9.19v1h-9.19zM47.9 468.61h9.19v1h-9.19zM56.79 469.31h9.19v1h-9.19z"/><path fill="#c2bace" d="M65.67 448.39h9.19v1h-9.19zM65.67 461.64h9.19v1h-9.19z"/><path fill="#d3b1bc" d="M74.56 448.39h9.19v1h-9.19z"/><path fill="#c7b9cb" d="M83.45 448.39h9.19v1h-9.19zM83.45 453.27h9.19v1h-9.19zM83.45 458.15h9.19v1h-9.19zM83.45 461.64h9.19v1h-9.19zM83.45 466.52h9.19v1h-9.19z"/><path fill="#cbb4c3" d="M92.34 448.39h9.19v1h-9.19zM92.34 450.48h9.19v1h-9.19zM92.34 454.66h9.19v1h-9.19zM92.34 455.36h9.19v1h-9.19zM92.34 458.85h9.19v1h-9.19zM92.34 466.52h9.19v1h-9.19zM92.34 467.91h9.19v1h-9.19zM92.34 470h9.19v1h-9.19z"/><path fill="#a0b0d6" d="M101.22 448.39h9.19v1h-9.19zM101.22 449.78h9.19v1h-9.19zM101.22 452.57h9.19v1h-9.19zM101.22 455.36h9.19v1h-9.19zM101.22 456.75h9.19v1h-9.19zM101.22 465.82h9.19v1h-9.19z"/><path fill="#a2afd5" d="M110.11 448.39h9.19v1h-9.19zM110.11 454.66h9.19v1h-9.19zM110.11 458.15h9.19v1h-9.19zM110.11 468.61h9.19v1h-9.19z"/><path fill="#b2b9d5" d="M65.67 449.08h9.19v1h-9.19zM65.67 456.75h9.19v1h-9.19zM65.67 459.54h9.19v1h-9.19zM65.67 460.24h9.19v1h-9.19zM65.67 463.03h9.19v1h-9.19zM65.67 467.21h9.19v1h-9.19z"/><path fill="#9badd5" d="M101.22 449.08h9.19v1h-9.19zM101.22 459.54h9.19v1h-9.19zM101.22 461.64h9.19v1h-9.19zM101.22 467.91h9.19v1h-9.19z"/><path fill="#a7b2d6" d="M110.11 449.08h9.19v1h-9.19zM110.11 467.21h9.19v1h-9.19z"/><path fill="#c2bad0" d="M83.45 449.78h9.19v1h-9.19zM83.45 450.48h9.19v1h-9.19zM83.45 454.66h9.19v1h-9.19zM83.45 457.45h9.19v1h-9.19zM83.45 462.33h9.19v1h-9.19zM83.45 470h9.19v1h-9.19z"/><path fill="#9dabd3" d="M110.11 449.78h9.19v1h-9.19zM110.11 450.48h9.19v1h-9.19zM110.11 451.18h9.19v1h-9.19zM110.11 455.36h9.19v1h-9.19zM110.11 458.85h9.19v1h-9.19zM110.11 459.54h9.19v1h-9.19zM110.11 466.52h9.19v1h-9.19zM110.11 467.91h9.19v1h-9.19z"/><path fill="#c6b4c8" d="M74.56 451.18h9.19v1h-9.19zM74.56 453.27h9.19v1h-9.19zM74.56 462.33h9.19v1h-9.19z"/><path fill="#96aad4" d="M101.22 451.18h9.19v1h-9.19zM101.22 460.24h9.19v1h-9.19zM101.22 464.42h9.19v1h-9.19zM101.22 466.52h9.19v1h-9.19z"/><path fill="#d64c3e" d="M47.9 451.87h9.19v1h-9.19zM56.79 456.06h9.19v1h-9.19z"/><path fill="#c7b9c9" d="M65.67 451.87h9.19v1h-9.19zM65.67 466.52h9.19v1h-9.19z"/><path fill="#cbb3c4" d="M74.56 451.87h9.19v1h-9.19zM74.56 466.52h9.19v1h-9.19zM74.56 467.91h9.19v1h-9.19z"/><path fill="#c7929c" d="M101.22 451.87h9.19v1h-9.19zM101.22 462.33h9.19v1h-9.19z"/><path fill="#c8919b" d="M110.11 451.87h9.19v1h-9.19zM110.11 462.33h9.19v1h-9.19z"/><path fill="#a4aed1" d="M65.67 452.57h9.19v1h-9.19zM65.67 458.85h9.19v1h-9.19zM65.67 464.42h9.19v1h-9.19z"/><path fill="#a8a8cc" d="M74.56 452.57h9.19v1h-9.19zM74.56 465.82h9.19v1h-9.19zM74.56 469.31h9.19v1h-9.19z"/><path fill="#95a5d1" d="M110.11 452.57h9.19v1h-9.19zM110.11 453.27h9.19v1h-9.19zM110.11 456.75h9.19v1h-9.19zM110.11 460.24h9.19v1h-9.19zM110.11 464.42h9.19v1h-9.19zM110.11 465.12h9.19v1h-9.19z"/><path fill="#d2b2bc" d="M92.34 453.27h9.19v1h-9.19z"/><path fill="#8ca1d0" d="M101.22 453.27h9.19v1h-9.19z"/><path fill="#de6557" d="M56.79 453.96h9.19v1h-9.19zM47.9 454.66h9.19v1h-9.19zM56.79 458.85h9.19v1h-9.19z"/><path fill="#d59a9d" d="M65.67 453.96h9.19v1h-9.19zM65.67 463.73h9.19v1h-9.19z"/><path fill="#d7979a" d="M74.56 453.96h9.19v1h-9.19zM74.56 463.73h9.19v1h-9.19z"/><path fill="#acb5d7" d="M110.11 453.96h9.19v1h-9.19z"/><path fill="#dd6153" d="M56.79 455.36h9.19v1h-9.19zM47.9 466.52h9.19v1h-9.19zM56.79 467.21h9.19v1h-9.19z"/><path fill="#bebcd5" d="M83.45 455.36h9.19v1h-9.19zM83.45 458.85h9.19v1h-9.19zM83.45 468.61h9.19v1h-9.19z"/><path fill="#96a4cf" d="M83.45 456.06h9.19v1h-9.19z"/><path fill="#df695b" d="M47.9 457.45h9.19v1h-9.19zM56.79 457.45h9.19v1h-9.19zM47.9 458.85h9.19v1h-9.19zM56.79 466.52h9.19v1h-9.19z"/><path fill="#abb7d9" d="M101.22 457.45h9.19v1h-9.19zM101.22 467.21h9.19v1h-9.19z"/><path fill="#b1b9d8" d="M110.11 457.45h9.19v1h-9.19z"/><path fill="#dab0b5" d="M92.34 458.15h9.19v1h-9.19z"/><path fill="#8498ca" d="M110.11 460.94h9.19v1h-9.19z"/><path fill="#ceb3bf" d="M92.34 461.64h9.19v1h-9.19z"/><path fill="#aba8c7" d="M92.34 463.03h9.19v1h-9.19z"/><path fill="#9da9d1" d="M83.45 463.73h9.19v1h-9.19z"/><path fill="#a3a4c6" d="M92.34 463.73h9.19v1h-9.19z"/><path fill="#9da9cf" d="M65.67 465.82h9.19v1h-9.19z"/><path fill="#d59a9e" d="M83.45 465.82h9.19v1h-9.19z"/><path fill="#d99798" d="M92.34 465.82h9.19v1h-9.19z"/><path fill="#d0b5c1" d="M83.45 467.21h9.19v1h-9.19zM83.45 467.91h9.19v1h-9.19z"/><path fill="#d6b1b8" d="M92.34 467.21h9.19v1h-9.19z"/><path fill="#e27b6c" d="M124.4 444.9h9.12v1h-9.12zM124.4 445.6h9.12v1h-9.12zM124.4 446.29h9.12v1h-9.12zM124.4 446.99h9.12v1h-9.12zM124.4 450.48h9.12v1h-9.12zM124.4 455.36h9.12v1h-9.12zM124.4 463.03h9.12v1h-9.12zM124.4 467.21h9.12v1h-9.12zM124.4 469.31h9.12v1h-9.12z"/><path fill="#e3796a" d="M133.22 444.9h9.12v1h-9.12zM133.22 446.29h9.12v1h-9.12zM133.22 451.18h9.12v1h-9.12zM133.22 451.87h9.12v1h-9.12zM133.22 460.94h9.12v1h-9.12zM133.22 465.12h9.12v1h-9.12zM133.22 467.21h9.12v1h-9.12z"/><path fill="#b9aac5" d="M142.05 444.9h9.12v1h-9.12zM142.05 448.39h9.12v1h-9.12zM142.05 452.57h9.12v1h-9.12zM142.05 454.66h9.12v1h-9.12zM142.05 456.06h9.12v1h-9.12zM142.05 458.85h9.12v1h-9.12zM142.05 467.91h9.12v1h-9.12z"/><path fill="#a4abd0" d="M150.88 444.9h9.12v1h-9.12zM150.88 445.6h9.12v1h-9.12zM150.88 458.15h9.12v1h-9.12zM150.88 458.85h9.12v1h-9.12zM150.88 461.64h9.12v1h-9.12zM168.53 553.78h9.12v1h-9.12zM168.53 561.46h9.12v1h-9.12zM168.53 564.95h9.12v1h-9.12zM168.53 566.35h9.12v1h-9.12zM168.53 575.43h9.12v1h-9.12zM168.53 578.92h9.12v1h-9.12z"/><path fill="#c7afc0" d="M159.7 444.9h9.12v1h-9.12zM159.7 449.78h9.12v1h-9.12zM159.7 451.18h9.12v1h-9.12zM159.7 452.57h9.12v1h-9.12zM159.7 453.96h9.12v1h-9.12zM159.7 465.12h9.12v1h-9.12zM159.7 465.82h9.12v1h-9.12zM159.7 467.91h9.12v1h-9.12z"/><path fill="#b7a6c3" d="M168.53 444.9h9.12v1h-9.12zM168.53 453.27h9.12v1h-9.12zM168.53 456.75h9.12v1h-9.12zM168.53 458.15h9.12v1h-9.12zM168.53 460.24h9.12v1h-9.12zM168.53 463.03h9.12v1h-9.12zM168.53 468.61h9.12v1h-9.12zM168.53 469.31h9.12v1h-9.12z"/><path fill="#a9b2d3" d="M177.35 444.9h9.12v1h-9.12zM177.35 450.48h9.12v1h-9.12zM177.35 456.75h9.12v1h-9.12zM177.35 457.45h9.12v1h-9.12zM177.35 463.03h9.12v1h-9.12zM177.35 465.12h9.12v1h-9.12z"/><path fill="#b5aac5" d="M186.18 444.9h9.12v1h-9.12zM186.18 445.6h9.12v1h-9.12zM186.18 447.69h9.12v1h-9.12zM186.18 448.39h9.12v1h-9.12zM186.18 458.15h9.12v1h-9.12zM186.18 458.85h9.12v1h-9.12zM186.18 463.03h9.12v1h-9.12zM186.18 465.82h9.12v1h-9.12z"/><path fill="#e37b6d" d="M133.22 445.6h9.12v1h-9.12zM133.22 446.99h9.12v1h-9.12zM133.22 450.48h9.12v1h-9.12zM133.22 453.96h9.12v1h-9.12zM133.22 455.36h9.12v1h-9.12zM133.22 458.15h9.12v1h-9.12zM133.22 459.54h9.12v1h-9.12zM133.22 463.03h9.12v1h-9.12zM133.22 465.82h9.12v1h-9.12zM133.22 470h9.12v1h-9.12z"/><path fill="#ada6c7" d="M142.05 445.6h9.12v1h-9.12zM142.05 447.69h9.12v1h-9.12zM142.05 457.45h9.12v1h-9.12zM142.05 462.33h9.12v1h-9.12zM142.05 465.82h9.12v1h-9.12z"/><path fill="#9397c1" d="M159.7 445.6h9.12v1h-9.12z"/><path fill="#9195c1" d="M168.53 445.6h9.12v1h-9.12z"/><path fill="#a5afd2" d="M177.35 445.6h9.12v1h-9.12zM177.35 447.69h9.12v1h-9.12zM177.35 448.39h9.12v1h-9.12zM177.35 454.66h9.12v1h-9.12zM177.35 458.15h9.12v1h-9.12zM177.35 458.85h9.12v1h-9.12zM177.35 459.54h9.12v1h-9.12zM177.35 465.82h9.12v1h-9.12zM177.35 470h9.12v1h-9.12z"/><path fill="#c3aabe" d="M142.05 446.29h9.12v1h-9.12zM142.05 449.78h9.12v1h-9.12zM142.05 464.42h9.12v1h-9.12zM142.05 469.31h9.12v1h-9.12z"/><path fill="#c2adc1" d="M150.88 446.29h9.12v1h-9.12zM150.88 456.06h9.12v1h-9.12zM150.88 464.42h9.12v1h-9.12zM150.88 465.12h9.12v1h-9.12zM168.53 550.99h9.12v1h-9.12zM168.53 570.54h9.12v1h-9.12z"/><path fill="#bbabc3" d="M159.7 446.29h9.12v1h-9.12zM159.7 446.99h9.12v1h-9.12zM159.7 456.75h9.12v1h-9.12zM159.7 460.24h9.12v1h-9.12zM159.7 462.33h9.12v1h-9.12zM159.7 463.03h9.12v1h-9.12zM159.7 466.52h9.12v1h-9.12zM159.7 469.31h9.12v1h-9.12z"/><path fill="#beaac3" d="M168.53 446.29h9.12v1h-9.12zM168.53 448.39h9.12v1h-9.12zM168.53 449.08h9.12v1h-9.12zM168.53 449.78h9.12v1h-9.12zM168.53 454.66h9.12v1h-9.12z"/><path fill="#a1acd1" d="M177.35 446.29h9.12v1h-9.12zM177.35 453.27h9.12v1h-9.12zM177.35 462.33h9.12v1h-9.12zM177.35 466.52h9.12v1h-9.12z"/><path fill="#a9a6c7" d="M186.18 446.29h9.12v1h-9.12zM186.18 465.12h9.12v1h-9.12zM186.18 470h9.12v1h-9.12z"/><path fill="#beaac1" d="M142.05 446.99h9.12v1h-9.12zM142.05 450.48h9.12v1h-9.12zM142.05 455.36h9.12v1h-9.12zM142.05 459.54h9.12v1h-9.12zM142.05 463.73h9.12v1h-9.12zM142.05 465.12h9.12v1h-9.12z"/><path fill="#b0afce" d="M150.88 446.99h9.12v1h-9.12zM150.88 454.66h9.12v1h-9.12zM150.88 459.54h9.12v1h-9.12zM168.53 548.2h9.12v1h-9.12zM168.53 559.37h9.12v1h-9.12zM168.53 562.86h9.12v1h-9.12zM168.53 565.65h9.12v1h-9.12zM168.53 567.75h9.12v1h-9.12zM168.53 568.44h9.12v1h-9.12zM168.53 569.14h9.12v1h-9.12zM168.53 577.52h9.12v1h-9.12zM168.53 578.22h9.12v1h-9.12z"/><path fill="#afa3c2" d="M168.53 446.99h9.12v1h-9.12zM168.53 462.33h9.12v1h-9.12zM168.53 466.52h9.12v1h-9.12z"/><path fill="#adb5d5" d="M177.35 446.99h9.12v1h-9.12zM177.35 451.18h9.12v1h-9.12zM177.35 453.96h9.12v1h-9.12zM177.35 460.94h9.12v1h-9.12zM177.35 463.73h9.12v1h-9.12zM177.35 469.31h9.12v1h-9.12z"/><path fill="#afaac8" d="M186.18 446.99h9.12v1h-9.12zM186.18 451.87h9.12v1h-9.12zM186.18 454.66h9.12v1h-9.12zM186.18 455.36h9.12v1h-9.12zM186.18 457.45h9.12v1h-9.12zM186.18 461.64h9.12v1h-9.12zM186.18 466.52h9.12v1h-9.12z"/><path fill="#de6e60" d="M124.4 447.69h9.12v1h-9.12zM124.4 453.27h9.12v1h-9.12z"/><path fill="#e07061" d="M133.22 447.69h9.12v1h-9.12z"/><path fill="#9fa7cf" d="M150.88 447.69h9.12v1h-9.12zM150.88 448.39h9.12v1h-9.12zM150.88 453.96h9.12v1h-9.12zM150.88 457.45h9.12v1h-9.12zM150.88 465.82h9.12v1h-9.12zM150.88 466.52h9.12v1h-9.12zM168.53 547.5h9.12v1h-9.12zM168.53 552.39h9.12v1h-9.12zM168.53 554.48h9.12v1h-9.12zM168.53 560.07h9.12v1h-9.12zM168.53 571.24h9.12v1h-9.12z"/><path fill="#aba3c2" d="M159.7 447.69h9.12v1h-9.12zM159.7 468.61h9.12v1h-9.12z"/><path fill="#a09cc2" d="M168.53 447.69h9.12v1h-9.12z"/><path fill="#e48577" d="M124.4 448.39h9.12v1h-9.12zM124.4 464.42h9.12v1h-9.12z"/><path fill="#e58173" d="M133.22 448.39h9.12v1h-9.12zM133.22 454.66h9.12v1h-9.12zM133.22 464.42h9.12v1h-9.12z"/><path fill="#c3afc3" d="M159.7 448.39h9.12v1h-9.12zM159.7 449.08h9.12v1h-9.12zM159.7 454.66h9.12v1h-9.12zM159.7 458.15h9.12v1h-9.12z"/><path fill="#df7263" d="M124.4 449.08h9.12v1h-9.12zM124.4 460.24h9.12v1h-9.12zM124.4 467.91h9.12v1h-9.12z"/><path fill="#df6d5e" d="M133.22 449.08h9.12v1h-9.12zM133.22 452.57h9.12v1h-9.12zM133.22 453.27h9.12v1h-9.12zM133.22 458.85h9.12v1h-9.12zM133.22 468.61h9.12v1h-9.12z"/><path fill="#7f8ec2" d="M142.05 449.08h9.12v1h-9.12z"/><path fill="#8293c7" d="M150.88 449.08h9.12v1h-9.12z"/><path fill="#cd949b" d="M177.35 449.08h9.12v1h-9.12zM177.35 467.21h9.12v1h-9.12z"/><path fill="#d19297" d="M186.18 449.08h9.12v1h-9.12zM186.18 467.21h9.12v1h-9.12z"/><path fill="#e27d6f" d="M124.4 449.78h9.12v1h-9.12zM124.4 451.18h9.12v1h-9.12zM124.4 456.06h9.12v1h-9.12zM124.4 456.75h9.12v1h-9.12zM124.4 459.54h9.12v1h-9.12z"/><path fill="#e17364" d="M133.22 449.78h9.12v1h-9.12zM133.22 456.75h9.12v1h-9.12zM133.22 461.64h9.12v1h-9.12zM133.22 467.91h9.12v1h-9.12z"/><path fill="#b6aeca" d="M150.88 449.78h9.12v1h-9.12zM150.88 452.57h9.12v1h-9.12zM150.88 463.73h9.12v1h-9.12zM150.88 467.91h9.12v1h-9.12zM168.53 546.8h9.12v1h-9.12zM168.53 551.69h9.12v1h-9.12zM168.53 555.88h9.12v1h-9.12zM168.53 557.27h9.12v1h-9.12zM168.53 572.63h9.12v1h-9.12zM168.53 573.33h9.12v1h-9.12z"/><path fill="#9ca9cf" d="M177.35 449.78h9.12v1h-9.12zM177.35 461.64h9.12v1h-9.12z"/><path fill="#9d9fc6" d="M186.18 449.78h9.12v1h-9.12zM186.18 453.27h9.12v1h-9.12zM186.18 456.06h9.12v1h-9.12z"/><path fill="#aaafd2" d="M150.88 450.48h9.12v1h-9.12zM150.88 453.27h9.12v1h-9.12zM150.88 455.36h9.12v1h-9.12zM150.88 456.75h9.12v1h-9.12zM150.88 462.33h9.12v1h-9.12zM150.88 463.03h9.12v1h-9.12zM150.88 467.21h9.12v1h-9.12zM168.53 548.89h9.12v1h-9.12zM168.53 550.29h9.12v1h-9.12zM168.53 556.57h9.12v1h-9.12zM168.53 558.67h9.12v1h-9.12zM168.53 562.16h9.12v1h-9.12zM168.53 567.05h9.12v1h-9.12zM168.53 571.93h9.12v1h-9.12zM168.53 574.73h9.12v1h-9.12zM168.53 576.12h9.12v1h-9.12zM168.53 581.01h9.12v1h-9.12zM168.53 582.41h9.12v1h-9.12zM168.53 584.5h9.12v1h-9.12z"/><path fill="#cbaebd" d="M159.7 450.48h9.12v1h-9.12zM159.7 459.54h9.12v1h-9.12zM159.7 467.21h9.12v1h-9.12zM159.7 470h9.12v1h-9.12z"/><path fill="#cbaaba" d="M168.53 450.48h9.12v1h-9.12zM168.53 452.57h9.12v1h-9.12zM168.53 470h9.12v1h-9.12z"/><path fill="#baaac1" d="M186.18 450.48h9.12v1h-9.12zM186.18 459.54h9.12v1h-9.12zM186.18 460.24h9.12v1h-9.12zM186.18 460.94h9.12v1h-9.12zM186.18 463.73h9.12v1h-9.12zM186.18 464.42h9.12v1h-9.12z"/><path fill="#c8aabb" d="M142.05 451.18h9.12v1h-9.12z"/><path fill="#bcaec5" d="M150.88 451.18h9.12v1h-9.12zM150.88 469.31h9.12v1h-9.12zM168.53 574.03h9.12v1h-9.12zM168.53 576.82h9.12v1h-9.12z"/><path fill="#c2aac0" d="M168.53 451.18h9.12v1h-9.12zM168.53 457.45h9.12v1h-9.12zM168.53 460.94h9.12v1h-9.12zM168.53 465.12h9.12v1h-9.12zM168.53 465.82h9.12v1h-9.12zM168.53 467.21h9.12v1h-9.12zM168.53 467.91h9.12v1h-9.12z"/><path fill="#c0aabe" d="M186.18 451.18h9.12v1h-9.12zM186.18 453.96h9.12v1h-9.12z"/><path fill="#e17869" d="M124.4 451.87h9.12v1h-9.12zM124.4 460.94h9.12v1h-9.12zM124.4 463.73h9.12v1h-9.12zM124.4 465.12h9.12v1h-9.12zM124.4 465.82h9.12v1h-9.12z"/><path fill="#9a9cc5" d="M142.05 451.87h9.12v1h-9.12zM142.05 453.27h9.12v1h-9.12z"/><path fill="#939fcc" d="M150.88 451.87h9.12v1h-9.12zM150.88 468.61h9.12v1h-9.12zM168.53 560.76h9.12v1h-9.12zM168.53 569.84h9.12v1h-9.12z"/><path fill="#b3a7c2" d="M159.7 451.87h9.12v1h-9.12zM159.7 453.27h9.12v1h-9.12zM159.7 455.36h9.12v1h-9.12zM159.7 457.45h9.12v1h-9.12zM159.7 460.94h9.12v1h-9.12z"/><path fill="#a89fc2" d="M168.53 451.87h9.12v1h-9.12zM168.53 455.36h9.12v1h-9.12z"/><path fill="#94a2cd" d="M177.35 451.87h9.12v1h-9.12zM177.35 456.06h9.12v1h-9.12z"/><path fill="#e07566" d="M124.4 452.57h9.12v1h-9.12zM124.4 453.96h9.12v1h-9.12zM124.4 461.64h9.12v1h-9.12zM124.4 462.33h9.12v1h-9.12zM124.4 470h9.12v1h-9.12z"/><path fill="#b5bad7" d="M177.35 452.57h9.12v1h-9.12z"/><path fill="#c5aabb" d="M186.18 452.57h9.12v1h-9.12zM186.18 456.75h9.12v1h-9.12zM186.18 469.31h9.12v1h-9.12z"/><path fill="#a09fc6" d="M142.05 453.96h9.12v1h-9.12zM142.05 466.52h9.12v1h-9.12zM142.05 468.61h9.12v1h-9.12z"/><path fill="#c6aabd" d="M168.53 453.96h9.12v1h-9.12zM168.53 459.54h9.12v1h-9.12zM168.53 461.64h9.12v1h-9.12z"/><path fill="#e38071" d="M124.4 454.66h9.12v1h-9.12zM124.4 458.15h9.12v1h-9.12z"/><path fill="#b1b7d6" d="M177.35 455.36h9.12v1h-9.12zM177.35 460.24h9.12v1h-9.12zM177.35 464.42h9.12v1h-9.12z"/><path fill="#e27667" d="M133.22 456.06h9.12v1h-9.12zM133.22 462.33h9.12v1h-9.12zM133.22 463.73h9.12v1h-9.12zM133.22 469.31h9.12v1h-9.12z"/><path fill="#d2adb7" d="M159.7 456.06h9.12v1h-9.12zM159.7 461.64h9.12v1h-9.12z"/><path fill="#dcaaaf" d="M168.53 456.06h9.12v1h-9.12z"/><path fill="#a7a3c7" d="M142.05 456.75h9.12v1h-9.12zM142.05 458.15h9.12v1h-9.12zM142.05 460.94h9.12v1h-9.12z"/><path fill="#e5887a" d="M124.4 457.45h9.12v1h-9.12z"/><path fill="#e58375" d="M133.22 457.45h9.12v1h-9.12z"/><path fill="#dd6b5d" d="M124.4 458.85h9.12v1h-9.12zM124.4 468.61h9.12v1h-9.12z"/><path fill="#d99495" d="M159.7 458.85h9.12v1h-9.12zM159.7 463.73h9.12v1h-9.12zM159.7 464.42h9.12v1h-9.12z"/><path fill="#d79295" d="M168.53 458.85h9.12v1h-9.12zM168.53 463.73h9.12v1h-9.12zM168.53 464.42h9.12v1h-9.12z"/><path fill="#dd6659" d="M133.22 460.24h9.12v1h-9.12z"/><path fill="#9398c4" d="M142.05 460.24h9.12v1h-9.12zM142.05 470h9.12v1h-9.12z"/><path fill="#8897c8" d="M150.88 460.24h9.12v1h-9.12z"/><path fill="#8d9bca" d="M150.88 460.94h9.12v1h-9.12z"/><path fill="#b4aac8" d="M142.05 461.64h9.12v1h-9.12zM142.05 463.03h9.12v1h-9.12zM142.05 467.21h9.12v1h-9.12z"/><path fill="#a3a3c7" d="M186.18 462.33h9.12v1h-9.12zM186.18 467.91h9.12v1h-9.12zM186.18 468.61h9.12v1h-9.12z"/><path fill="#dc685a" d="M124.4 466.52h9.12v1h-9.12z"/><path fill="#dc6356" d="M133.22 466.52h9.12v1h-9.12z"/><path fill="#98a5ce" d="M177.35 467.91h9.12v1h-9.12zM177.35 468.61h9.12v1h-9.12z"/><path fill="#99a3cd" d="M150.88 470h9.12v1h-9.12zM168.53 549.59h9.12v1h-9.12zM168.53 553.08h9.12v1h-9.12zM168.53 557.97h9.12v1h-9.12zM168.53 564.25h9.12v1h-9.12zM168.53 579.61h9.12v1h-9.12zM168.53 580.31h9.12v1h-9.12zM168.53 581.71h9.12v1h-9.12zM168.53 583.11h9.12v1h-9.12z"/><path fill="#9babd3" d="M47.9 475.9h9.19v1h-9.19zM110.11 475.9h9.19v1h-9.19zM110.11 477.31h9.19v1h-9.19zM110.11 480.12h9.19v1h-9.19zM110.11 480.82h9.19v1h-9.19zM110.11 482.23h9.19v1h-9.19zM110.11 482.94h9.19v1h-9.19zM47.9 489.27h9.19v1h-9.19zM110.11 492.08h9.19v1h-9.19zM47.9 494.9h9.19v1h-9.19zM47.9 498.41h9.19v1h-9.19zM110.11 498.41h9.19v1h-9.19zM110.11 499.12h9.19v1h-9.19zM47.9 500.52h9.19v1h-9.19zM110.11 501.93h9.19v1h-9.19zM47.9 504.04h9.19v1h-9.19zM47.9 504.75h9.19v1h-9.19zM110.11 506.86h9.19v1h-9.19zM110.11 507.56h9.19v1h-9.19zM110.11 512.49h9.19v1h-9.19zM47.9 513.19h9.19v1h-9.19z"/><path fill="#a2b0d6" d="M56.79 475.9h9.19v1h-9.19zM56.79 478.01h9.19v1h-9.19zM101.22 478.01h9.19v1h-9.19zM56.79 481.53h9.19v1h-9.19zM56.79 483.64h9.19v1h-9.19zM101.22 486.45h9.19v1h-9.19zM56.79 491.38h9.19v1h-9.19zM56.79 493.49h9.19v1h-9.19zM101.22 494.19h9.19v1h-9.19zM101.22 494.9h9.19v1h-9.19zM56.79 499.82h9.19v1h-9.19zM101.22 499.82h9.19v1h-9.19zM101.22 502.64h9.19v1h-9.19zM56.79 503.34h9.19v1h-9.19zM56.79 511.78h9.19v1h-9.19z"/><path fill="#e16d5b" d="M65.67 475.9h9.19v1h-9.19zM65.67 499.82h9.19v1h-9.19z"/><path fill="#e16f5d" d="M74.56 475.9h9.19v1h-9.19zM74.56 476.6h9.19v1h-9.19zM74.56 495.6h9.19v1h-9.19zM74.56 507.56h9.19v1h-9.19z"/><path fill="#ecb0a6" d="M83.45 475.9h9.19v1h-9.19zM83.45 477.31h9.19v1h-9.19zM83.45 485.05h9.19v1h-9.19zM83.45 485.75h9.19v1h-9.19zM83.45 502.64h9.19v1h-9.19zM83.45 506.15h9.19v1h-9.19zM83.45 511.08h9.19v1h-9.19z"/><path fill="#edbcb2" d="M92.34 475.9h9.19v1h-9.19zM92.34 501.23h9.19v1h-9.19zM92.34 506.15h9.19v1h-9.19zM92.34 508.97h9.19v1h-9.19zM92.34 511.08h9.19v1h-9.19z"/><path fill="#97a9d3" d="M101.22 475.9h9.19v1h-9.19zM101.22 477.31h9.19v1h-9.19zM56.79 478.71h9.19v1h-9.19zM56.79 482.23h9.19v1h-9.19zM56.79 484.34h9.19v1h-9.19zM101.22 484.34h9.19v1h-9.19zM101.22 485.05h9.19v1h-9.19zM56.79 487.86h9.19v1h-9.19zM56.79 489.27h9.19v1h-9.19zM56.79 494.9h9.19v1h-9.19zM101.22 496.3h9.19v1h-9.19zM56.79 497.71h9.19v1h-9.19zM56.79 498.41h9.19v1h-9.19zM101.22 498.41h9.19v1h-9.19zM56.79 500.52h9.19v1h-9.19zM56.79 502.64h9.19v1h-9.19zM101.22 504.04h9.19v1h-9.19zM56.79 506.15h9.19v1h-9.19zM101.22 506.86h9.19v1h-9.19zM101.22 507.56h9.19v1h-9.19zM56.79 508.97h9.19v1h-9.19zM101.22 509.67h9.19v1h-9.19zM56.79 510.37h9.19v1h-9.19zM101.22 512.49h9.19v1h-9.19z"/><path fill="#899dcd" d="M47.9 476.6h9.19v1h-9.19zM110.11 479.42h9.19v1h-9.19zM47.9 485.75h9.19v1h-9.19zM110.11 493.49h9.19v1h-9.19zM47.9 514.6h9.19v1h-9.19z"/><path fill="#889dce" d="M56.79 476.6h9.19v1h-9.19zM101.22 487.16h9.19v1h-9.19zM101.22 497.01h9.19v1h-9.19zM101.22 510.37h9.19v1h-9.19zM56.79 514.6h9.19v1h-9.19z"/><path fill="#e06a57" d="M65.67 476.6h9.19v1h-9.19zM65.67 491.38h9.19v1h-9.19zM65.67 494.9h9.19v1h-9.19zM65.67 507.56h9.19v1h-9.19z"/><path fill="#eaaaa0" d="M83.45 476.6h9.19v1h-9.19zM83.45 479.42h9.19v1h-9.19zM83.45 484.34h9.19v1h-9.19zM83.45 487.16h9.19v1h-9.19zM83.45 489.97h9.19v1h-9.19zM83.45 492.08h9.19v1h-9.19zM83.45 494.9h9.19v1h-9.19zM83.45 503.34h9.19v1h-9.19zM83.45 504.75h9.19v1h-9.19zM83.45 507.56h9.19v1h-9.19zM83.45 510.37h9.19v1h-9.19z"/><path fill="#e9b0a6" d="M92.34 476.6h9.19v1h-9.19zM92.34 494.19h9.19v1h-9.19zM92.34 499.12h9.19v1h-9.19zM92.34 504.75h9.19v1h-9.19z"/><path fill="#9cacd5" d="M101.22 476.6h9.19v1h-9.19zM101.22 482.23h9.19v1h-9.19zM101.22 488.56h9.19v1h-9.19zM101.22 489.97h9.19v1h-9.19zM56.79 490.67h9.19v1h-9.19zM101.22 495.6h9.19v1h-9.19zM56.79 511.08h9.19v1h-9.19zM56.79 513.19h9.19v1h-9.19z"/><path fill="#a0afd5" d="M110.11 476.6h9.19v1h-9.19zM47.9 481.53h9.19v1h-9.19zM47.9 484.34h9.19v1h-9.19zM110.11 485.05h9.19v1h-9.19zM110.11 486.45h9.19v1h-9.19zM47.9 491.38h9.19v1h-9.19zM47.9 493.49h9.19v1h-9.19zM110.11 495.6h9.19v1h-9.19zM47.9 506.15h9.19v1h-9.19zM47.9 511.08h9.19v1h-9.19zM47.9 511.78h9.19v1h-9.19z"/><path fill="#8ca0ce" d="M47.9 477.31h9.19v1h-9.19zM110.11 478.71h9.19v1h-9.19zM47.9 488.56h9.19v1h-9.19zM110.11 491.38h9.19v1h-9.19zM47.9 509.67h9.19v1h-9.19zM110.11 513.19h9.19v1h-9.19z"/><path fill="#8ba0cf" d="M56.79 477.31h9.19v1h-9.19zM101.22 478.71h9.19v1h-9.19zM101.22 481.53h9.19v1h-9.19zM56.79 487.16h9.19v1h-9.19zM101.22 487.86h9.19v1h-9.19zM56.79 488.56h9.19v1h-9.19zM101.22 489.27h9.19v1h-9.19zM101.22 491.38h9.19v1h-9.19zM101.22 492.79h9.19v1h-9.19zM56.79 496.3h9.19v1h-9.19zM101.22 501.23h9.19v1h-9.19zM101.22 504.75h9.19v1h-9.19zM101.22 506.15h9.19v1h-9.19z"/><path fill="#e06653" d="M65.67 477.31h9.19v1h-9.19zM65.67 492.08h9.19v1h-9.19zM65.67 495.6h9.19v1h-9.19zM65.67 501.23h9.19v1h-9.19zM65.67 511.08h9.19v1h-9.19z"/><path fill="#e06855" d="M74.56 477.31h9.19v1h-9.19zM74.56 481.53h9.19v1h-9.19zM74.56 503.34h9.19v1h-9.19zM74.56 504.75h9.19v1h-9.19z"/><path fill="#ecbcb2" d="M92.34 477.31h9.19v1h-9.19zM92.34 482.94h9.19v1h-9.19zM92.34 485.05h9.19v1h-9.19zM92.34 490.67h9.19v1h-9.19zM92.34 500.52h9.19v1h-9.19zM92.34 508.26h9.19v1h-9.19zM92.34 513.19h9.19v1h-9.19zM92.34 513.89h9.19v1h-9.19z"/><path fill="#a6b2d6" d="M47.9 478.01h9.19v1h-9.19zM47.9 482.23h9.19v1h-9.19zM110.11 494.9h9.19v1h-9.19zM47.9 503.34h9.19v1h-9.19zM47.9 508.97h9.19v1h-9.19z"/><path fill="#df634f" d="M65.67 478.01h9.19v1h-9.19zM65.67 481.53h9.19v1h-9.19zM65.67 482.94h9.19v1h-9.19zM65.67 484.34h9.19v1h-9.19zM65.67 500.52h9.19v1h-9.19z"/><path fill="#df6551" d="M74.56 478.01h9.19v1h-9.19zM74.56 480.82h9.19v1h-9.19zM74.56 499.82h9.19v1h-9.19z"/><path fill="#ecb1a7" d="M83.45 478.01h9.19v1h-9.19zM83.45 499.82h9.19v1h-9.19zM83.45 508.26h9.19v1h-9.19z"/><path fill="#edbbb1" d="M92.34 478.01h9.19v1h-9.19zM92.34 499.82h9.19v1h-9.19z"/><path fill="#abb5d7" d="M110.11 478.01h9.19v1h-9.19zM110.11 489.97h9.19v1h-9.19zM47.9 492.08h9.19v1h-9.19zM47.9 494.19h9.19v1h-9.19zM110.11 494.19h9.19v1h-9.19zM47.9 495.6h9.19v1h-9.19zM47.9 499.82h9.19v1h-9.19zM110.11 499.82h9.19v1h-9.19zM110.11 502.64h9.19v1h-9.19z"/><path fill="#96a8d2" d="M47.9 478.71h9.19v1h-9.19zM110.11 484.34h9.19v1h-9.19zM110.11 485.75h9.19v1h-9.19zM47.9 486.45h9.19v1h-9.19zM47.9 487.86h9.19v1h-9.19zM47.9 490.67h9.19v1h-9.19zM110.11 496.3h9.19v1h-9.19zM47.9 497.01h9.19v1h-9.19zM110.11 497.01h9.19v1h-9.19zM47.9 497.71h9.19v1h-9.19zM47.9 501.93h9.19v1h-9.19zM47.9 502.64h9.19v1h-9.19zM110.11 503.34h9.19v1h-9.19zM110.11 508.97h9.19v1h-9.19zM110.11 509.67h9.19v1h-9.19zM47.9 512.49h9.19v1h-9.19z"/><path fill="#db5846" d="M65.67 478.71h9.19v1h-9.19zM65.67 489.27h9.19v1h-9.19zM65.67 490.67h9.19v1h-9.19zM65.67 506.86h9.19v1h-9.19zM65.67 511.78h9.19v1h-9.19zM65.67 514.6h9.19v1h-9.19z"/><path fill="#da5846" d="M74.56 478.71h9.19v1h-9.19zM74.56 485.75h9.19v1h-9.19zM74.56 487.16h9.19v1h-9.19zM74.56 497.71h9.19v1h-9.19zM74.56 510.37h9.19v1h-9.19zM74.56 512.49h9.19v1h-9.19zM74.56 513.89h9.19v1h-9.19z"/><path fill="#e59990" d="M83.45 478.71h9.19v1h-9.19zM83.45 509.67h9.19v1h-9.19z"/><path fill="#e6a49b" d="M92.34 478.71h9.19v1h-9.19zM92.34 484.34h9.19v1h-9.19zM92.34 497.01h9.19v1h-9.19zM92.34 510.37h9.19v1h-9.19z"/><path fill="#93a5d1" d="M47.9 479.42h9.19v1h-9.19zM47.9 480.12h9.19v1h-9.19zM110.11 488.56h9.19v1h-9.19zM110.11 489.27h9.19v1h-9.19zM47.9 489.97h9.19v1h-9.19zM110.11 490.67h9.19v1h-9.19zM110.11 492.79h9.19v1h-9.19zM110.11 497.71h9.19v1h-9.19zM110.11 500.52h9.19v1h-9.19zM110.11 501.23h9.19v1h-9.19zM110.11 504.04h9.19v1h-9.19zM110.11 504.75h9.19v1h-9.19zM110.11 506.15h9.19v1h-9.19zM47.9 507.56h9.19v1h-9.19zM47.9 510.37h9.19v1h-9.19zM110.11 511.08h9.19v1h-9.19zM110.11 514.6h9.19v1h-9.19z"/><path fill="#8ea2d1" d="M56.79 479.42h9.19v1h-9.19zM56.79 480.12h9.19v1h-9.19zM56.79 480.82h9.19v1h-9.19zM101.22 482.94h9.19v1h-9.19zM56.79 485.05h9.19v1h-9.19zM56.79 489.97h9.19v1h-9.19zM101.22 492.08h9.19v1h-9.19zM101.22 497.71h9.19v1h-9.19zM56.79 499.12h9.19v1h-9.19zM56.79 501.23h9.19v1h-9.19zM56.79 504.75h9.19v1h-9.19zM56.79 505.45h9.19v1h-9.19zM101.22 505.45h9.19v1h-9.19zM56.79 507.56h9.19v1h-9.19zM56.79 509.67h9.19v1h-9.19zM101.22 511.78h9.19v1h-9.19zM56.79 512.49h9.19v1h-9.19z"/><path fill="#da5442" d="M65.67 479.42h9.19v1h-9.19zM65.67 497.71h9.19v1h-9.19zM65.67 510.37h9.19v1h-9.19zM65.67 512.49h9.19v1h-9.19z"/><path fill="#d95342" d="M74.56 479.42h9.19v1h-9.19z"/><path fill="#ebb6ac" d="M92.34 479.42h9.19v1h-9.19zM92.34 481.53h9.19v1h-9.19zM92.34 482.23h9.19v1h-9.19zM92.34 485.75h9.19v1h-9.19zM92.34 489.27h9.19v1h-9.19zM92.34 492.08h9.19v1h-9.19zM92.34 494.9h9.19v1h-9.19zM92.34 503.34h9.19v1h-9.19zM92.34 506.86h9.19v1h-9.19zM92.34 512.49h9.19v1h-9.19z"/><path fill="#8398cc" d="M101.22 479.42h9.19v1h-9.19zM56.79 485.75h9.19v1h-9.19zM101.22 493.49h9.19v1h-9.19z"/><path fill="#dc5b48" d="M65.67 480.12h9.19v1h-9.19zM65.67 482.23h9.19v1h-9.19zM65.67 485.05h9.19v1h-9.19zM65.67 493.49h9.19v1h-9.19zM65.67 513.19h9.19v1h-9.19z"/><path fill="#dc5c49" d="M74.56 480.12h9.19v1h-9.19zM74.56 482.94h9.19v1h-9.19zM74.56 486.45h9.19v1h-9.19zM74.56 489.27h9.19v1h-9.19zM74.56 492.79h9.19v1h-9.19zM74.56 501.93h9.19v1h-9.19zM74.56 505.45h9.19v1h-9.19z"/><path fill="#e79f95" d="M83.45 480.12h9.19v1h-9.19zM83.45 492.79h9.19v1h-9.19zM83.45 493.49h9.19v1h-9.19zM83.45 497.01h9.19v1h-9.19z"/><path fill="#e8aaa0" d="M92.34 480.12h9.19v1h-9.19zM92.34 486.45h9.19v1h-9.19zM92.34 492.79h9.19v1h-9.19zM92.34 493.49h9.19v1h-9.19z"/><path fill="#91a5d2" d="M101.22 480.12h9.19v1h-9.19zM101.22 480.82h9.19v1h-9.19zM101.22 485.75h9.19v1h-9.19zM56.79 486.45h9.19v1h-9.19zM101.22 490.67h9.19v1h-9.19zM56.79 497.01h9.19v1h-9.19zM101.22 499.12h9.19v1h-9.19zM101.22 500.52h9.19v1h-9.19zM56.79 501.93h9.19v1h-9.19zM101.22 501.93h9.19v1h-9.19zM101.22 503.34h9.19v1h-9.19zM56.79 504.04h9.19v1h-9.19zM56.79 506.86h9.19v1h-9.19zM101.22 508.26h9.19v1h-9.19zM101.22 508.97h9.19v1h-9.19zM101.22 511.08h9.19v1h-9.19zM101.22 513.89h9.19v1h-9.19zM101.22 514.6h9.19v1h-9.19z"/><path fill="#90a3cf" d="M47.9 480.82h9.19v1h-9.19zM110.11 481.53h9.19v1h-9.19zM47.9 485.05h9.19v1h-9.19zM47.9 487.16h9.19v1h-9.19zM110.11 487.16h9.19v1h-9.19zM110.11 487.86h9.19v1h-9.19zM47.9 496.3h9.19v1h-9.19zM47.9 499.12h9.19v1h-9.19zM47.9 501.23h9.19v1h-9.19zM47.9 505.45h9.19v1h-9.19zM110.11 505.45h9.19v1h-9.19zM47.9 506.86h9.19v1h-9.19zM110.11 508.26h9.19v1h-9.19zM110.11 510.37h9.19v1h-9.19zM110.11 511.78h9.19v1h-9.19z"/><path fill="#dd5d49" d="M65.67 480.82h9.19v1h-9.19zM65.67 496.3h9.19v1h-9.19zM65.67 499.12h9.19v1h-9.19zM65.67 501.93h9.19v1h-9.19zM65.67 504.04h9.19v1h-9.19zM65.67 504.75h9.19v1h-9.19zM65.67 508.97h9.19v1h-9.19z"/><path fill="#ebafa5" d="M83.45 480.82h9.19v1h-9.19zM83.45 489.27h9.19v1h-9.19zM83.45 497.71h9.19v1h-9.19zM83.45 498.41h9.19v1h-9.19zM83.45 499.12h9.19v1h-9.19zM83.45 506.86h9.19v1h-9.19zM83.45 514.6h9.19v1h-9.19z"/><path fill="#ecbcb2" d="M92.34 480.82h9.19v1h-9.19zM92.34 487.16h9.19v1h-9.19zM92.34 488.56h9.19v1h-9.19zM92.34 489.97h9.19v1h-9.19zM92.34 497.71h9.19v1h-9.19zM92.34 498.41h9.19v1h-9.19zM92.34 501.93h9.19v1h-9.19zM92.34 502.64h9.19v1h-9.19zM92.34 504.04h9.19v1h-9.19zM92.34 507.56h9.19v1h-9.19zM92.34 514.6h9.19v1h-9.19z"/><path fill="#ecb0a6" d="M83.45 481.53h9.19v1h-9.19zM83.45 482.94h9.19v1h-9.19zM83.45 483.64h9.19v1h-9.19zM83.45 487.86h9.19v1h-9.19zM83.45 490.67h9.19v1h-9.19zM83.45 495.6h9.19v1h-9.19zM83.45 513.89h9.19v1h-9.19z"/><path fill="#dd5f4b" d="M74.56 482.23h9.19v1h-9.19zM74.56 487.86h9.19v1h-9.19zM74.56 494.19h9.19v1h-9.19zM74.56 499.12h9.19v1h-9.19zM74.56 500.52h9.19v1h-9.19zM74.56 504.04h9.19v1h-9.19zM74.56 508.26h9.19v1h-9.19zM74.56 513.19h9.19v1h-9.19z"/><path fill="#e8a49a" d="M83.45 482.23h9.19v1h-9.19zM83.45 486.45h9.19v1h-9.19zM83.45 494.19h9.19v1h-9.19zM83.45 512.49h9.19v1h-9.19z"/><path fill="#c7919b" d="M47.9 482.94h9.19v1h-9.19zM110.11 483.64h9.19v1h-9.19zM47.9 492.79h9.19v1h-9.19zM47.9 508.26h9.19v1h-9.19zM47.9 513.89h9.19v1h-9.19z"/><path fill="#c5909b" d="M56.79 482.94h9.19v1h-9.19zM101.22 483.64h9.19v1h-9.19zM56.79 492.79h9.19v1h-9.19zM56.79 508.26h9.19v1h-9.19zM56.79 513.89h9.19v1h-9.19z"/><path fill="#b0b9d8" d="M47.9 483.64h9.19v1h-9.19z"/><path fill="#de5f4b" d="M65.67 483.64h9.19v1h-9.19zM65.67 487.86h9.19v1h-9.19zM65.67 488.56h9.19v1h-9.19zM65.67 489.97h9.19v1h-9.19zM65.67 494.19h9.19v1h-9.19zM65.67 503.34h9.19v1h-9.19zM65.67 505.45h9.19v1h-9.19zM65.67 506.15h9.19v1h-9.19zM65.67 508.26h9.19v1h-9.19zM65.67 509.67h9.19v1h-9.19z"/><path fill="#de614d" d="M74.56 483.64h9.19v1h-9.19zM74.56 485.05h9.19v1h-9.19zM74.56 488.56h9.19v1h-9.19zM74.56 489.97h9.19v1h-9.19zM74.56 491.38h9.19v1h-9.19zM74.56 492.08h9.19v1h-9.19zM74.56 496.3h9.19v1h-9.19zM74.56 501.23h9.19v1h-9.19zM74.56 506.15h9.19v1h-9.19zM74.56 508.97h9.19v1h-9.19zM74.56 509.67h9.19v1h-9.19zM74.56 511.08h9.19v1h-9.19zM74.56 511.78h9.19v1h-9.19z"/><path fill="#ecbcb2" d="M92.34 483.64h9.19v1h-9.19zM92.34 487.86h9.19v1h-9.19zM92.34 491.38h9.19v1h-9.19zM92.34 495.6h9.19v1h-9.19z"/><path fill="#e06c59" d="M74.56 484.34h9.19v1h-9.19zM74.56 494.9h9.19v1h-9.19z"/><path fill="#da5644" d="M65.67 485.75h9.19v1h-9.19zM65.67 486.45h9.19v1h-9.19zM65.67 502.64h9.19v1h-9.19zM65.67 513.89h9.19v1h-9.19z"/><path fill="#d8503f" d="M65.67 487.16h9.19v1h-9.19z"/><path fill="#ebafa5" d="M83.45 488.56h9.19v1h-9.19zM83.45 500.52h9.19v1h-9.19zM83.45 501.23h9.19v1h-9.19zM83.45 501.93h9.19v1h-9.19zM83.45 504.04h9.19v1h-9.19zM83.45 508.97h9.19v1h-9.19zM83.45 513.19h9.19v1h-9.19z"/><path fill="#db5a48" d="M74.56 490.67h9.19v1h-9.19zM74.56 493.49h9.19v1h-9.19zM74.56 502.64h9.19v1h-9.19zM74.56 506.86h9.19v1h-9.19zM74.56 514.6h9.19v1h-9.19z"/><path fill="#ecb1a7" d="M83.45 491.38h9.19v1h-9.19z"/><path fill="#adb7d8" d="M56.79 492.08h9.19v1h-9.19zM56.79 495.6h9.19v1h-9.19z"/><path fill="#d95241" d="M65.67 492.79h9.19v1h-9.19z"/><path fill="#a7b3d7" d="M56.79 494.19h9.19v1h-9.19z"/><path fill="#e38f85" d="M83.45 496.3h9.19v1h-9.19z"/><path fill="#e3988f" d="M92.34 496.3h9.19v1h-9.19z"/><path fill="#e2715f" d="M65.67 497.01h9.19v1h-9.19zM65.67 498.41h9.19v1h-9.19z"/><path fill="#e27361" d="M74.56 497.01h9.19v1h-9.19zM74.56 498.41h9.19v1h-9.19z"/><path fill="#e18980" d="M83.45 505.45h9.19v1h-9.19z"/><path fill="#e29389" d="M92.34 505.45h9.19v1h-9.19z"/><path fill="#e59e95" d="M92.34 509.67h9.19v1h-9.19z"/><path fill="#e0847a" d="M83.45 511.78h9.19v1h-9.19z"/><path fill="#e08d83" d="M92.34 511.78h9.19v1h-9.19z"/><path fill="#7d93c9" d="M101.22 513.19h9.19v1h-9.19z"/><path fill="#869acc" d="M110.11 513.89h9.19v1h-9.19z"/><path fill="#9ca7d1" d="M124.4 475.9h9.12v1h-9.12zM124.4 477.31h9.12v1h-9.12zM124.4 479.42h9.12v1h-9.12zM124.4 483.64h9.12v1h-9.12zM124.4 488.56h9.12v1h-9.12zM124.4 494.19h9.12v1h-9.12zM124.4 499.82h9.12v1h-9.12zM124.4 504.04h9.12v1h-9.12zM124.4 506.86h9.12v1h-9.12zM124.4 508.26h9.12v1h-9.12zM47.9 538.53h9.19v0.99h-9.19z"/><path fill="#829bcd" d="M133.22 475.9h9.12v1h-9.12zM133.22 479.42h9.12v1h-9.12zM133.22 483.64h9.12v1h-9.12zM133.22 485.05h9.12v1h-9.12zM133.22 489.27h9.12v1h-9.12zM133.22 490.67h9.12v1h-9.12zM133.22 492.79h9.12v1h-9.12zM133.22 494.9h9.12v1h-9.12zM133.22 495.6h9.12v1h-9.12zM133.22 508.26h9.12v1h-9.12zM133.22 514.6h9.12v1h-9.12z"/><path fill="#e57662" d="M142.05 475.9h9.12v1h-9.12zM142.05 480.12h9.12v1h-9.12zM142.05 480.82h9.12v1h-9.12zM142.05 484.34h9.12v1h-9.12zM142.05 485.05h9.12v1h-9.12zM142.05 485.75h9.12v1h-9.12zM142.05 487.16h9.12v1h-9.12zM142.05 489.27h9.12v1h-9.12zM142.05 489.97h9.12v1h-9.12zM142.05 492.79h9.12v1h-9.12zM142.05 494.19h9.12v1h-9.12zM142.05 495.6h9.12v1h-9.12zM142.05 511.08h9.12v1h-9.12zM159.7 523.97h9.12v0.99h-9.12zM159.7 528.13h9.12v0.99h-9.12zM159.7 534.37h9.12v0.99h-9.12zM159.7 535.06h9.12v0.99h-9.12zM159.7 538.53h9.12v0.99h-9.12zM159.7 539.91h9.12v0.99h-9.12z"/><path fill="#e36b58" d="M150.88 475.9h9.12v1h-9.12zM150.88 477.31h9.12v1h-9.12zM150.88 492.08h9.12v1h-9.12zM150.88 496.3h9.12v1h-9.12zM150.88 504.04h9.12v1h-9.12zM150.88 504.75h9.12v1h-9.12zM150.88 506.86h9.12v1h-9.12zM150.88 511.78h9.12v1h-9.12zM150.88 512.49h9.12v1h-9.12zM150.88 514.6h9.12v1h-9.12z"/><path fill="#e89687" d="M159.7 475.9h9.12v1h-9.12zM159.7 477.31h9.12v1h-9.12zM159.7 482.23h9.12v1h-9.12zM159.7 485.75h9.12v1h-9.12zM159.7 486.45h9.12v1h-9.12zM159.7 497.71h9.12v1h-9.12zM159.7 499.12h9.12v1h-9.12zM159.7 501.93h9.12v1h-9.12zM159.7 506.15h9.12v1h-9.12z"/><path fill="#e9988a" d="M168.53 475.9h9.12v1h-9.12zM168.53 481.53h9.12v1h-9.12zM168.53 482.94h9.12v1h-9.12zM168.53 485.75h9.12v1h-9.12zM168.53 487.86h9.12v1h-9.12zM168.53 491.38h9.12v1h-9.12zM168.53 493.49h9.12v1h-9.12zM168.53 498.41h9.12v1h-9.12zM168.53 500.52h9.12v1h-9.12zM168.53 501.93h9.12v1h-9.12zM168.53 506.15h9.12v1h-9.12zM168.53 508.26h9.12v1h-9.12z"/><path fill="#aeb7d9" d="M177.35 475.9h9.12v1h-9.12zM177.35 508.97h9.12v1h-9.12z"/><path fill="#c0aec5" d="M186.18 475.9h9.12v1h-9.12zM186.18 489.27h9.12v1h-9.12zM186.18 505.45h9.12v1h-9.12zM186.18 508.97h9.12v1h-9.12z"/><path fill="#a4add3" d="M124.4 476.6h9.12v1h-9.12zM124.4 481.53h9.12v1h-9.12zM124.4 489.27h9.12v1h-9.12zM124.4 492.79h9.12v1h-9.12zM124.4 495.6h9.12v1h-9.12zM124.4 514.6h9.12v1h-9.12zM47.9 521.19h9.19v0.99h-9.19zM47.9 521.89h9.19v0.99h-9.19zM47.9 526.05h9.19v0.99h-9.19zM47.9 529.51h9.19v0.99h-9.19zM47.9 539.22h9.19v0.99h-9.19z"/><path fill="#9cacd4" d="M133.22 476.6h9.12v1h-9.12z"/><path fill="#e3705c" d="M142.05 476.6h9.12v1h-9.12zM142.05 479.42h9.12v1h-9.12zM142.05 482.94h9.12v1h-9.12zM142.05 487.86h9.12v1h-9.12zM142.05 490.67h9.12v1h-9.12zM142.05 491.38h9.12v1h-9.12zM142.05 494.9h9.12v1h-9.12zM142.05 497.01h9.12v1h-9.12zM142.05 500.52h9.12v1h-9.12zM142.05 502.64h9.12v1h-9.12zM142.05 506.86h9.12v1h-9.12zM142.05 510.37h9.12v1h-9.12zM142.05 511.78h9.12v1h-9.12zM142.05 513.19h9.12v1h-9.12zM142.05 513.89h9.12v1h-9.12zM142.05 514.6h9.12v1h-9.12zM159.7 522.58h9.12v0.99h-9.12zM159.7 526.74h9.12v0.99h-9.12zM159.7 532.98h9.12v0.99h-9.12z"/><path fill="#e5715d" d="M150.88 476.6h9.12v1h-9.12zM150.88 483.64h9.12v1h-9.12zM150.88 489.27h9.12v1h-9.12zM150.88 490.67h9.12v1h-9.12zM150.88 497.71h9.12v1h-9.12zM150.88 502.64h9.12v1h-9.12zM150.88 506.15h9.12v1h-9.12zM150.88 511.08h9.12v1h-9.12zM150.88 513.19h9.12v1h-9.12zM150.88 513.89h9.12v1h-9.12z"/><path fill="#e79283" d="M159.7 476.6h9.12v1h-9.12zM159.7 478.01h9.12v1h-9.12zM159.7 487.86h9.12v1h-9.12zM159.7 488.56h9.12v1h-9.12zM159.7 493.49h9.12v1h-9.12zM159.7 497.01h9.12v1h-9.12zM159.7 510.37h9.12v1h-9.12z"/><path fill="#e68f82" d="M168.53 476.6h9.12v1h-9.12zM168.53 497.01h9.12v1h-9.12zM168.53 497.71h9.12v1h-9.12zM168.53 504.75h9.12v1h-9.12z"/><path fill="#a9b4d7" d="M177.35 476.6h9.12v1h-9.12zM177.35 485.75h9.12v1h-9.12zM177.35 502.64h9.12v1h-9.12zM177.35 503.34h9.12v1h-9.12z"/><path fill="#d0acb9" d="M186.18 476.6h9.12v1h-9.12z"/><path fill="#7e97cb" d="M133.22 477.31h9.12v1h-9.12zM133.22 484.34h9.12v1h-9.12zM133.22 487.16h9.12v1h-9.12zM133.22 494.19h9.12v1h-9.12zM133.22 501.23h9.12v1h-9.12zM133.22 511.78h9.12v1h-9.12z"/><path fill="#e26d5a" d="M142.05 477.31h9.12v1h-9.12zM142.05 482.23h9.12v1h-9.12zM142.05 492.08h9.12v1h-9.12zM142.05 499.12h9.12v1h-9.12zM142.05 509.67h9.12v1h-9.12zM142.05 512.49h9.12v1h-9.12zM159.7 530.9h9.12v0.99h-9.12zM159.7 532.29h9.12v0.99h-9.12z"/><path fill="#e9998b" d="M168.53 477.31h9.12v1h-9.12zM168.53 478.01h9.12v1h-9.12zM168.53 480.82h9.12v1h-9.12zM168.53 494.9h9.12v1h-9.12zM168.53 499.12h9.12v1h-9.12zM168.53 507.56h9.12v1h-9.12zM168.53 510.37h9.12v1h-9.12zM168.53 512.49h9.12v1h-9.12z"/><path fill="#97a7d3" d="M177.35 477.31h9.12v1h-9.12zM177.35 479.42h9.12v1h-9.12zM177.35 480.12h9.12v1h-9.12zM177.35 480.82h9.12v1h-9.12zM177.35 486.45h9.12v1h-9.12zM177.35 490.67h9.12v1h-9.12zM177.35 497.01h9.12v1h-9.12zM177.35 499.82h9.12v1h-9.12zM177.35 500.52h9.12v1h-9.12zM177.35 501.93h9.12v1h-9.12zM177.35 512.49h9.12v1h-9.12zM177.35 514.6h9.12v1h-9.12z"/><path fill="#9da3cd" d="M186.18 477.31h9.12v1h-9.12zM186.18 483.64h9.12v1h-9.12zM186.18 491.38h9.12v1h-9.12zM186.18 495.6h9.12v1h-9.12z"/><path fill="#a9b0d5" d="M124.4 478.01h9.12v1h-9.12zM124.4 502.64h9.12v1h-9.12zM124.4 507.56h9.12v1h-9.12zM124.4 513.19h9.12v1h-9.12zM47.9 524.66h9.19v0.99h-9.19zM47.9 530.9h9.19v0.99h-9.19zM47.9 531.59h9.19v0.99h-9.19zM47.9 537.14h9.19v0.99h-9.19z"/><path fill="#8fa3d0" d="M133.22 478.01h9.12v1h-9.12zM133.22 480.12h9.12v1h-9.12zM133.22 505.45h9.12v1h-9.12z"/><path fill="#e57965" d="M142.05 478.01h9.12v1h-9.12zM142.05 497.71h9.12v1h-9.12zM142.05 501.93h9.12v1h-9.12zM142.05 503.34h9.12v1h-9.12zM142.05 504.75h9.12v1h-9.12zM142.05 505.45h9.12v1h-9.12zM159.7 531.59h9.12v0.99h-9.12zM159.7 533.67h9.12v0.99h-9.12zM159.7 537.14h9.12v0.99h-9.12z"/><path fill="#e67764" d="M150.88 478.01h9.12v1h-9.12zM150.88 485.05h9.12v1h-9.12zM150.88 488.56h9.12v1h-9.12zM150.88 495.6h9.12v1h-9.12z"/><path fill="#a0add5" d="M177.35 478.01h9.12v1h-9.12zM177.35 478.71h9.12v1h-9.12zM177.35 489.27h9.12v1h-9.12zM177.35 504.04h9.12v1h-9.12zM177.35 506.15h9.12v1h-9.12zM177.35 506.86h9.12v1h-9.12zM177.35 511.08h9.12v1h-9.12zM177.35 511.78h9.12v1h-9.12z"/><path fill="#b5afce" d="M186.18 478.01h9.12v1h-9.12zM186.18 479.42h9.12v1h-9.12zM186.18 480.12h9.12v1h-9.12zM186.18 504.04h9.12v1h-9.12zM186.18 504.75h9.12v1h-9.12zM186.18 506.15h9.12v1h-9.12zM186.18 511.08h9.12v1h-9.12zM186.18 513.19h9.12v1h-9.12zM186.18 514.6h9.12v1h-9.12z"/><path fill="#b2b7d7" d="M124.4 478.71h9.12v1h-9.12zM124.4 480.82h9.12v1h-9.12zM47.9 526.74h9.19v0.99h-9.19zM47.9 533.67h9.19v0.99h-9.19z"/><path fill="#899fcf" d="M133.22 478.71h9.12v1h-9.12zM133.22 481.53h9.12v1h-9.12zM133.22 485.75h9.12v1h-9.12zM133.22 491.38h9.12v1h-9.12zM133.22 492.08h9.12v1h-9.12zM133.22 496.3h9.12v1h-9.12zM133.22 499.82h9.12v1h-9.12zM133.22 502.64h9.12v1h-9.12zM133.22 511.08h9.12v1h-9.12zM133.22 513.19h9.12v1h-9.12z"/><path fill="#de6452" d="M142.05 478.71h9.12v1h-9.12zM142.05 501.23h9.12v1h-9.12z"/><path fill="#e26856" d="M150.88 478.71h9.12v1h-9.12zM150.88 486.45h9.12v1h-9.12zM150.88 501.23h9.12v1h-9.12zM150.88 509.67h9.12v1h-9.12z"/><path fill="#e9998a" d="M159.7 478.71h9.12v1h-9.12zM159.7 480.12h9.12v1h-9.12zM159.7 490.67h9.12v1h-9.12zM159.7 506.86h9.12v1h-9.12zM159.7 511.08h9.12v1h-9.12z"/><path fill="#ea9b8d" d="M168.53 478.71h9.12v1h-9.12zM168.53 485.05h9.12v1h-9.12zM168.53 506.86h9.12v1h-9.12zM168.53 511.08h9.12v1h-9.12zM168.53 514.6h9.12v1h-9.12z"/><path fill="#afafd2" d="M186.18 478.71h9.12v1h-9.12zM186.18 481.53h9.12v1h-9.12zM186.18 482.23h9.12v1h-9.12zM186.18 486.45h9.12v1h-9.12zM186.18 487.86h9.12v1h-9.12zM186.18 488.56h9.12v1h-9.12zM186.18 493.49h9.12v1h-9.12zM186.18 496.3h9.12v1h-9.12zM186.18 497.01h9.12v1h-9.12zM186.18 497.71h9.12v1h-9.12zM186.18 500.52h9.12v1h-9.12zM186.18 506.86h9.12v1h-9.12zM186.18 511.78h9.12v1h-9.12z"/><path fill="#e46e5b" d="M150.88 479.42h9.12v1h-9.12zM150.88 482.23h9.12v1h-9.12zM150.88 484.34h9.12v1h-9.12zM150.88 485.75h9.12v1h-9.12zM150.88 487.16h9.12v1h-9.12zM150.88 487.86h9.12v1h-9.12zM150.88 489.97h9.12v1h-9.12zM150.88 494.9h9.12v1h-9.12zM150.88 497.01h9.12v1h-9.12zM150.88 499.12h9.12v1h-9.12zM150.88 499.82h9.12v1h-9.12zM150.88 500.52h9.12v1h-9.12zM150.88 508.97h9.12v1h-9.12zM150.88 510.37h9.12v1h-9.12z"/><path fill="#e58d7f" d="M159.7 479.42h9.12v1h-9.12zM159.7 483.64h9.12v1h-9.12zM159.7 489.27h9.12v1h-9.12zM159.7 494.19h9.12v1h-9.12zM159.7 496.3h9.12v1h-9.12zM159.7 501.23h9.12v1h-9.12zM159.7 503.34h9.12v1h-9.12zM159.7 504.75h9.12v1h-9.12zM159.7 508.26h9.12v1h-9.12zM159.7 511.78h9.12v1h-9.12z"/><path fill="#e89486" d="M168.53 479.42h9.12v1h-9.12zM168.53 482.23h9.12v1h-9.12zM168.53 483.64h9.12v1h-9.12zM168.53 484.34h9.12v1h-9.12zM168.53 488.56h9.12v1h-9.12zM168.53 489.97h9.12v1h-9.12zM168.53 492.08h9.12v1h-9.12zM168.53 494.19h9.12v1h-9.12zM168.53 495.6h9.12v1h-9.12zM168.53 503.34h9.12v1h-9.12zM168.53 511.78h9.12v1h-9.12z"/><path fill="#adb4d6" d="M124.4 480.12h9.12v1h-9.12zM124.4 482.23h9.12v1h-9.12zM124.4 493.49h9.12v1h-9.12zM124.4 500.52h9.12v1h-9.12zM124.4 505.45h9.12v1h-9.12zM47.9 539.91h9.19v0.99h-9.19z"/><path fill="#e67460" d="M150.88 480.12h9.12v1h-9.12zM150.88 480.82h9.12v1h-9.12zM150.88 481.53h9.12v1h-9.12zM150.88 482.94h9.12v1h-9.12zM150.88 491.38h9.12v1h-9.12zM150.88 494.19h9.12v1h-9.12zM150.88 501.93h9.12v1h-9.12zM150.88 507.56h9.12v1h-9.12zM150.88 508.26h9.12v1h-9.12z"/><path fill="#ea9d90" d="M168.53 480.12h9.12v1h-9.12zM168.53 492.79h9.12v1h-9.12zM168.53 504.04h9.12v1h-9.12z"/><path fill="#96a8d2" d="M133.22 480.82h9.12v1h-9.12zM133.22 482.23h9.12v1h-9.12zM133.22 493.49h9.12v1h-9.12zM133.22 500.52h9.12v1h-9.12zM133.22 503.34h9.12v1h-9.12z"/><path fill="#e89789" d="M159.7 480.82h9.12v1h-9.12zM159.7 481.53h9.12v1h-9.12zM159.7 482.94h9.12v1h-9.12zM159.7 485.05h9.12v1h-9.12zM159.7 487.16h9.12v1h-9.12zM159.7 489.97h9.12v1h-9.12zM159.7 491.38h9.12v1h-9.12zM159.7 492.08h9.12v1h-9.12zM159.7 494.9h9.12v1h-9.12zM159.7 495.6h9.12v1h-9.12zM159.7 498.41h9.12v1h-9.12zM159.7 500.52h9.12v1h-9.12zM159.7 512.49h9.12v1h-9.12z"/><path fill="#a3a7cf" d="M186.18 480.82h9.12v1h-9.12zM186.18 484.34h9.12v1h-9.12zM186.18 489.97h9.12v1h-9.12zM186.18 492.08h9.12v1h-9.12zM186.18 492.79h9.12v1h-9.12zM186.18 494.19h9.12v1h-9.12zM186.18 494.9h9.12v1h-9.12zM186.18 499.12h9.12v1h-9.12zM186.18 501.93h9.12v1h-9.12zM186.18 509.67h9.12v1h-9.12zM186.18 510.37h9.12v1h-9.12zM186.18 512.49h9.12v1h-9.12z"/><path fill="#e4735f" d="M142.05 481.53h9.12v1h-9.12zM142.05 483.64h9.12v1h-9.12zM142.05 488.56h9.12v1h-9.12zM142.05 496.3h9.12v1h-9.12zM142.05 499.82h9.12v1h-9.12zM142.05 506.15h9.12v1h-9.12zM142.05 507.56h9.12v1h-9.12zM142.05 508.26h9.12v1h-9.12zM159.7 523.27h9.12v0.99h-9.12zM159.7 530.21h9.12v0.99h-9.12zM159.7 535.75h9.12v0.99h-9.12zM159.7 537.83h9.12v0.99h-9.12zM159.7 539.22h9.12v0.99h-9.12z"/><path fill="#9baad4" d="M177.35 481.53h9.12v1h-9.12zM177.35 482.23h9.12v1h-9.12zM177.35 487.16h9.12v1h-9.12zM177.35 487.86h9.12v1h-9.12zM177.35 489.97h9.12v1h-9.12zM177.35 492.08h9.12v1h-9.12zM177.35 492.79h9.12v1h-9.12zM177.35 494.19h9.12v1h-9.12zM177.35 495.6h9.12v1h-9.12zM177.35 497.71h9.12v1h-9.12zM177.35 499.12h9.12v1h-9.12z"/><path fill="#909ecd" d="M124.4 482.94h9.12v1h-9.12zM124.4 498.41h9.12v1h-9.12zM47.9 525.35h9.19v0.99h-9.19z"/><path fill="#7b94c9" d="M133.22 482.94h9.12v1h-9.12zM133.22 486.45h9.12v1h-9.12zM133.22 499.12h9.12v1h-9.12zM133.22 512.49h9.12v1h-9.12z"/><path fill="#a5b0d6" d="M177.35 482.94h9.12v1h-9.12zM177.35 488.56h9.12v1h-9.12zM177.35 504.75h9.12v1h-9.12zM177.35 513.19h9.12v1h-9.12z"/><path fill="#baaeca" d="M186.18 482.94h9.12v1h-9.12zM186.18 502.64h9.12v1h-9.12z"/><path fill="#8d9ece" d="M177.35 483.64h9.12v1h-9.12zM177.35 494.9h9.12v1h-9.12zM177.35 508.26h9.12v1h-9.12z"/><path fill="#94a1ce" d="M124.4 484.34h9.12v1h-9.12zM124.4 486.45h9.12v1h-9.12zM124.4 487.16h9.12v1h-9.12zM124.4 497.01h9.12v1h-9.12zM124.4 501.23h9.12v1h-9.12zM124.4 509.67h9.12v1h-9.12zM47.9 535.06h9.19v0.99h-9.19zM47.9 536.45h9.19v0.99h-9.19zM47.9 540.61h9.19v0.99h-9.19z"/><path fill="#e99a8c" d="M159.7 484.34h9.12v1h-9.12zM159.7 514.6h9.12v1h-9.12z"/><path fill="#90a1d0" d="M177.35 484.34h9.12v1h-9.12zM177.35 485.05h9.12v1h-9.12zM177.35 491.38h9.12v1h-9.12zM177.35 507.56h9.12v1h-9.12z"/><path fill="#a0aad2" d="M124.4 485.05h9.12v1h-9.12zM124.4 485.75h9.12v1h-9.12zM124.4 490.67h9.12v1h-9.12zM124.4 491.38h9.12v1h-9.12zM124.4 492.08h9.12v1h-9.12zM124.4 496.3h9.12v1h-9.12zM124.4 504.75h9.12v1h-9.12zM124.4 511.08h9.12v1h-9.12zM124.4 513.89h9.12v1h-9.12zM47.9 522.58h9.19v0.99h-9.19zM47.9 523.97h9.19v0.99h-9.19zM47.9 527.43h9.19v0.99h-9.19zM47.9 532.29h9.19v0.99h-9.19zM47.9 532.98h9.19v0.99h-9.19zM47.9 535.75h9.19v0.99h-9.19zM47.9 537.83h9.19v0.99h-9.19z"/><path fill="#a9abd0" d="M186.18 485.05h9.12v1h-9.12zM186.18 490.67h9.12v1h-9.12zM186.18 499.82h9.12v1h-9.12zM186.18 501.23h9.12v1h-9.12zM186.18 507.56h9.12v1h-9.12z"/><path fill="#c5adc1" d="M186.18 485.75h9.12v1h-9.12zM186.18 487.16h9.12v1h-9.12zM186.18 503.34h9.12v1h-9.12z"/><path fill="#e16a57" d="M142.05 486.45h9.12v1h-9.12zM142.05 508.97h9.12v1h-9.12zM159.7 524.66h9.12v0.99h-9.12zM159.7 526.05h9.12v0.99h-9.12zM159.7 529.51h9.12v0.99h-9.12z"/><path fill="#e58b7d" d="M168.53 486.45h9.12v1h-9.12zM168.53 489.27h9.12v1h-9.12zM168.53 509.67h9.12v1h-9.12zM168.53 513.89h9.12v1h-9.12z"/><path fill="#ea9c8e" d="M168.53 487.16h9.12v1h-9.12zM168.53 490.67h9.12v1h-9.12zM168.53 499.82h9.12v1h-9.12zM168.53 513.19h9.12v1h-9.12z"/><path fill="#8899ca" d="M124.4 487.86h9.12v1h-9.12z"/><path fill="#7d96ca" d="M133.22 487.86h9.12v1h-9.12zM133.22 488.56h9.12v1h-9.12zM133.22 497.01h9.12v1h-9.12zM133.22 497.71h9.12v1h-9.12zM133.22 501.93h9.12v1h-9.12zM133.22 504.04h9.12v1h-9.12zM133.22 509.67h9.12v1h-9.12z"/><path fill="#cb929b" d="M124.4 489.97h9.12v1h-9.12zM124.4 506.15h9.12v1h-9.12zM124.4 508.97h9.12v1h-9.12zM47.9 520.5h9.19v0.99h-9.19z"/><path fill="#bf8c99" d="M133.22 489.97h9.12v1h-9.12zM133.22 506.15h9.12v1h-9.12zM133.22 508.97h9.12v1h-9.12z"/><path fill="#e77a67" d="M150.88 492.79h9.12v1h-9.12zM150.88 493.49h9.12v1h-9.12zM150.88 503.34h9.12v1h-9.12z"/><path fill="#ea9c8d" d="M159.7 492.79h9.12v1h-9.12zM159.7 499.82h9.12v1h-9.12z"/><path fill="#e67e6c" d="M142.05 493.49h9.12v1h-9.12zM159.7 525.35h9.12v0.99h-9.12zM159.7 528.82h9.12v0.99h-9.12zM159.7 536.45h9.12v0.99h-9.12z"/><path fill="#94a4d1" d="M177.35 493.49h9.12v1h-9.12zM177.35 496.3h9.12v1h-9.12zM177.35 501.23h9.12v1h-9.12zM177.35 509.67h9.12v1h-9.12zM177.35 510.37h9.12v1h-9.12z"/><path fill="#98a4cf" d="M124.4 494.9h9.12v1h-9.12zM124.4 497.71h9.12v1h-9.12zM124.4 499.12h9.12v1h-9.12zM124.4 501.93h9.12v1h-9.12zM124.4 510.37h9.12v1h-9.12zM124.4 511.78h9.12v1h-9.12zM47.9 523.27h9.19v0.99h-9.19zM47.9 528.82h9.19v0.99h-9.19zM47.9 530.21h9.19v0.99h-9.19z"/><path fill="#e48679" d="M168.53 496.3h9.12v1h-9.12zM168.53 508.97h9.12v1h-9.12z"/><path fill="#7992c8" d="M133.22 498.41h9.12v1h-9.12zM133.22 510.37h9.12v1h-9.12z"/><path fill="#e06755" d="M142.05 498.41h9.12v1h-9.12zM142.05 504.04h9.12v1h-9.12zM159.7 520.5h9.12v0.99h-9.12zM159.7 527.43h9.12v0.99h-9.12z"/><path fill="#e06553" d="M150.88 498.41h9.12v1h-9.12z"/><path fill="#8296ca" d="M177.35 498.41h9.12v1h-9.12z"/><path fill="#8493c7" d="M186.18 498.41h9.12v1h-9.12z"/><path fill="#e28275" d="M168.53 501.23h9.12v1h-9.12zM168.53 502.64h9.12v1h-9.12z"/><path fill="#e28072" d="M159.7 502.64h9.12v1h-9.12z"/><path fill="#b6bad8" d="M124.4 503.34h9.12v1h-9.12zM47.9 528.13h9.19v0.99h-9.19z"/><path fill="#eba092" d="M159.7 504.04h9.12v1h-9.12z"/><path fill="#8099cc" d="M133.22 504.75h9.12v1h-9.12zM133.22 506.86h9.12v1h-9.12zM133.22 507.56h9.12v1h-9.12zM133.22 513.89h9.12v1h-9.12z"/><path fill="#e77d6a" d="M150.88 505.45h9.12v1h-9.12z"/><path fill="#ea9d8f" d="M159.7 505.45h9.12v1h-9.12zM159.7 513.19h9.12v1h-9.12z"/><path fill="#eb9f91" d="M168.53 505.45h9.12v1h-9.12z"/><path fill="#b3bada" d="M177.35 505.45h9.12v1h-9.12z"/><path fill="#e4897b" d="M159.7 507.56h9.12v1h-9.12zM159.7 508.97h9.12v1h-9.12zM159.7 509.67h9.12v1h-9.12zM159.7 513.89h9.12v1h-9.12z"/><path fill="#969fcc" d="M186.18 508.26h9.12v1h-9.12z"/><path fill="#8c9ccc" d="M124.4 512.49h9.12v1h-9.12z"/><path fill="#8599cb" d="M177.35 513.89h9.12v1h-9.12z"/><path fill="#909bca" d="M186.18 513.89h9.12v1h-9.12z"/><path fill="#bd8a99" d="M56.79 520.5h9.19v0.99h-9.19z"/><path fill="#ddb1b7" d="M65.67 520.5h9.19v0.99h-9.19z"/><path fill="#cbb9cd" d="M74.56 520.5h9.19v0.99h-9.19zM74.56 523.27h9.19v0.99h-9.19zM74.56 526.74h9.19v0.99h-9.19z"/><path fill="#e16955" d="M83.45 520.5h9.19v0.99h-9.19zM83.45 524.66h9.19v0.99h-9.19zM83.45 536.45h9.19v0.99h-9.19z"/><path fill="#e47864" d="M92.34 520.5h9.19v0.99h-9.19zM92.34 535.75h9.19v0.99h-9.19zM92.34 537.83h9.19v0.99h-9.19zM92.34 539.22h9.19v0.99h-9.19zM47.9 548.2h9.19v1h-9.19zM47.9 557.97h9.19v1h-9.19zM47.9 559.37h9.19v1h-9.19zM47.9 561.46h9.19v1h-9.19zM47.9 566.35h9.19v1h-9.19zM47.9 573.33h9.19v1h-9.19zM47.9 578.22h9.19v1h-9.19zM47.9 578.92h9.19v1h-9.19zM47.9 583.8h9.19v1h-9.19z"/><path fill="#b5aac9" d="M101.22 520.5h9.19v0.99h-9.19zM101.22 523.97h9.19v0.99h-9.19zM101.22 528.13h9.19v0.99h-9.19zM101.22 539.91h9.19v0.99h-9.19zM101.22 540.61h9.19v0.99h-9.19zM177.35 527.43h9.12v0.99h-9.12zM177.35 530.21h9.12v0.99h-9.12zM177.35 532.29h9.12v0.99h-9.12zM177.35 532.98h9.12v0.99h-9.12z"/><path fill="#e79486" d="M110.11 520.5h9.19v0.99h-9.19zM110.11 523.97h9.19v0.99h-9.19zM110.11 526.74h9.19v0.99h-9.19zM101.22 550.29h9.19v1h-9.19zM101.22 557.27h9.19v1h-9.19zM101.22 565.65h9.19v1h-9.19zM101.22 566.35h9.19v1h-9.19zM101.22 579.61h9.19v1h-9.19zM101.22 583.8h9.19v1h-9.19z"/><path fill="#92a4d2" d="M56.79 521.19h9.19v0.99h-9.19zM56.79 524.66h9.19v0.99h-9.19zM56.79 534.37h9.19v0.99h-9.19zM56.79 537.83h9.19v0.99h-9.19z"/><path fill="#baa7bf" d="M65.67 521.19h9.19v0.99h-9.19z"/><path fill="#a8aed5" d="M74.56 521.19h9.19v0.99h-9.19zM74.56 521.89h9.19v0.99h-9.19zM74.56 526.05h9.19v0.99h-9.19zM74.56 528.82h9.19v0.99h-9.19z"/><path fill="#e26c59" d="M83.45 521.19h9.19v0.99h-9.19zM83.45 521.89h9.19v0.99h-9.19zM83.45 522.58h9.19v0.99h-9.19zM83.45 526.05h9.19v0.99h-9.19zM83.45 527.43h9.19v0.99h-9.19zM83.45 534.37h9.19v0.99h-9.19zM83.45 537.14h9.19v0.99h-9.19zM83.45 539.22h9.19v0.99h-9.19z"/><path fill="#e57b67" d="M92.34 521.19h9.19v0.99h-9.19zM92.34 523.97h9.19v0.99h-9.19zM92.34 526.05h9.19v0.99h-9.19zM92.34 526.74h9.19v0.99h-9.19zM92.34 527.43h9.19v0.99h-9.19zM92.34 533.67h9.19v0.99h-9.19zM92.34 536.45h9.19v0.99h-9.19zM92.34 537.14h9.19v0.99h-9.19zM47.9 555.18h9.19v1h-9.19zM47.9 560.76h9.19v1h-9.19zM47.9 565.65h9.19v1h-9.19zM47.9 570.54h9.19v1h-9.19zM47.9 576.12h9.19v1h-9.19zM47.9 580.31h9.19v1h-9.19z"/><path fill="#afaacd" d="M101.22 521.19h9.19v0.99h-9.19zM101.22 521.89h9.19v0.99h-9.19zM101.22 522.58h9.19v0.99h-9.19zM101.22 531.59h9.19v0.99h-9.19zM101.22 535.75h9.19v0.99h-9.19zM101.22 537.14h9.19v0.99h-9.19zM177.35 520.5h9.12v0.99h-9.12zM177.35 523.27h9.12v0.99h-9.12zM177.35 523.97h9.12v0.99h-9.12zM177.35 524.66h9.12v0.99h-9.12zM177.35 525.35h9.12v0.99h-9.12zM177.35 526.05h9.12v0.99h-9.12zM177.35 526.74h9.12v0.99h-9.12zM177.35 528.13h9.12v0.99h-9.12zM177.35 537.83h9.12v0.99h-9.12z"/><path fill="#e58d7e" d="M110.11 521.19h9.19v0.99h-9.19zM110.11 522.58h9.19v0.99h-9.19zM110.11 528.82h9.19v0.99h-9.19zM110.11 530.21h9.19v0.99h-9.19zM110.11 532.98h9.19v0.99h-9.19zM110.11 534.37h9.19v0.99h-9.19zM101.22 548.2h9.19v1h-9.19zM101.22 550.99h9.19v1h-9.19zM101.22 552.39h9.19v1h-9.19zM101.22 563.56h9.19v1h-9.19zM101.22 564.25h9.19v1h-9.19z"/><path fill="#8b9fd0" d="M56.79 521.89h9.19v0.99h-9.19zM56.79 529.51h9.19v0.99h-9.19zM56.79 533.67h9.19v0.99h-9.19zM56.79 539.91h9.19v0.99h-9.19z"/><path fill="#c4abbe" d="M65.67 521.89h9.19v0.99h-9.19zM65.67 538.53h9.19v0.99h-9.19z"/><path fill="#e2725f" d="M92.34 521.89h9.19v0.99h-9.19zM92.34 528.82h9.19v0.99h-9.19zM92.34 535.06h9.19v0.99h-9.19zM47.9 549.59h9.19v1h-9.19zM47.9 552.39h9.19v1h-9.19zM47.9 553.78h9.19v1h-9.19zM47.9 556.57h9.19v1h-9.19zM47.9 560.07h9.19v1h-9.19zM47.9 563.56h9.19v1h-9.19zM47.9 567.05h9.19v1h-9.19zM47.9 572.63h9.19v1h-9.19zM47.9 582.41h9.19v1h-9.19z"/><path fill="#e69182" d="M110.11 521.89h9.19v0.99h-9.19zM110.11 525.35h9.19v0.99h-9.19zM110.11 527.43h9.19v0.99h-9.19zM110.11 528.13h9.19v0.99h-9.19zM110.11 529.51h9.19v0.99h-9.19zM110.11 535.06h9.19v0.99h-9.19zM110.11 537.14h9.19v0.99h-9.19zM110.11 539.91h9.19v0.99h-9.19zM101.22 562.16h9.19v1h-9.19zM101.22 567.05h9.19v1h-9.19zM101.22 569.14h9.19v1h-9.19zM101.22 576.12h9.19v1h-9.19zM101.22 577.52h9.19v1h-9.19zM101.22 583.11h9.19v1h-9.19z"/><path fill="#7c95cc" d="M56.79 522.58h9.19v0.99h-9.19zM56.79 526.05h9.19v0.99h-9.19zM56.79 532.29h9.19v0.99h-9.19zM56.79 535.75h9.19v0.99h-9.19z"/><path fill="#cdb0be" d="M65.67 522.58h9.19v0.99h-9.19zM65.67 526.05h9.19v0.99h-9.19zM65.67 527.43h9.19v0.99h-9.19zM65.67 529.51h9.19v0.99h-9.19zM65.67 534.37h9.19v0.99h-9.19zM65.67 536.45h9.19v0.99h-9.19z"/><path fill="#b7b9da" d="M74.56 522.58h9.19v0.99h-9.19zM74.56 530.21h9.19v0.99h-9.19zM74.56 532.98h9.19v0.99h-9.19zM74.56 534.37h9.19v0.99h-9.19zM74.56 536.45h9.19v0.99h-9.19zM74.56 538.53h9.19v0.99h-9.19zM74.56 540.61h9.19v0.99h-9.19z"/><path fill="#e57d6a" d="M92.34 522.58h9.19v0.99h-9.19zM92.34 529.51h9.19v0.99h-9.19zM92.34 530.9h9.19v0.99h-9.19zM47.9 546.8h9.19v1h-9.19zM47.9 550.99h9.19v1h-9.19zM47.9 554.48h9.19v1h-9.19zM47.9 558.67h9.19v1h-9.19zM47.9 564.95h9.19v1h-9.19z"/><path fill="#7d96cd" d="M56.79 523.27h9.19v0.99h-9.19zM56.79 527.43h9.19v0.99h-9.19zM56.79 530.21h9.19v0.99h-9.19zM56.79 530.9h9.19v0.99h-9.19zM56.79 531.59h9.19v0.99h-9.19zM56.79 532.98h9.19v0.99h-9.19z"/><path fill="#d9b3bc" d="M65.67 523.27h9.19v0.99h-9.19zM65.67 526.74h9.19v0.99h-9.19zM65.67 528.13h9.19v0.99h-9.19zM65.67 533.67h9.19v0.99h-9.19zM65.67 535.75h9.19v0.99h-9.19zM65.67 537.14h9.19v0.99h-9.19zM65.67 537.83h9.19v0.99h-9.19zM65.67 539.22h9.19v0.99h-9.19zM65.67 539.91h9.19v0.99h-9.19z"/><path fill="#e26f5c" d="M83.45 523.27h9.19v0.99h-9.19zM83.45 533.67h9.19v0.99h-9.19zM83.45 535.75h9.19v0.99h-9.19z"/><path fill="#e6806d" d="M92.34 523.27h9.19v0.99h-9.19zM92.34 534.37h9.19v0.99h-9.19zM47.9 548.89h9.19v1h-9.19zM47.9 550.29h9.19v1h-9.19zM47.9 553.08h9.19v1h-9.19zM47.9 567.75h9.19v1h-9.19zM47.9 569.14h9.19v1h-9.19zM47.9 569.84h9.19v1h-9.19zM47.9 575.43h9.19v1h-9.19zM47.9 579.61h9.19v1h-9.19z"/><path fill="#baaac5" d="M101.22 523.27h9.19v0.99h-9.19zM101.22 526.74h9.19v0.99h-9.19zM101.22 529.51h9.19v0.99h-9.19zM101.22 534.37h9.19v0.99h-9.19zM101.22 537.83h9.19v0.99h-9.19zM177.35 539.91h9.12v0.99h-9.12z"/><path fill="#e69384" d="M110.11 523.27h9.19v0.99h-9.19zM110.11 524.66h9.19v0.99h-9.19zM110.11 526.05h9.19v0.99h-9.19zM110.11 535.75h9.19v0.99h-9.19zM110.11 537.83h9.19v0.99h-9.19zM110.11 540.61h9.19v0.99h-9.19zM101.22 546.8h9.19v1h-9.19zM101.22 547.5h9.19v1h-9.19zM101.22 554.48h9.19v1h-9.19zM101.22 555.88h9.19v1h-9.19zM101.22 558.67h9.19v1h-9.19zM101.22 561.46h9.19v1h-9.19zM101.22 567.75h9.19v1h-9.19zM101.22 568.44h9.19v1h-9.19zM101.22 580.31h9.19v1h-9.19zM101.22 582.41h9.19v1h-9.19zM101.22 584.5h9.19v1h-9.19z"/><path fill="#7992ca" d="M56.79 523.97h9.19v0.99h-9.19z"/><path fill="#d7b4be" d="M65.67 523.97h9.19v0.99h-9.19zM65.67 524.66h9.19v0.99h-9.19zM65.67 525.35h9.19v0.99h-9.19zM65.67 530.21h9.19v0.99h-9.19zM65.67 531.59h9.19v0.99h-9.19zM65.67 532.29h9.19v0.99h-9.19z"/><path fill="#bebedc" d="M74.56 523.97h9.19v0.99h-9.19zM74.56 524.66h9.19v0.99h-9.19zM74.56 525.35h9.19v0.99h-9.19zM74.56 529.51h9.19v0.99h-9.19zM74.56 531.59h9.19v0.99h-9.19zM74.56 532.29h9.19v0.99h-9.19zM74.56 533.67h9.19v0.99h-9.19zM74.56 535.75h9.19v0.99h-9.19z"/><path fill="#e06653" d="M83.45 523.97h9.19v0.99h-9.19zM83.45 535.06h9.19v0.99h-9.19zM83.45 537.83h9.19v0.99h-9.19z"/><path fill="#e37561" d="M92.34 524.66h9.19v0.99h-9.19zM47.9 562.86h9.19v1h-9.19zM47.9 564.25h9.19v1h-9.19zM47.9 571.24h9.19v1h-9.19zM47.9 577.52h9.19v1h-9.19zM47.9 584.5h9.19v1h-9.19z"/><path fill="#a9a6cc" d="M101.22 524.66h9.19v0.99h-9.19zM101.22 526.05h9.19v0.99h-9.19zM101.22 530.21h9.19v0.99h-9.19zM101.22 532.98h9.19v0.99h-9.19zM101.22 536.45h9.19v0.99h-9.19zM101.22 539.22h9.19v0.99h-9.19zM177.35 521.19h9.12v0.99h-9.12zM177.35 521.89h9.12v0.99h-9.12zM177.35 530.9h9.12v0.99h-9.12zM177.35 535.75h9.12v0.99h-9.12zM177.35 537.14h9.12v0.99h-9.12z"/><path fill="#768fc8" d="M56.79 525.35h9.19v0.99h-9.19z"/><path fill="#dd5f4d" d="M83.45 525.35h9.19v0.99h-9.19zM83.45 528.13h9.19v0.99h-9.19zM83.45 538.53h9.19v0.99h-9.19z"/><path fill="#e06b59" d="M92.34 525.35h9.19v0.99h-9.19zM92.34 530.21h9.19v0.99h-9.19zM92.34 532.29h9.19v0.99h-9.19zM92.34 538.53h9.19v0.99h-9.19zM92.34 539.91h9.19v0.99h-9.19zM92.34 540.61h9.19v0.99h-9.19zM47.9 562.16h9.19v1h-9.19zM47.9 568.44h9.19v1h-9.19zM47.9 581.01h9.19v1h-9.19z"/><path fill="#9d9fca" d="M101.22 525.35h9.19v0.99h-9.19zM177.35 533.67h9.12v0.99h-9.12zM177.35 540.61h9.12v0.99h-9.12z"/><path fill="#a0add5" d="M56.79 526.74h9.19v0.99h-9.19zM56.79 528.13h9.19v0.99h-9.19zM56.79 537.14h9.19v0.99h-9.19z"/><path fill="#e37360" d="M83.45 526.74h9.19v0.99h-9.19zM83.45 530.9h9.19v0.99h-9.19z"/><path fill="#afb3d7" d="M74.56 527.43h9.19v0.99h-9.19z"/><path fill="#c5aabe" d="M101.22 527.43h9.19v0.99h-9.19zM177.35 536.45h9.12v0.99h-9.12zM177.35 538.53h9.12v0.99h-9.12z"/><path fill="#c2bcd7" d="M74.56 528.13h9.19v0.99h-9.19zM74.56 537.83h9.19v0.99h-9.19zM74.56 539.22h9.19v0.99h-9.19zM74.56 539.91h9.19v0.99h-9.19z"/><path fill="#e16e5c" d="M92.34 528.13h9.19v0.99h-9.19zM47.9 547.5h9.19v1h-9.19zM47.9 551.69h9.19v1h-9.19zM47.9 555.88h9.19v1h-9.19zM47.9 571.93h9.19v1h-9.19zM47.9 574.73h9.19v1h-9.19zM47.9 581.71h9.19v1h-9.19zM47.9 583.11h9.19v1h-9.19z"/><path fill="#7a93cb" d="M56.79 528.82h9.19v0.99h-9.19zM56.79 538.53h9.19v0.99h-9.19z"/><path fill="#b0a2bf" d="M65.67 528.82h9.19v0.99h-9.19zM65.67 530.9h9.19v0.99h-9.19zM65.67 532.98h9.19v0.99h-9.19z"/><path fill="#de614f" d="M83.45 528.82h9.19v0.99h-9.19z"/><path fill="#a3a3cb" d="M101.22 528.82h9.19v0.99h-9.19zM101.22 530.9h9.19v0.99h-9.19zM101.22 535.06h9.19v0.99h-9.19zM101.22 538.53h9.19v0.99h-9.19z"/><path fill="#df6451" d="M83.45 529.51h9.19v0.99h-9.19zM83.45 532.29h9.19v0.99h-9.19zM83.45 539.91h9.19v0.99h-9.19zM83.45 540.61h9.19v0.99h-9.19z"/><path fill="#dc5c4a" d="M83.45 530.21h9.19v0.99h-9.19z"/><path fill="#99a4d0" d="M74.56 530.9h9.19v0.99h-9.19z"/><path fill="#e4897a" d="M110.11 530.9h9.19v0.99h-9.19zM110.11 536.45h9.19v0.99h-9.19zM101.22 548.89h9.19v1h-9.19zM101.22 555.18h9.19v1h-9.19zM101.22 556.57h9.19v1h-9.19zM101.22 560.07h9.19v1h-9.19zM101.22 569.84h9.19v1h-9.19zM101.22 574.03h9.19v1h-9.19zM101.22 581.71h9.19v1h-9.19z"/><path fill="#e57c6b" d="M83.45 531.59h9.19v0.99h-9.19z"/><path fill="#e78876" d="M92.34 531.59h9.19v0.99h-9.19zM47.9 574.03h9.19v1h-9.19z"/><path fill="#e89789" d="M110.11 531.59h9.19v0.99h-9.19zM101.22 557.97h9.19v1h-9.19zM101.22 559.37h9.19v1h-9.19zM101.22 571.24h9.19v1h-9.19zM101.22 572.63h9.19v1h-9.19zM101.22 575.43h9.19v1h-9.19zM101.22 578.22h9.19v1h-9.19z"/><path fill="#969cc8" d="M101.22 532.29h9.19v0.99h-9.19z"/><path fill="#e18072" d="M110.11 532.29h9.19v0.99h-9.19zM110.11 538.53h9.19v0.99h-9.19zM101.22 549.59h9.19v1h-9.19z"/><path fill="#e47663" d="M83.45 532.98h9.19v0.99h-9.19z"/><path fill="#e68270" d="M92.34 532.98h9.19v0.99h-9.19z"/><path fill="#cbaaba" d="M101.22 533.67h9.19v0.99h-9.19zM177.35 535.06h9.12v0.99h-9.12z"/><path fill="#e8998b" d="M110.11 533.67h9.19v0.99h-9.19z"/><path fill="#bbbdda" d="M47.9 534.37h9.19v0.99h-9.19z"/><path fill="#849bcf" d="M56.79 535.06h9.19v0.99h-9.19zM56.79 539.22h9.19v0.99h-9.19z"/><path fill="#e1b0b2" d="M65.67 535.06h9.19v0.99h-9.19z"/><path fill="#cfb7c8" d="M74.56 535.06h9.19v0.99h-9.19z"/><path fill="#7790c9" d="M56.79 536.45h9.19v0.99h-9.19zM56.79 540.61h9.19v0.99h-9.19z"/><path fill="#c6bad2" d="M74.56 537.14h9.19v0.99h-9.19z"/><path fill="#e28476" d="M110.11 539.22h9.19v0.99h-9.19zM101.22 551.69h9.19v1h-9.19zM101.22 560.76h9.19v1h-9.19zM101.22 571.93h9.19v1h-9.19zM101.22 573.33h9.19v1h-9.19zM101.22 576.82h9.19v1h-9.19zM101.22 581.01h9.19v1h-9.19z"/><path fill="#dbb2b9" d="M65.67 540.61h9.19v0.99h-9.19z"/><path fill="#b2b3d4" d="M124.4 520.5h9.12v0.99h-9.12zM124.4 533.67h9.12v0.99h-9.12zM124.4 536.45h9.12v0.99h-9.12z"/><path fill="#a2acd4" d="M133.22 520.5h9.12v0.99h-9.12zM133.22 521.89h9.12v0.99h-9.12zM133.22 524.66h9.12v0.99h-9.12zM133.22 527.43h9.12v0.99h-9.12zM133.22 528.13h9.12v0.99h-9.12zM133.22 528.82h9.12v0.99h-9.12z"/><path fill="#d4a5a9" d="M142.05 520.5h9.12v0.99h-9.12zM142.05 526.74h9.12v0.99h-9.12zM142.05 531.59h9.12v0.99h-9.12zM142.05 535.75h9.12v0.99h-9.12zM142.05 540.61h9.12v0.99h-9.12z"/><path fill="#c0a6be" d="M150.88 520.5h9.12v0.99h-9.12zM150.88 521.19h9.12v0.99h-9.12zM150.88 522.58h9.12v0.99h-9.12zM150.88 525.35h9.12v0.99h-9.12zM150.88 528.13h9.12v0.99h-9.12zM150.88 530.21h9.12v0.99h-9.12z"/><path fill="#e57a66" d="M168.53 520.5h9.12v0.99h-9.12zM168.53 535.75h9.12v0.99h-9.12z"/><path fill="#d4a1a9" d="M186.18 520.5h9.12v0.99h-9.12zM186.18 525.35h9.12v0.99h-9.12zM186.18 528.82h9.12v0.99h-9.12zM186.18 530.21h9.12v0.99h-9.12zM186.18 535.75h9.12v0.99h-9.12zM186.18 539.91h9.12v0.99h-9.12z"/><path fill="#9ca2cc" d="M124.4 521.19h9.12v0.99h-9.12zM124.4 530.21h9.12v0.99h-9.12zM124.4 530.9h9.12v0.99h-9.12zM124.4 537.14h9.12v0.99h-9.12z"/><path fill="#91a0d0" d="M133.22 521.19h9.12v0.99h-9.12zM133.22 532.98h9.12v0.99h-9.12zM133.22 534.37h9.12v0.99h-9.12zM133.22 539.22h9.12v0.99h-9.12z"/><path fill="#d2a5aa" d="M142.05 521.19h9.12v0.99h-9.12zM142.05 521.89h9.12v0.99h-9.12zM142.05 526.05h9.12v0.99h-9.12zM142.05 527.43h9.12v0.99h-9.12zM142.05 528.13h9.12v0.99h-9.12zM142.05 530.21h9.12v0.99h-9.12zM142.05 534.37h9.12v0.99h-9.12zM142.05 536.45h9.12v0.99h-9.12z"/><path fill="#e67b69" d="M159.7 521.19h9.12v0.99h-9.12zM159.7 521.89h9.12v0.99h-9.12z"/><path fill="#e78471" d="M168.53 521.19h9.12v0.99h-9.12zM168.53 528.82h9.12v0.99h-9.12z"/><path fill="#c99dac" d="M186.18 521.19h9.12v0.99h-9.12zM186.18 521.89h9.12v0.99h-9.12zM186.18 526.74h9.12v0.99h-9.12zM186.18 537.83h9.12v0.99h-9.12z"/><path fill="#adb0d2" d="M124.4 521.89h9.12v0.99h-9.12zM124.4 535.06h9.12v0.99h-9.12z"/><path fill="#c8aabe" d="M150.88 521.89h9.12v0.99h-9.12zM150.88 526.05h9.12v0.99h-9.12zM150.88 527.43h9.12v0.99h-9.12zM150.88 534.37h9.12v0.99h-9.12zM150.88 537.83h9.12v0.99h-9.12z"/><path fill="#e7826f" d="M168.53 521.89h9.12v0.99h-9.12zM168.53 523.27h9.12v0.99h-9.12zM168.53 530.21h9.12v0.99h-9.12zM168.53 532.98h9.12v0.99h-9.12zM168.53 539.91h9.12v0.99h-9.12z"/><path fill="#949dca" d="M124.4 522.58h9.12v0.99h-9.12zM124.4 539.91h9.12v0.99h-9.12z"/><path fill="#889acd" d="M133.22 522.58h9.12v0.99h-9.12zM133.22 539.91h9.12v0.99h-9.12z"/><path fill="#c9a2ac" d="M142.05 522.58h9.12v0.99h-9.12zM142.05 523.27h9.12v0.99h-9.12zM142.05 530.9h9.12v0.99h-9.12zM142.05 532.98h9.12v0.99h-9.12zM142.05 537.14h9.12v0.99h-9.12z"/><path fill="#e67d69" d="M168.53 522.58h9.12v0.99h-9.12zM168.53 523.97h9.12v0.99h-9.12zM168.53 535.06h9.12v0.99h-9.12zM168.53 537.83h9.12v0.99h-9.12z"/><path fill="#c0aac2" d="M177.35 522.58h9.12v0.99h-9.12zM177.35 528.82h9.12v0.99h-9.12z"/><path fill="#d7a2a9" d="M186.18 522.58h9.12v0.99h-9.12zM186.18 535.06h9.12v0.99h-9.12z"/><path fill="#a9acd0" d="M124.4 523.27h9.12v0.99h-9.12zM124.4 524.66h9.12v0.99h-9.12zM124.4 528.82h9.12v0.99h-9.12zM124.4 532.98h9.12v0.99h-9.12z"/><path fill="#97a4d1" d="M133.22 523.27h9.12v0.99h-9.12zM133.22 530.21h9.12v0.99h-9.12zM133.22 531.59h9.12v0.99h-9.12z"/><path fill="#af9fbf" d="M150.88 523.27h9.12v0.99h-9.12zM150.88 530.9h9.12v0.99h-9.12zM150.88 532.98h9.12v0.99h-9.12z"/><path fill="#d9a3a8" d="M186.18 523.27h9.12v0.99h-9.12zM186.18 527.43h9.12v0.99h-9.12zM186.18 538.53h9.12v0.99h-9.12z"/><path fill="#cb9099" d="M124.4 523.97h9.12v0.99h-9.12zM124.4 532.29h9.12v0.99h-9.12z"/><path fill="#c58e9a" d="M133.22 523.97h9.12v0.99h-9.12zM133.22 532.29h9.12v0.99h-9.12z"/><path fill="#b69cb0" d="M142.05 523.97h9.12v0.99h-9.12z"/><path fill="#b7a3be" d="M150.88 523.97h9.12v0.99h-9.12zM150.88 524.66h9.12v0.99h-9.12z"/><path fill="#d2a0aa" d="M186.18 523.97h9.12v0.99h-9.12zM186.18 526.05h9.12v0.99h-9.12zM186.18 528.13h9.12v0.99h-9.12zM186.18 532.29h9.12v0.99h-9.12zM186.18 532.98h9.12v0.99h-9.12z"/><path fill="#c09fae" d="M142.05 524.66h9.12v0.99h-9.12z"/><path fill="#e27360" d="M168.53 524.66h9.12v0.99h-9.12zM168.53 526.05h9.12v0.99h-9.12zM168.53 527.43h9.12v0.99h-9.12zM168.53 529.51h9.12v0.99h-9.12zM168.53 540.61h9.12v0.99h-9.12z"/><path fill="#c09bae" d="M186.18 524.66h9.12v0.99h-9.12zM186.18 530.9h9.12v0.99h-9.12zM186.18 540.61h9.12v0.99h-9.12z"/><path fill="#a0a5cd" d="M124.4 525.35h9.12v0.99h-9.12zM124.4 526.05h9.12v0.99h-9.12zM124.4 529.51h9.12v0.99h-9.12zM124.4 531.59h9.12v0.99h-9.12zM124.4 534.37h9.12v0.99h-9.12zM124.4 537.83h9.12v0.99h-9.12zM124.4 539.22h9.12v0.99h-9.12z"/><path fill="#8e9ecf" d="M133.22 525.35h9.12v0.99h-9.12zM133.22 526.05h9.12v0.99h-9.12zM133.22 535.75h9.12v0.99h-9.12zM133.22 538.53h9.12v0.99h-9.12z"/><path fill="#d7a6a9" d="M142.05 525.35h9.12v0.99h-9.12zM142.05 533.67h9.12v0.99h-9.12zM142.05 537.83h9.12v0.99h-9.12zM142.05 539.91h9.12v0.99h-9.12z"/><path fill="#e88774" d="M168.53 525.35h9.12v0.99h-9.12zM168.53 531.59h9.12v0.99h-9.12z"/><path fill="#a4a9cf" d="M124.4 526.74h9.12v0.99h-9.12zM124.4 540.61h9.12v0.99h-9.12z"/><path fill="#9ca8d3" d="M133.22 526.74h9.12v0.99h-9.12zM133.22 533.67h9.12v0.99h-9.12zM133.22 535.06h9.12v0.99h-9.12zM133.22 537.83h9.12v0.99h-9.12zM133.22 540.61h9.12v0.99h-9.12z"/><path fill="#cbaabc" d="M150.88 526.74h9.12v0.99h-9.12zM150.88 528.82h9.12v0.99h-9.12zM150.88 531.59h9.12v0.99h-9.12zM150.88 536.45h9.12v0.99h-9.12zM150.88 537.14h9.12v0.99h-9.12zM150.88 539.91h9.12v0.99h-9.12z"/><path fill="#e67f6c" d="M168.53 526.74h9.12v0.99h-9.12zM168.53 528.13h9.12v0.99h-9.12zM168.53 533.67h9.12v0.99h-9.12zM168.53 534.37h9.12v0.99h-9.12zM168.53 537.14h9.12v0.99h-9.12zM168.53 538.53h9.12v0.99h-9.12z"/><path fill="#b6b7d5" d="M124.4 527.43h9.12v0.99h-9.12zM124.4 528.13h9.12v0.99h-9.12z"/><path fill="#d9a6a8" d="M142.05 528.82h9.12v0.99h-9.12zM142.05 535.06h9.12v0.99h-9.12zM142.05 538.53h9.12v0.99h-9.12z"/><path fill="#8b9cce" d="M133.22 529.51h9.12v0.99h-9.12zM133.22 530.9h9.12v0.99h-9.12zM133.22 537.14h9.12v0.99h-9.12z"/><path fill="#df908b" d="M142.05 529.51h9.12v0.99h-9.12z"/><path fill="#db9293" d="M150.88 529.51h9.12v0.99h-9.12z"/><path fill="#d19299" d="M177.35 529.51h9.12v0.99h-9.12zM177.35 534.37h9.12v0.99h-9.12zM177.35 539.22h9.12v0.99h-9.12z"/><path fill="#df8e8b" d="M186.18 529.51h9.12v0.99h-9.12zM186.18 534.37h9.12v0.99h-9.12zM186.18 539.22h9.12v0.99h-9.12z"/><path fill="#e47663" d="M168.53 530.9h9.12v0.99h-9.12zM168.53 539.22h9.12v0.99h-9.12z"/><path fill="#9098c7" d="M177.35 531.59h9.12v0.99h-9.12z"/><path fill="#b698b0" d="M186.18 531.59h9.12v0.99h-9.12zM186.18 533.67h9.12v0.99h-9.12zM186.18 537.14h9.12v0.99h-9.12z"/><path fill="#ad99b2" d="M142.05 532.29h9.12v0.99h-9.12z"/><path fill="#9695bf" d="M150.88 532.29h9.12v0.99h-9.12z"/><path fill="#e16f5d" d="M168.53 532.29h9.12v0.99h-9.12z"/><path fill="#d2aab7" d="M150.88 533.67h9.12v0.99h-9.12zM150.88 538.53h9.12v0.99h-9.12zM150.88 539.22h9.12v0.99h-9.12zM150.88 540.61h9.12v0.99h-9.12z"/><path fill="#cfaab9" d="M150.88 535.06h9.12v0.99h-9.12zM150.88 535.75h9.12v0.99h-9.12z"/><path fill="#98a0cb" d="M124.4 535.75h9.12v0.99h-9.12zM124.4 538.53h9.12v0.99h-9.12z"/><path fill="#adb3d7" d="M133.22 536.45h9.12v0.99h-9.12z"/><path fill="#e88977" d="M168.53 536.45h9.12v0.99h-9.12z"/><path fill="#dea4a6" d="M186.18 536.45h9.12v0.99h-9.12z"/><path fill="#dca7a7" d="M142.05 539.22h9.12v0.99h-9.12z"/><path fill="#dc5e4d" d="M159.7 540.61h9.12v0.99h-9.12z"/><path fill="#e16e5a" d="M56.79 546.8h9.19v1h-9.19zM56.79 559.37h9.19v1h-9.19zM56.79 563.56h9.19v1h-9.19zM56.79 576.12h9.19v1h-9.19zM56.79 577.52h9.19v1h-9.19zM56.79 580.31h9.19v1h-9.19zM56.79 581.71h9.19v1h-9.19zM56.79 582.41h9.19v1h-9.19z"/><path fill="#92a8d2" d="M65.67 546.8h9.19v1h-9.19zM65.67 551.69h9.19v1h-9.19zM65.67 560.07h9.19v1h-9.19zM65.67 581.01h9.19v1h-9.19z"/><path fill="#94a9d3" d="M74.56 546.8h9.19v1h-9.19zM74.56 558.67h9.19v1h-9.19zM74.56 571.24h9.19v1h-9.19zM74.56 578.92h9.19v1h-9.19zM74.56 583.11h9.19v1h-9.19zM74.56 583.8h9.19v1h-9.19z"/><path fill="#b6b6d2" d="M83.45 546.8h9.19v1h-9.19zM83.45 547.5h9.19v1h-9.19zM83.45 549.59h9.19v1h-9.19zM83.45 554.48h9.19v1h-9.19zM83.45 557.97h9.19v1h-9.19zM83.45 558.67h9.19v1h-9.19zM83.45 560.07h9.19v1h-9.19zM83.45 560.76h9.19v1h-9.19zM83.45 575.43h9.19v1h-9.19z"/><path fill="#bebad2" d="M92.34 546.8h9.19v1h-9.19zM92.34 558.67h9.19v1h-9.19zM92.34 562.16h9.19v1h-9.19zM92.34 564.95h9.19v1h-9.19zM92.34 572.63h9.19v1h-9.19zM92.34 573.33h9.19v1h-9.19zM92.34 582.41h9.19v1h-9.19zM92.34 583.8h9.19v1h-9.19z"/><path fill="#e5a69c" d="M110.11 546.8h9.19v1h-9.19zM110.11 552.39h9.19v1h-9.19zM110.11 555.88h9.19v1h-9.19zM110.11 557.27h9.19v1h-9.19zM110.11 571.24h9.19v1h-9.19zM110.11 582.41h9.19v1h-9.19z"/><path fill="#df6855" d="M56.79 547.5h9.19v1h-9.19zM56.79 549.59h9.19v1h-9.19zM56.79 551.69h9.19v1h-9.19zM56.79 553.78h9.19v1h-9.19zM56.79 555.88h9.19v1h-9.19zM56.79 556.57h9.19v1h-9.19zM56.79 557.97h9.19v1h-9.19zM56.79 562.16h9.19v1h-9.19zM56.79 567.05h9.19v1h-9.19zM56.79 571.93h9.19v1h-9.19zM56.79 583.11h9.19v1h-9.19zM56.79 584.5h9.19v1h-9.19z"/><path fill="#7d9bcd" d="M65.67 547.5h9.19v1h-9.19zM65.67 557.27h9.19v1h-9.19zM65.67 558.67h9.19v1h-9.19zM65.67 561.46h9.19v1h-9.19zM65.67 564.95h9.19v1h-9.19zM65.67 569.84h9.19v1h-9.19zM65.67 571.93h9.19v1h-9.19zM65.67 574.03h9.19v1h-9.19zM65.67 576.82h9.19v1h-9.19z"/><path fill="#7f9cce" d="M74.56 547.5h9.19v1h-9.19zM74.56 557.27h9.19v1h-9.19zM74.56 560.76h9.19v1h-9.19zM74.56 564.25h9.19v1h-9.19zM74.56 569.14h9.19v1h-9.19zM74.56 579.61h9.19v1h-9.19zM74.56 584.5h9.19v1h-9.19z"/><path fill="#c3b9cd" d="M92.34 547.5h9.19v1h-9.19zM92.34 554.48h9.19v1h-9.19zM92.34 555.18h9.19v1h-9.19zM92.34 560.07h9.19v1h-9.19zM92.34 574.03h9.19v1h-9.19zM92.34 574.73h9.19v1h-9.19zM92.34 575.43h9.19v1h-9.19zM92.34 583.11h9.19v1h-9.19z"/><path fill="#e5a79d" d="M110.11 547.5h9.19v1h-9.19zM110.11 550.29h9.19v1h-9.19zM110.11 554.48h9.19v1h-9.19zM110.11 559.37h9.19v1h-9.19zM110.11 565.65h9.19v1h-9.19zM110.11 574.73h9.19v1h-9.19zM110.11 578.92h9.19v1h-9.19zM110.11 584.5h9.19v1h-9.19z"/><path fill="#e2715d" d="M56.79 548.2h9.19v1h-9.19zM56.79 548.89h9.19v1h-9.19zM56.79 550.99h9.19v1h-9.19zM56.79 560.76h9.19v1h-9.19zM56.79 575.43h9.19v1h-9.19zM56.79 578.22h9.19v1h-9.19zM56.79 583.8h9.19v1h-9.19z"/><path fill="#7794c9" d="M65.67 548.2h9.19v1h-9.19zM65.67 567.05h9.19v1h-9.19zM65.67 570.54h9.19v1h-9.19z"/><path fill="#7995ca" d="M74.56 548.2h9.19v1h-9.19zM74.56 566.35h9.19v1h-9.19z"/><path fill="#93a6d2" d="M83.45 548.2h9.19v1h-9.19zM83.45 555.88h9.19v1h-9.19z"/><path fill="#a0aed5" d="M92.34 548.2h9.19v1h-9.19zM92.34 578.22h9.19v1h-9.19zM92.34 581.71h9.19v1h-9.19z"/><path fill="#e3a096" d="M110.11 548.2h9.19v1h-9.19zM110.11 555.18h9.19v1h-9.19zM110.11 560.07h9.19v1h-9.19zM110.11 561.46h9.19v1h-9.19zM110.11 564.25h9.19v1h-9.19zM110.11 567.05h9.19v1h-9.19zM110.11 569.84h9.19v1h-9.19zM110.11 577.52h9.19v1h-9.19z"/><path fill="#7a97cb" d="M65.67 548.89h9.19v1h-9.19zM65.67 549.59h9.19v1h-9.19zM65.67 553.78h9.19v1h-9.19zM65.67 554.48h9.19v1h-9.19zM65.67 555.88h9.19v1h-9.19zM65.67 556.57h9.19v1h-9.19zM65.67 566.35h9.19v1h-9.19zM65.67 582.41h9.19v1h-9.19z"/><path fill="#7c98cc" d="M74.56 548.89h9.19v1h-9.19zM74.56 550.29h9.19v1h-9.19zM74.56 554.48h9.19v1h-9.19zM74.56 556.57h9.19v1h-9.19zM74.56 561.46h9.19v1h-9.19zM74.56 572.63h9.19v1h-9.19zM74.56 574.03h9.19v1h-9.19zM74.56 578.22h9.19v1h-9.19z"/><path fill="#b0b8d7" d="M83.45 548.89h9.19v1h-9.19zM83.45 550.99h9.19v1h-9.19zM83.45 552.39h9.19v1h-9.19zM83.45 562.16h9.19v1h-9.19zM83.45 563.56h9.19v1h-9.19zM83.45 564.95h9.19v1h-9.19zM83.45 567.75h9.19v1h-9.19zM83.45 569.14h9.19v1h-9.19zM83.45 570.54h9.19v1h-9.19zM83.45 571.24h9.19v1h-9.19zM83.45 572.63h9.19v1h-9.19zM83.45 577.52h9.19v1h-9.19z"/><path fill="#b4bedc" d="M92.34 548.89h9.19v1h-9.19zM92.34 550.99h9.19v1h-9.19zM92.34 552.39h9.19v1h-9.19zM92.34 557.27h9.19v1h-9.19zM92.34 566.35h9.19v1h-9.19zM92.34 568.44h9.19v1h-9.19zM92.34 571.24h9.19v1h-9.19zM92.34 571.93h9.19v1h-9.19zM92.34 577.52h9.19v1h-9.19zM92.34 584.5h9.19v1h-9.19z"/><path fill="#e29b91" d="M110.11 548.89h9.19v1h-9.19zM110.11 550.99h9.19v1h-9.19zM110.11 556.57h9.19v1h-9.19zM110.11 563.56h9.19v1h-9.19zM110.11 567.75h9.19v1h-9.19zM110.11 581.01h9.19v1h-9.19z"/><path fill="#86a0d0" d="M74.56 549.59h9.19v1h-9.19zM74.56 550.99h9.19v1h-9.19zM74.56 560.07h9.19v1h-9.19zM74.56 564.95h9.19v1h-9.19zM74.56 565.65h9.19v1h-9.19zM74.56 576.12h9.19v1h-9.19z"/><path fill="#b9bcd7" d="M92.34 549.59h9.19v1h-9.19zM92.34 553.78h9.19v1h-9.19zM92.34 557.97h9.19v1h-9.19zM92.34 562.86h9.19v1h-9.19zM92.34 567.75h9.19v1h-9.19zM92.34 569.14h9.19v1h-9.19zM92.34 579.61h9.19v1h-9.19z"/><path fill="#e1968c" d="M110.11 549.59h9.19v1h-9.19zM110.11 560.76h9.19v1h-9.19zM110.11 571.93h9.19v1h-9.19zM110.11 573.33h9.19v1h-9.19z"/><path fill="#e27461" d="M56.79 550.29h9.19v1h-9.19zM56.79 554.48h9.19v1h-9.19zM56.79 555.18h9.19v1h-9.19zM56.79 564.95h9.19v1h-9.19zM56.79 565.65h9.19v1h-9.19zM56.79 567.75h9.19v1h-9.19zM56.79 570.54h9.19v1h-9.19zM56.79 572.63h9.19v1h-9.19zM56.79 578.92h9.19v1h-9.19z"/><path fill="#7c99cc" d="M65.67 550.29h9.19v1h-9.19zM65.67 562.86h9.19v1h-9.19zM65.67 564.25h9.19v1h-9.19zM65.67 567.75h9.19v1h-9.19zM65.67 576.12h9.19v1h-9.19zM65.67 579.61h9.19v1h-9.19zM65.67 584.5h9.19v1h-9.19z"/><path fill="#a4b4da" d="M83.45 550.29h9.19v1h-9.19zM83.45 553.08h9.19v1h-9.19zM83.45 567.05h9.19v1h-9.19zM83.45 568.44h9.19v1h-9.19zM83.45 569.84h9.19v1h-9.19zM83.45 571.93h9.19v1h-9.19zM83.45 574.73h9.19v1h-9.19zM83.45 578.22h9.19v1h-9.19zM83.45 584.5h9.19v1h-9.19z"/><path fill="#a7b3d7" d="M92.34 550.29h9.19v1h-9.19zM92.34 564.25h9.19v1h-9.19zM92.34 565.65h9.19v1h-9.19zM92.34 581.01h9.19v1h-9.19z"/><path fill="#8ba3d0" d="M65.67 550.99h9.19v1h-9.19zM65.67 553.08h9.19v1h-9.19zM65.67 557.97h9.19v1h-9.19zM65.67 559.37h9.19v1h-9.19zM65.67 577.52h9.19v1h-9.19zM65.67 583.8h9.19v1h-9.19z"/><path fill="#9aadd4" d="M74.56 551.69h9.19v1h-9.19zM74.56 576.82h9.19v1h-9.19zM74.56 577.52h9.19v1h-9.19z"/><path fill="#aab9dc" d="M83.45 551.69h9.19v1h-9.19zM83.45 557.27h9.19v1h-9.19zM83.45 562.86h9.19v1h-9.19zM83.45 564.25h9.19v1h-9.19zM83.45 573.33h9.19v1h-9.19zM83.45 576.12h9.19v1h-9.19zM83.45 579.61h9.19v1h-9.19zM83.45 580.31h9.19v1h-9.19z"/><path fill="#adb9da" d="M92.34 551.69h9.19v1h-9.19zM92.34 553.08h9.19v1h-9.19zM92.34 563.56h9.19v1h-9.19zM92.34 567.05h9.19v1h-9.19zM92.34 569.84h9.19v1h-9.19zM92.34 570.54h9.19v1h-9.19zM92.34 576.12h9.19v1h-9.19zM92.34 578.92h9.19v1h-9.19zM92.34 580.31h9.19v1h-9.19z"/><path fill="#dd877d" d="M110.11 551.69h9.19v1h-9.19zM110.11 562.86h9.19v1h-9.19z"/><path fill="#e06b58" d="M56.79 552.39h9.19v1h-9.19zM56.79 558.67h9.19v1h-9.19zM56.79 561.46h9.19v1h-9.19zM56.79 566.35h9.19v1h-9.19zM56.79 571.24h9.19v1h-9.19zM56.79 574.73h9.19v1h-9.19zM56.79 581.01h9.19v1h-9.19z"/><path fill="#bd8c99" d="M65.67 552.39h9.19v1h-9.19z"/><path fill="#be8c99" d="M74.56 552.39h9.19v1h-9.19z"/><path fill="#e37764" d="M56.79 553.08h9.19v1h-9.19zM56.79 569.14h9.19v1h-9.19zM56.79 569.84h9.19v1h-9.19z"/><path fill="#8da4d1" d="M74.56 553.08h9.19v1h-9.19zM74.56 555.18h9.19v1h-9.19zM74.56 557.97h9.19v1h-9.19zM74.56 559.37h9.19v1h-9.19zM74.56 562.86h9.19v1h-9.19zM74.56 568.44h9.19v1h-9.19zM74.56 581.71h9.19v1h-9.19z"/><path fill="#e79687" d="M101.22 553.08h9.19v1h-9.19zM101.22 553.78h9.19v1h-9.19zM101.22 570.54h9.19v1h-9.19zM101.22 574.73h9.19v1h-9.19zM101.22 578.92h9.19v1h-9.19z"/><path fill="#e7a99f" d="M110.11 553.08h9.19v1h-9.19zM110.11 557.97h9.19v1h-9.19z"/><path fill="#7d9acd" d="M74.56 553.78h9.19v1h-9.19zM74.56 567.75h9.19v1h-9.19zM74.56 571.93h9.19v1h-9.19zM74.56 573.33h9.19v1h-9.19zM74.56 582.41h9.19v1h-9.19z"/><path fill="#9fafd7" d="M83.45 553.78h9.19v1h-9.19zM83.45 556.57h9.19v1h-9.19zM83.45 566.35h9.19v1h-9.19zM83.45 578.92h9.19v1h-9.19zM83.45 581.01h9.19v1h-9.19z"/><path fill="#e6a79d" d="M110.11 553.78h9.19v1h-9.19zM110.11 558.67h9.19v1h-9.19zM110.11 578.22h9.19v1h-9.19zM110.11 579.61h9.19v1h-9.19zM110.11 583.8h9.19v1h-9.19z"/><path fill="#849fcf" d="M65.67 555.18h9.19v1h-9.19zM65.67 565.65h9.19v1h-9.19zM65.67 568.44h9.19v1h-9.19zM65.67 569.14h9.19v1h-9.19zM65.67 573.33h9.19v1h-9.19zM65.67 581.71h9.19v1h-9.19z"/><path fill="#c2b4c8" d="M83.45 555.18h9.19v1h-9.19zM83.45 559.37h9.19v1h-9.19z"/><path fill="#7793c9" d="M74.56 555.88h9.19v1h-9.19zM74.56 574.73h9.19v1h-9.19z"/><path fill="#9aa9d2" d="M92.34 555.88h9.19v1h-9.19zM92.34 556.57h9.19v1h-9.19zM92.34 561.46h9.19v1h-9.19z"/><path fill="#e88a79" d="M47.9 557.27h9.19v1h-9.19z"/><path fill="#e47a68" d="M56.79 557.27h9.19v1h-9.19zM56.79 574.03h9.19v1h-9.19z"/><path fill="#ceb5c2" d="M92.34 559.37h9.19v1h-9.19z"/><path fill="#de6653" d="M56.79 560.07h9.19v1h-9.19zM56.79 562.86h9.19v1h-9.19zM56.79 573.33h9.19v1h-9.19zM56.79 576.82h9.19v1h-9.19z"/><path fill="#7996ca" d="M65.67 560.76h9.19v1h-9.19zM65.67 562.16h9.19v1h-9.19zM65.67 563.56h9.19v1h-9.19zM65.67 572.63h9.19v1h-9.19zM65.67 578.22h9.19v1h-9.19z"/><path fill="#c8b7c8" d="M92.34 560.76h9.19v1h-9.19z"/><path fill="#99aad5" d="M83.45 561.46h9.19v1h-9.19zM83.45 565.65h9.19v1h-9.19zM83.45 581.71h9.19v1h-9.19z"/><path fill="#7a96cb" d="M74.56 562.16h9.19v1h-9.19zM74.56 563.56h9.19v1h-9.19zM74.56 569.84h9.19v1h-9.19zM74.56 570.54h9.19v1h-9.19z"/><path fill="#e4a59b" d="M110.11 562.16h9.19v1h-9.19zM110.11 566.35h9.19v1h-9.19zM110.11 568.44h9.19v1h-9.19zM110.11 570.54h9.19v1h-9.19zM110.11 572.63h9.19v1h-9.19zM110.11 574.03h9.19v1h-9.19zM110.11 576.12h9.19v1h-9.19zM110.11 583.11h9.19v1h-9.19z"/><path fill="#de7467" d="M101.22 562.86h9.19v1h-9.19z"/><path fill="#dc604e" d="M56.79 564.25h9.19v1h-9.19z"/><path fill="#df786a" d="M101.22 564.95h9.19v1h-9.19z"/><path fill="#de8c82" d="M110.11 564.95h9.19v1h-9.19z"/><path fill="#7591c8" d="M74.56 567.05h9.19v1h-9.19z"/><path fill="#db5d4c" d="M56.79 568.44h9.19v1h-9.19z"/><path fill="#e6a89e" d="M110.11 569.14h9.19v1h-9.19zM110.11 575.43h9.19v1h-9.19zM110.11 580.31h9.19v1h-9.19z"/><path fill="#99acd4" d="M65.67 571.24h9.19v1h-9.19zM65.67 578.92h9.19v1h-9.19zM65.67 583.11h9.19v1h-9.19z"/><path fill="#c8b2c2" d="M83.45 574.03h9.19v1h-9.19zM83.45 576.82h9.19v1h-9.19z"/><path fill="#7490c7" d="M65.67 574.73h9.19v1h-9.19z"/><path fill="#a0b0d5" d="M65.67 575.43h9.19v1h-9.19z"/><path fill="#a1b1d6" d="M74.56 575.43h9.19v1h-9.19z"/><path fill="#de6856" d="M47.9 576.82h9.19v1h-9.19z"/><path fill="#d3b3bd" d="M92.34 576.82h9.19v1h-9.19z"/><path fill="#e09187" d="M110.11 576.82h9.19v1h-9.19zM110.11 581.71h9.19v1h-9.19z"/><path fill="#e47d6b" d="M56.79 579.61h9.19v1h-9.19z"/><path fill="#a7b4d7" d="M65.67 580.31h9.19v1h-9.19z"/><path fill="#a8b5d8" d="M74.56 580.31h9.19v1h-9.19zM74.56 581.01h9.19v1h-9.19z"/><path fill="#bcb5cd" d="M83.45 582.41h9.19v1h-9.19zM83.45 583.11h9.19v1h-9.19zM83.45 583.8h9.19v1h-9.19z"/><path fill="#e58b7c" d="M124.4 546.8h9.12v1h-9.12zM124.4 547.5h9.12v1h-9.12zM124.4 556.57h9.12v1h-9.12zM124.4 567.05h9.12v1h-9.12zM124.4 571.24h9.12v1h-9.12zM124.4 577.52h9.12v1h-9.12zM124.4 584.5h9.12v1h-9.12z"/><path fill="#e5826f" d="M133.22 546.8h9.12v1h-9.12zM133.22 548.89h9.12v1h-9.12zM133.22 558.67h9.12v1h-9.12zM133.22 567.05h9.12v1h-9.12zM133.22 579.61h9.12v1h-9.12z"/><path fill="#8da4d1" d="M142.05 546.8h9.12v1h-9.12zM142.05 552.39h9.12v1h-9.12zM142.05 560.76h9.12v1h-9.12zM142.05 561.46h9.12v1h-9.12zM142.05 567.05h9.12v1h-9.12zM142.05 574.73h9.12v1h-9.12zM142.05 578.22h9.12v1h-9.12zM142.05 582.41h9.12v1h-9.12z"/><path fill="#879fd0" d="M150.88 546.8h9.12v1h-9.12zM150.88 554.48h9.12v1h-9.12zM150.88 561.46h9.12v1h-9.12zM150.88 569.14h9.12v1h-9.12zM150.88 582.41h9.12v1h-9.12z"/><path fill="#c5b0c2" d="M159.7 546.8h9.12v1h-9.12zM159.7 555.88h9.12v1h-9.12zM159.7 557.27h9.12v1h-9.12z"/><path fill="#e58475" d="M177.35 546.8h9.12v1h-9.12zM177.35 547.5h9.12v1h-9.12zM177.35 548.2h9.12v1h-9.12zM177.35 555.18h9.12v1h-9.12zM177.35 562.16h9.12v1h-9.12zM177.35 570.54h9.12v1h-9.12zM177.35 581.71h9.12v1h-9.12zM177.35 584.5h9.12v1h-9.12z"/><path fill="#e2998f" d="M186.18 546.8h9.12v1h-9.12zM186.18 547.5h9.12v1h-9.12zM186.18 548.2h9.12v1h-9.12zM186.18 548.89h9.12v1h-9.12zM186.18 555.18h9.12v1h-9.12zM186.18 562.86h9.12v1h-9.12zM186.18 570.54h9.12v1h-9.12zM186.18 572.63h9.12v1h-9.12zM186.18 576.82h9.12v1h-9.12zM186.18 581.71h9.12v1h-9.12zM186.18 584.5h9.12v1h-9.12z"/><path fill="#e57f6c" d="M133.22 547.5h9.12v1h-9.12zM133.22 556.57h9.12v1h-9.12zM133.22 557.97h9.12v1h-9.12zM133.22 565.65h9.12v1h-9.12zM133.22 568.44h9.12v1h-9.12zM133.22 571.24h9.12v1h-9.12zM133.22 572.63h9.12v1h-9.12zM133.22 581.71h9.12v1h-9.12zM133.22 584.5h9.12v1h-9.12z"/><path fill="#87a0d0" d="M142.05 547.5h9.12v1h-9.12zM142.05 555.88h9.12v1h-9.12zM142.05 557.27h9.12v1h-9.12zM142.05 558.67h9.12v1h-9.12zM142.05 562.16h9.12v1h-9.12zM142.05 563.56h9.12v1h-9.12zM142.05 566.35h9.12v1h-9.12zM142.05 575.43h9.12v1h-9.12zM142.05 581.71h9.12v1h-9.12z"/><path fill="#7f9bcf" d="M150.88 547.5h9.12v1h-9.12zM150.88 553.78h9.12v1h-9.12zM150.88 555.88h9.12v1h-9.12zM150.88 560.76h9.12v1h-9.12zM150.88 563.56h9.12v1h-9.12zM150.88 564.25h9.12v1h-9.12zM150.88 567.05h9.12v1h-9.12zM150.88 578.22h9.12v1h-9.12zM150.88 578.92h9.12v1h-9.12zM150.88 579.61h9.12v1h-9.12zM150.88 581.71h9.12v1h-9.12z"/><path fill="#a3abd0" d="M159.7 547.5h9.12v1h-9.12zM159.7 553.78h9.12v1h-9.12zM159.7 560.07h9.12v1h-9.12zM159.7 561.46h9.12v1h-9.12zM159.7 564.25h9.12v1h-9.12zM159.7 578.92h9.12v1h-9.12z"/><path fill="#e38374" d="M124.4 548.2h9.12v1h-9.12zM124.4 549.59h9.12v1h-9.12zM124.4 551.69h9.12v1h-9.12zM124.4 552.39h9.12v1h-9.12zM124.4 554.48h9.12v1h-9.12zM124.4 557.97h9.12v1h-9.12zM124.4 560.07h9.12v1h-9.12zM124.4 563.56h9.12v1h-9.12zM124.4 564.25h9.12v1h-9.12zM124.4 569.14h9.12v1h-9.12zM124.4 573.33h9.12v1h-9.12zM124.4 574.03h9.12v1h-9.12zM124.4 581.01h9.12v1h-9.12zM124.4 583.11h9.12v1h-9.12z"/><path fill="#e47d69" d="M133.22 548.2h9.12v1h-9.12zM133.22 552.39h9.12v1h-9.12zM133.22 557.27h9.12v1h-9.12zM133.22 561.46h9.12v1h-9.12zM133.22 564.25h9.12v1h-9.12zM133.22 575.43h9.12v1h-9.12zM133.22 577.52h9.12v1h-9.12zM133.22 578.92h9.12v1h-9.12zM133.22 581.01h9.12v1h-9.12z"/><path fill="#859ecf" d="M142.05 548.2h9.12v1h-9.12zM142.05 550.29h9.12v1h-9.12zM142.05 560.07h9.12v1h-9.12zM142.05 573.33h9.12v1h-9.12zM142.05 574.03h9.12v1h-9.12zM142.05 576.82h9.12v1h-9.12zM142.05 579.61h9.12v1h-9.12zM142.05 580.31h9.12v1h-9.12z"/><path fill="#7795cc" d="M150.88 548.2h9.12v1h-9.12zM150.88 551.69h9.12v1h-9.12zM150.88 557.27h9.12v1h-9.12zM150.88 558.67h9.12v1h-9.12zM150.88 562.16h9.12v1h-9.12zM150.88 562.86h9.12v1h-9.12zM150.88 569.84h9.12v1h-9.12zM150.88 576.82h9.12v1h-9.12zM150.88 580.31h9.12v1h-9.12z"/><path fill="#a9b0d2" d="M159.7 548.2h9.12v1h-9.12zM159.7 552.39h9.12v1h-9.12zM159.7 560.76h9.12v1h-9.12zM159.7 566.35h9.12v1h-9.12zM159.7 571.24h9.12v1h-9.12z"/><path fill="#e68d7f" d="M124.4 548.89h9.12v1h-9.12zM124.4 569.84h9.12v1h-9.12zM124.4 571.93h9.12v1h-9.12z"/><path fill="#a6b3d7" d="M142.05 548.89h9.12v1h-9.12z"/><path fill="#abb6d9" d="M150.88 548.89h9.12v1h-9.12z"/><path fill="#afb4d4" d="M159.7 548.89h9.12v1h-9.12zM159.7 551.69h9.12v1h-9.12zM159.7 558.67h9.12v1h-9.12zM159.7 559.37h9.12v1h-9.12zM159.7 564.95h9.12v1h-9.12zM159.7 571.93h9.12v1h-9.12zM159.7 574.73h9.12v1h-9.12zM159.7 575.43h9.12v1h-9.12zM159.7 578.22h9.12v1h-9.12zM159.7 582.41h9.12v1h-9.12z"/><path fill="#e6897a" d="M177.35 548.89h9.12v1h-9.12zM177.35 564.95h9.12v1h-9.12zM177.35 572.63h9.12v1h-9.12zM177.35 574.73h9.12v1h-9.12zM177.35 576.82h9.12v1h-9.12zM177.35 577.52h9.12v1h-9.12z"/><path fill="#e37a66" d="M133.22 549.59h9.12v1h-9.12zM133.22 551.69h9.12v1h-9.12zM133.22 555.88h9.12v1h-9.12zM133.22 560.07h9.12v1h-9.12zM133.22 562.16h9.12v1h-9.12zM133.22 569.14h9.12v1h-9.12zM133.22 582.41h9.12v1h-9.12z"/><path fill="#7e97cb" d="M142.05 549.59h9.12v1h-9.12z"/><path fill="#7592ca" d="M150.88 549.59h9.12v1h-9.12zM150.88 571.24h9.12v1h-9.12zM150.88 576.12h9.12v1h-9.12z"/><path fill="#909ecb" d="M159.7 549.59h9.12v1h-9.12z"/><path fill="#e17769" d="M177.35 549.59h9.12v1h-9.12zM177.35 552.39h9.12v1h-9.12zM177.35 556.57h9.12v1h-9.12zM177.35 560.07h9.12v1h-9.12zM177.35 564.25h9.12v1h-9.12zM177.35 583.8h9.12v1h-9.12z"/><path fill="#e09288" d="M186.18 549.59h9.12v1h-9.12zM186.18 554.48h9.12v1h-9.12zM186.18 573.33h9.12v1h-9.12z"/><path fill="#e79385" d="M124.4 550.29h9.12v1h-9.12z"/><path fill="#e78977" d="M133.22 550.29h9.12v1h-9.12zM133.22 562.86h9.12v1h-9.12zM133.22 570.54h9.12v1h-9.12zM133.22 571.93h9.12v1h-9.12z"/><path fill="#7693cb" d="M150.88 550.29h9.12v1h-9.12zM150.88 557.97h9.12v1h-9.12zM150.88 560.07h9.12v1h-9.12zM150.88 573.33h9.12v1h-9.12zM150.88 574.03h9.12v1h-9.12zM150.88 583.8h9.12v1h-9.12z"/><path fill="#b5b3d0" d="M159.7 550.29h9.12v1h-9.12zM159.7 567.05h9.12v1h-9.12zM159.7 568.44h9.12v1h-9.12zM159.7 569.14h9.12v1h-9.12zM159.7 573.33h9.12v1h-9.12zM159.7 581.01h9.12v1h-9.12z"/><path fill="#e58678" d="M177.35 550.29h9.12v1h-9.12zM177.35 562.86h9.12v1h-9.12zM177.35 569.84h9.12v1h-9.12zM177.35 571.93h9.12v1h-9.12zM177.35 574.03h9.12v1h-9.12zM177.35 578.92h9.12v1h-9.12zM177.35 582.41h9.12v1h-9.12z"/><path fill="#e2978d" d="M186.18 550.29h9.12v1h-9.12zM186.18 550.99h9.12v1h-9.12zM186.18 562.16h9.12v1h-9.12zM186.18 566.35h9.12v1h-9.12zM186.18 567.75h9.12v1h-9.12zM186.18 578.92h9.12v1h-9.12zM186.18 582.41h9.12v1h-9.12z"/><path fill="#e68f81" d="M124.4 550.99h9.12v1h-9.12zM124.4 562.86h9.12v1h-9.12zM124.4 566.35h9.12v1h-9.12zM124.4 578.22h9.12v1h-9.12z"/><path fill="#e68471" d="M133.22 550.99h9.12v1h-9.12zM133.22 566.35h9.12v1h-9.12zM133.22 569.84h9.12v1h-9.12zM133.22 574.73h9.12v1h-9.12z"/><path fill="#94a8d3" d="M142.05 550.99h9.12v1h-9.12zM142.05 556.57h9.12v1h-9.12zM142.05 559.37h9.12v1h-9.12zM142.05 562.86h9.12v1h-9.12zM142.05 564.25h9.12v1h-9.12zM142.05 564.95h9.12v1h-9.12zM142.05 570.54h9.12v1h-9.12zM142.05 572.63h9.12v1h-9.12zM142.05 583.11h9.12v1h-9.12z"/><path fill="#8ea4d2" d="M150.88 550.99h9.12v1h-9.12zM150.88 552.39h9.12v1h-9.12zM150.88 556.57h9.12v1h-9.12zM150.88 559.37h9.12v1h-9.12zM150.88 565.65h9.12v1h-9.12zM150.88 570.54h9.12v1h-9.12zM150.88 572.63h9.12v1h-9.12z"/><path fill="#c0b1c7" d="M159.7 550.99h9.12v1h-9.12zM159.7 556.57h9.12v1h-9.12zM159.7 562.16h9.12v1h-9.12zM159.7 562.86h9.12v1h-9.12zM159.7 565.65h9.12v1h-9.12zM159.7 567.75h9.12v1h-9.12zM159.7 574.03h9.12v1h-9.12zM159.7 576.12h9.12v1h-9.12z"/><path fill="#e37e70" d="M177.35 550.99h9.12v1h-9.12zM177.35 553.08h9.12v1h-9.12zM177.35 565.65h9.12v1h-9.12zM177.35 569.14h9.12v1h-9.12zM177.35 571.24h9.12v1h-9.12zM177.35 575.43h9.12v1h-9.12zM177.35 580.31h9.12v1h-9.12z"/><path fill="#819acd" d="M142.05 551.69h9.12v1h-9.12z"/><path fill="#e48273" d="M177.35 551.69h9.12v1h-9.12zM177.35 553.78h9.12v1h-9.12zM177.35 554.48h9.12v1h-9.12zM177.35 555.88h9.12v1h-9.12zM177.35 557.97h9.12v1h-9.12zM177.35 558.67h9.12v1h-9.12zM177.35 566.35h9.12v1h-9.12zM177.35 578.22h9.12v1h-9.12z"/><path fill="#dd847b" d="M186.18 551.69h9.12v1h-9.12zM186.18 564.25h9.12v1h-9.12zM186.18 568.44h9.12v1h-9.12z"/><path fill="#df8d83" d="M186.18 552.39h9.12v1h-9.12zM186.18 555.88h9.12v1h-9.12zM186.18 556.57h9.12v1h-9.12zM186.18 557.97h9.12v1h-9.12zM186.18 560.76h9.12v1h-9.12zM186.18 563.56h9.12v1h-9.12zM186.18 565.65h9.12v1h-9.12zM186.18 567.05h9.12v1h-9.12zM186.18 569.14h9.12v1h-9.12zM186.18 579.61h9.12v1h-9.12zM186.18 580.31h9.12v1h-9.12zM186.18 581.01h9.12v1h-9.12zM186.18 583.8h9.12v1h-9.12z"/><path fill="#e17c6d" d="M124.4 553.08h9.12v1h-9.12zM124.4 555.18h9.12v1h-9.12z"/><path fill="#e06f5d" d="M133.22 553.08h9.12v1h-9.12zM133.22 560.76h9.12v1h-9.12z"/><path fill="#c18e9a" d="M142.05 553.08h9.12v1h-9.12zM142.05 567.75h9.12v1h-9.12zM142.05 571.93h9.12v1h-9.12zM142.05 577.52h9.12v1h-9.12z"/><path fill="#bb8a99" d="M150.88 553.08h9.12v1h-9.12zM150.88 567.75h9.12v1h-9.12zM150.88 571.93h9.12v1h-9.12zM150.88 577.52h9.12v1h-9.12z"/><path fill="#96a2cd" d="M159.7 553.08h9.12v1h-9.12z"/><path fill="#e1968c" d="M186.18 553.08h9.12v1h-9.12zM186.18 558.67h9.12v1h-9.12zM186.18 575.43h9.12v1h-9.12zM186.18 578.22h9.12v1h-9.12zM186.18 583.11h9.12v1h-9.12z"/><path fill="#e0786a" d="M124.4 553.78h9.12v1h-9.12zM124.4 560.76h9.12v1h-9.12zM124.4 576.82h9.12v1h-9.12z"/><path fill="#e17360" d="M133.22 553.78h9.12v1h-9.12zM133.22 555.18h9.12v1h-9.12zM133.22 559.37h9.12v1h-9.12zM133.22 563.56h9.12v1h-9.12zM133.22 567.75h9.12v1h-9.12zM133.22 574.03h9.12v1h-9.12zM133.22 576.12h9.12v1h-9.12z"/><path fill="#839cce" d="M142.05 553.78h9.12v1h-9.12zM142.05 557.97h9.12v1h-9.12zM142.05 569.84h9.12v1h-9.12zM142.05 571.24h9.12v1h-9.12zM142.05 576.12h9.12v1h-9.12zM142.05 583.8h9.12v1h-9.12z"/><path fill="#e39a90" d="M186.18 553.78h9.12v1h-9.12zM186.18 559.37h9.12v1h-9.12zM186.18 574.73h9.12v1h-9.12zM186.18 576.12h9.12v1h-9.12z"/><path fill="#e27663" d="M133.22 554.48h9.12v1h-9.12zM133.22 573.33h9.12v1h-9.12zM133.22 576.82h9.12v1h-9.12zM133.22 580.31h9.12v1h-9.12zM133.22 583.11h9.12v1h-9.12z"/><path fill="#9aacd4" d="M142.05 554.48h9.12v1h-9.12zM142.05 555.18h9.12v1h-9.12zM142.05 565.65h9.12v1h-9.12zM142.05 569.14h9.12v1h-9.12zM142.05 578.92h9.12v1h-9.12zM142.05 584.5h9.12v1h-9.12z"/><path fill="#9da7cf" d="M159.7 554.48h9.12v1h-9.12zM159.7 557.97h9.12v1h-9.12zM159.7 569.84h9.12v1h-9.12zM159.7 579.61h9.12v1h-9.12zM159.7 580.31h9.12v1h-9.12zM159.7 581.71h9.12v1h-9.12zM159.7 583.11h9.12v1h-9.12zM159.7 584.5h9.12v1h-9.12z"/><path fill="#95a8d4" d="M150.88 555.18h9.12v1h-9.12zM150.88 568.44h9.12v1h-9.12zM150.88 584.5h9.12v1h-9.12z"/><path fill="#d1969c" d="M159.7 555.18h9.12v1h-9.12zM159.7 563.56h9.12v1h-9.12zM159.7 583.8h9.12v1h-9.12z"/><path fill="#cf949b" d="M168.53 555.18h9.12v1h-9.12zM168.53 563.56h9.12v1h-9.12zM168.53 583.8h9.12v1h-9.12z"/><path fill="#e48778" d="M124.4 555.88h9.12v1h-9.12zM124.4 557.27h9.12v1h-9.12zM124.4 561.46h9.12v1h-9.12zM124.4 565.65h9.12v1h-9.12zM124.4 568.44h9.12v1h-9.12zM124.4 575.43h9.12v1h-9.12zM124.4 578.92h9.12v1h-9.12z"/><path fill="#de7062" d="M177.35 557.27h9.12v1h-9.12z"/><path fill="#db7c72" d="M186.18 557.27h9.12v1h-9.12z"/><path fill="#e79183" d="M124.4 558.67h9.12v1h-9.12zM124.4 564.95h9.12v1h-9.12zM124.4 570.54h9.12v1h-9.12zM124.4 574.73h9.12v1h-9.12z"/><path fill="#e27f71" d="M124.4 559.37h9.12v1h-9.12zM124.4 567.75h9.12v1h-9.12zM124.4 576.12h9.12v1h-9.12zM124.4 580.31h9.12v1h-9.12zM124.4 582.41h9.12v1h-9.12z"/><path fill="#e68b7d" d="M177.35 559.37h9.12v1h-9.12zM177.35 561.46h9.12v1h-9.12zM177.35 576.12h9.12v1h-9.12z"/><path fill="#de897f" d="M186.18 560.07h9.12v1h-9.12zM186.18 571.24h9.12v1h-9.12z"/><path fill="#e27b6c" d="M177.35 560.76h9.12v1h-9.12zM177.35 563.56h9.12v1h-9.12zM177.35 567.05h9.12v1h-9.12zM177.35 567.75h9.12v1h-9.12zM177.35 573.33h9.12v1h-9.12zM177.35 579.61h9.12v1h-9.12zM177.35 581.01h9.12v1h-9.12zM177.35 583.11h9.12v1h-9.12z"/><path fill="#e49d93" d="M186.18 561.46h9.12v1h-9.12zM186.18 564.95h9.12v1h-9.12z"/><path fill="#e5897a" d="M124.4 562.16h9.12v1h-9.12zM124.4 572.63h9.12v1h-9.12zM124.4 579.61h9.12v1h-9.12zM124.4 581.71h9.12v1h-9.12z"/><path fill="#e68774" d="M133.22 564.95h9.12v1h-9.12zM133.22 578.22h9.12v1h-9.12z"/><path fill="#7896cd" d="M150.88 564.95h9.12v1h-9.12zM150.88 566.35h9.12v1h-9.12zM150.88 574.73h9.12v1h-9.12zM150.88 575.43h9.12v1h-9.12zM150.88 583.11h9.12v1h-9.12z"/><path fill="#a0b0d6" d="M142.05 568.44h9.12v1h-9.12z"/><path fill="#e07466" d="M177.35 568.44h9.12v1h-9.12z"/><path fill="#e49c92" d="M186.18 569.84h9.12v1h-9.12zM186.18 571.93h9.12v1h-9.12zM186.18 574.03h9.12v1h-9.12zM186.18 577.52h9.12v1h-9.12z"/><path fill="#cbb0be" d="M159.7 570.54h9.12v1h-9.12z"/><path fill="#bab2cb" d="M159.7 572.63h9.12v1h-9.12zM159.7 576.82h9.12v1h-9.12zM159.7 577.52h9.12v1h-9.12z"/><path fill="#7a93c9" d="M142.05 581.01h9.12v1h-9.12z"/><path fill="#728dc7" d="M150.88 581.01h9.12v1h-9.12z"/><path fill="#dd7063" d="M124.4 583.8h9.12v1h-9.12z"/><path fill="#de6c5a" d="M133.22 583.8h9.12v1h-9.12z"/></g>
<text x="43.5" y="453.8" font-size="10" text-anchor="end" textLength="41.1" lengthAdjust="spacingAndGlyphs">Cluster 1</text>
<text x="43.5" y="466.8" font-size="10" text-anchor="end"><tspan font-style="italic">n</tspan> = 2,172</text>
<text x="43.5" y="491.4" font-size="10" text-anchor="end" textLength="41.1" lengthAdjust="spacingAndGlyphs">Cluster 2</text>
<text x="43.5" y="503.9" font-size="10" text-anchor="end"><tspan font-style="italic">n</tspan> = 3,358</text>
<text x="43.5" y="527.9" font-size="10" text-anchor="end" textLength="41.1" lengthAdjust="spacingAndGlyphs">Cluster 3</text>
<text x="43.5" y="539.6" font-size="10" text-anchor="end"><tspan font-style="italic">n</tspan> = 1,761</text>
<text x="43.5" y="562.4" font-size="10" text-anchor="end" textLength="41.1" lengthAdjust="spacingAndGlyphs">Cluster 4</text>
<text x="43.5" y="575.3" font-size="10" text-anchor="end"><tspan font-style="italic">n</tspan> = 3,284</text>
<text x="4" y="596.5" font-size="10" textLength="43.7" lengthAdjust="spacingAndGlyphs">Replicate</text>
<text x="52.34" y="596.5" font-size="9" text-anchor="middle">1</text>
<text x="61.23" y="596.5" font-size="9" text-anchor="middle">2</text>
<text x="70.12" y="596.5" font-size="9" text-anchor="middle">1</text>
<text x="79.01" y="596.5" font-size="9" text-anchor="middle">2</text>
<text x="87.89" y="596.5" font-size="9" text-anchor="middle">1</text>
<text x="96.78" y="596.5" font-size="9" text-anchor="middle">2</text>
<text x="105.67" y="596.5" font-size="9" text-anchor="middle">1</text>
<text x="114.56" y="596.5" font-size="9" text-anchor="middle">2</text>
<line x1="49.1" y1="602.5" x2="64.47" y2="602.5" stroke="#555" stroke-width="0.8"/>
<text x="56.79" y="613.5" font-size="9" text-anchor="middle">0</text>
<line x1="66.88" y1="602.5" x2="82.25" y2="602.5" stroke="#555" stroke-width="0.8"/>
<text x="74.56" y="613.5" font-size="9" text-anchor="middle">2</text>
<line x1="84.65" y1="602.5" x2="100.02" y2="602.5" stroke="#555" stroke-width="0.8"/>
<text x="92.34" y="613.5" font-size="9" text-anchor="middle">4</text>
<line x1="102.42" y1="602.5" x2="117.8" y2="602.5" stroke="#555" stroke-width="0.8"/>
<text x="110.11" y="613.5" font-size="9" text-anchor="middle">8</text>
<text x="128.84" y="596.5" font-size="9" text-anchor="middle">1</text>
<text x="137.73" y="596.5" font-size="9" text-anchor="middle">2</text>
<text x="146.62" y="596.5" font-size="9" text-anchor="middle">1</text>
<text x="155.51" y="596.5" font-size="9" text-anchor="middle">2</text>
<text x="164.39" y="596.5" font-size="9" text-anchor="middle">1</text>
<text x="173.28" y="596.5" font-size="9" text-anchor="middle">2</text>
<text x="182.17" y="596.5" font-size="9" text-anchor="middle">1</text>
<text x="191.06" y="596.5" font-size="9" text-anchor="middle">2</text>
<line x1="125.6" y1="602.5" x2="140.97" y2="602.5" stroke="#555" stroke-width="0.8"/>
<text x="133.29" y="613.5" font-size="9" text-anchor="middle">0</text>
<line x1="143.38" y1="602.5" x2="158.75" y2="602.5" stroke="#555" stroke-width="0.8"/>
<text x="151.06" y="613.5" font-size="9" text-anchor="middle">2</text>
<line x1="161.15" y1="602.5" x2="176.52" y2="602.5" stroke="#555" stroke-width="0.8"/>
<text x="168.84" y="613.5" font-size="9" text-anchor="middle">4</text>
<line x1="178.92" y1="602.5" x2="194.3" y2="602.5" stroke="#555" stroke-width="0.8"/>
<text x="186.61" y="613.5" font-size="9" text-anchor="middle">8</text>
<text x="93.8" y="627.9" font-size="10" textLength="56.2" lengthAdjust="spacingAndGlyphs">Time (h.p.i.)</text>
<defs><linearGradient id="cb62" x1="0" y1="0" x2="0" y2="1"><stop offset="0" stop-color="#c83026"/><stop offset="0.05" stop-color="#c83026"/><stop offset="0.1" stop-color="#cf4034"/><stop offset="0.15" stop-color="#d75244"/><stop offset="0.2" stop-color="#de6556"/><stop offset="0.25" stop-color="#e57e70"/><stop offset="0.3" stop-color="#eb978a"/><stop offset="0.35" stop-color="#f1b0a5"/><stop offset="0.4" stop-color="#f3cac3"/><stop offset="0.45" stop-color="#f6e4e1"/><stop offset="0.5" stop-color="#f4f5f7"/><stop offset="0.55" stop-color="#e2e7f1"/><stop offset="0.6" stop-color="#d0d8ea"/><stop offset="0.65" stop-color="#bcc9e3"/><stop offset="0.7" stop-color="#a3b5d9"/><stop offset="0.75" stop-color="#89a1cf"/><stop offset="0.8" stop-color="#728fc6"/><stop offset="0.85" stop-color="#6282bd"/><stop offset="0.9" stop-color="#5275b4"/><stop offset="0.95" stop-color="#4368ab"/><stop offset="1" stop-color="#3e64a8"/></linearGradient></defs>
<rect x="62.2" y="639.7" width="8.7" height="45.3" fill="url(#cb62)"/>
<line x1="68.9" y1="647.6" x2="70.9" y2="647.6" stroke="#fff" stroke-width="0.8"/>
<text x="76.1" y="650" font-size="8.4">1.0</text>
<line x1="68.9" y1="654.7" x2="70.9" y2="654.7" stroke="#fff" stroke-width="0.8"/>
<text x="76.1" y="657.1" font-size="8.4">0.5</text>
<line x1="68.9" y1="661.8" x2="70.9" y2="661.8" stroke="#fff" stroke-width="0.8"/>
<text x="76.1" y="664.2" font-size="8.4">0</text>
<line x1="68.9" y1="668.9" x2="70.9" y2="668.9" stroke="#fff" stroke-width="0.8"/>
<text x="76.1" y="671.3" font-size="8.4">−0.5</text>
<line x1="68.9" y1="676" x2="70.9" y2="676" stroke="#fff" stroke-width="0.8"/>
<text x="76.1" y="678.4" font-size="8.4">−1.0</text>
<text x="58.5" y="662" font-size="9.5" text-anchor="middle" textLength="35" lengthAdjust="spacingAndGlyphs" transform="rotate(-90 58.5 662)">Z-score</text>
<defs><linearGradient id="cb138" x1="0" y1="0" x2="0" y2="1"><stop offset="0" stop-color="#c83026"/><stop offset="0.05" stop-color="#c83026"/><stop offset="0.1" stop-color="#cf3f33"/><stop offset="0.15" stop-color="#d65143"/><stop offset="0.2" stop-color="#de6353"/><stop offset="0.25" stop-color="#e47b6c"/><stop offset="0.3" stop-color="#ea9386"/><stop offset="0.35" stop-color="#f0ab9f"/><stop offset="0.4" stop-color="#f3c5bd"/><stop offset="0.45" stop-color="#f5deda"/><stop offset="0.5" stop-color="#f8f7f7"/><stop offset="0.55" stop-color="#e7ebf2"/><stop offset="0.6" stop-color="#d6ddec"/><stop offset="0.65" stop-color="#c5cfe7"/><stop offset="0.7" stop-color="#acbcdd"/><stop offset="0.75" stop-color="#93a9d3"/><stop offset="0.8" stop-color="#7a95ca"/><stop offset="0.85" stop-color="#6988c1"/><stop offset="0.9" stop-color="#5a7bb8"/><stop offset="0.95" stop-color="#4b6faf"/><stop offset="1" stop-color="#3e64a8"/></linearGradient></defs>
<rect x="138.2" y="639.7" width="9.6" height="45.3" fill="url(#cb138)"/>
<line x1="145.8" y1="640.5" x2="147.8" y2="640.5" stroke="#fff" stroke-width="0.8"/>
<text x="152.4" y="642.9" font-size="8.4">1.5</text>
<line x1="145.8" y1="647.8" x2="147.8" y2="647.8" stroke="#fff" stroke-width="0.8"/>
<text x="152.4" y="650.2" font-size="8.4">1.0</text>
<line x1="145.8" y1="655.1" x2="147.8" y2="655.1" stroke="#fff" stroke-width="0.8"/>
<text x="152.4" y="657.5" font-size="8.4">0.5</text>
<line x1="145.8" y1="662.4" x2="147.8" y2="662.4" stroke="#fff" stroke-width="0.8"/>
<text x="152.4" y="664.8" font-size="8.4">0</text>
<line x1="145.8" y1="669.7" x2="147.8" y2="669.7" stroke="#fff" stroke-width="0.8"/>
<text x="152.4" y="672.1" font-size="8.4">−0.5</text>
<line x1="145.8" y1="677" x2="147.8" y2="677" stroke="#fff" stroke-width="0.8"/>
<text x="152.4" y="679.4" font-size="8.4">−1.0</text>
<text x="134.6" y="662" font-size="9.5" text-anchor="middle" textLength="35" lengthAdjust="spacingAndGlyphs" transform="rotate(-90 134.6 662)">Z-score</text>
<text transform="translate(202.5 425.2) scale(1.17 1)" font-size="14.5" font-weight="bold" fill="#111">g</text>
<text x="248.6" y="425.3" font-size="10" fill="#22A9C4" textLength="27.6" lengthAdjust="spacingAndGlyphs">APMV</text>
<text x="254.4" y="440.8" font-size="10" textLength="40.6" lengthAdjust="spacingAndGlyphs">RNA-seq</text>
<text x="312.9" y="440.8" font-size="10" textLength="41.8" lengthAdjust="spacingAndGlyphs">Ribo-seq</text>
<g><path fill="#d53b30" d="M247.9 445h9.23v1h-9.23zM247.9 447.79h9.23v1h-9.23zM256.83 451.27h9.23v1h-9.23zM256.83 457.54h9.23v1h-9.23zM247.9 459.62h9.23v1h-9.23zM247.9 465.2h9.23v1h-9.23zM256.83 469.38h9.23v1h-9.23zM247.9 470.07h9.23v1h-9.23zM247.9 475.64h9.23v1h-9.23zM256.83 475.64h9.23v1h-9.23zM247.9 481.91h9.23v1h-9.23zM256.83 481.91h9.23v1h-9.23zM247.9 486.79h9.23v1h-9.23zM247.9 487.48h9.23v1h-9.23zM256.83 490.96h9.23v1h-9.23zM247.9 493.05h9.23v1h-9.23zM265.77 512.51h9.23v1h-9.23zM274.7 512.51h9.23v1h-9.23zM265.77 517.43h9.23v1h-9.23zM265.77 525.15h9.23v1h-9.23zM265.77 526.56h9.23v1h-9.23zM265.77 530.07h9.23v1h-9.23zM265.77 534.98h9.23v1h-9.23zM274.7 539.2h9.23v1h-9.23zM283.63 548.29h9.23v1h-9.23zM292.57 548.29h9.23v1h-9.23zM283.63 560.13h9.23v1h-9.23zM292.57 560.13h9.23v1h-9.23zM283.63 565.7h9.23v1h-9.23zM283.63 569.88h9.23v1h-9.23zM292.57 570.57h9.23v1h-9.23zM292.57 571.97h9.23v1h-9.23zM283.63 574.75h9.23v1h-9.23zM292.57 574.75h9.23v1h-9.23zM292.57 575.45h9.23v1h-9.23zM283.63 576.15h9.23v1h-9.23z"/><path fill="#d43a2e" d="M256.83 445h9.23v1h-9.23zM274.7 516.73h9.23v1h-9.23z"/><path fill="#a5b4d7" d="M265.77 445h9.23v1h-9.23zM265.77 445.7h9.23v1h-9.23zM265.77 447.79h9.23v1h-9.23zM265.77 449.18h9.23v1h-9.23zM265.77 453.36h9.23v1h-9.23zM265.77 458.93h9.23v1h-9.23zM265.77 459.62h9.23v1h-9.23zM265.77 460.32h9.23v1h-9.23zM265.77 468.68h9.23v1h-9.23zM265.77 474.95h9.23v1h-9.23zM265.77 475.64h9.23v1h-9.23zM265.77 477.73h9.23v1h-9.23zM265.77 480.52h9.23v1h-9.23zM265.77 484.7h9.23v1h-9.23zM265.77 490.27h9.23v1h-9.23zM265.77 491.66h9.23v1h-9.23zM265.77 495.14h9.23v1h-9.23zM265.77 496.54h9.23v1h-9.23zM265.77 497.93h9.23v1h-9.23zM265.77 502.8h9.23v1h-9.23z"/><path fill="#b0b8d7" d="M274.7 445h9.23v1h-9.23zM274.7 447.09h9.23v1h-9.23zM274.7 453.36h9.23v1h-9.23zM274.7 454.75h9.23v1h-9.23zM274.7 459.62h9.23v1h-9.23zM274.7 463.11h9.23v1h-9.23zM274.7 467.29h9.23v1h-9.23zM274.7 476.34h9.23v1h-9.23zM274.7 480.52h9.23v1h-9.23zM274.7 484.7h9.23v1h-9.23zM274.7 486.79h9.23v1h-9.23zM274.7 497.23h9.23v1h-9.23zM274.7 498.62h9.23v1h-9.23zM274.7 502.8h9.23v1h-9.23z"/><path fill="#7f96ca" d="M283.63 445h9.23v1h-9.23zM283.63 453.36h9.23v1h-9.23zM283.63 454.05h9.23v1h-9.23zM283.63 457.54h9.23v1h-9.23zM283.63 459.62h9.23v1h-9.23zM283.63 461.71h9.23v1h-9.23zM283.63 468.68h9.23v1h-9.23zM283.63 474.25h9.23v1h-9.23zM283.63 483.3h9.23v1h-9.23zM283.63 490.27h9.23v1h-9.23zM283.63 496.54h9.23v1h-9.23zM256.83 513.21h9.23v1h-9.23zM256.83 515.32h9.23v1h-9.23zM256.83 518.13h9.23v1h-9.23zM256.83 519.53h9.23v1h-9.23zM256.83 522.34h9.23v1h-9.23zM256.83 523.75h9.23v1h-9.23zM256.83 534.28h9.23v1h-9.23zM256.83 537.09h9.23v1h-9.23zM256.83 538.5h9.23v1h-9.23z"/><path fill="#7b91c8" d="M292.57 445h9.23v1h-9.23zM292.57 454.05h9.23v1h-9.23zM292.57 456.14h9.23v1h-9.23zM292.57 458.93h9.23v1h-9.23zM292.57 459.62h9.23v1h-9.23zM292.57 461.02h9.23v1h-9.23zM292.57 462.41h9.23v1h-9.23zM292.57 463.8h9.23v1h-9.23zM292.57 470.77h9.23v1h-9.23zM292.57 476.34h9.23v1h-9.23zM292.57 479.12h9.23v1h-9.23zM292.57 479.82h9.23v1h-9.23zM292.57 480.52h9.23v1h-9.23zM292.57 493.75h9.23v1h-9.23zM292.57 495.14h9.23v1h-9.23zM292.57 497.23h9.23v1h-9.23zM292.57 502.8h9.23v1h-9.23z"/><path fill="#d84337" d="M247.9 445.7h9.23v1h-9.23zM256.83 445.7h9.23v1h-9.23zM256.83 447.09h9.23v1h-9.23zM247.9 449.18h9.23v1h-9.23zM256.83 449.18h9.23v1h-9.23zM256.83 449.88h9.23v1h-9.23zM256.83 450.57h9.23v1h-9.23zM256.83 451.96h9.23v1h-9.23zM256.83 453.36h9.23v1h-9.23zM256.83 454.05h9.23v1h-9.23zM247.9 454.75h9.23v1h-9.23zM247.9 455.45h9.23v1h-9.23zM256.83 456.14h9.23v1h-9.23zM247.9 460.32h9.23v1h-9.23zM256.83 461.71h9.23v1h-9.23zM247.9 464.5h9.23v1h-9.23zM256.83 464.5h9.23v1h-9.23zM256.83 465.89h9.23v1h-9.23zM247.9 467.29h9.23v1h-9.23zM247.9 467.98h9.23v1h-9.23zM256.83 470.77h9.23v1h-9.23zM256.83 472.16h9.23v1h-9.23zM247.9 472.86h9.23v1h-9.23zM247.9 473.55h9.23v1h-9.23zM247.9 474.25h9.23v1h-9.23zM256.83 474.95h9.23v1h-9.23zM247.9 477.04h9.23v1h-9.23zM256.83 477.73h9.23v1h-9.23zM247.9 478.43h9.23v1h-9.23zM256.83 480.52h9.23v1h-9.23zM256.83 490.27h9.23v1h-9.23zM256.83 492.36h9.23v1h-9.23zM247.9 493.75h9.23v1h-9.23zM247.9 500.02h9.23v1h-9.23zM256.83 500.02h9.23v1h-9.23zM265.77 509h9.23v1h-9.23zM274.7 511.11h9.23v1h-9.23zM265.77 513.21h9.23v1h-9.23zM274.7 522.34h9.23v1h-9.23zM265.77 523.05h9.23v1h-9.23zM274.7 523.05h9.23v1h-9.23zM274.7 527.26h9.23v1h-9.23zM265.77 528.66h9.23v1h-9.23zM265.77 529.37h9.23v1h-9.23zM283.63 547.59h9.23v1h-9.23zM292.57 549.68h9.23v1h-9.23zM283.63 551.07h9.23v1h-9.23zM283.63 553.86h9.23v1h-9.23zM292.57 553.86h9.23v1h-9.23zM283.63 556.64h9.23v1h-9.23zM283.63 558.04h9.23v1h-9.23zM292.57 558.04h9.23v1h-9.23zM292.57 560.82h9.23v1h-9.23zM283.63 561.52h9.23v1h-9.23zM292.57 562.91h9.23v1h-9.23zM292.57 563.61h9.23v1h-9.23zM283.63 567.09h9.23v1h-9.23zM283.63 568.48h9.23v1h-9.23zM292.57 568.48h9.23v1h-9.23zM283.63 571.97h9.23v1h-9.23zM292.57 572.66h9.23v1h-9.23zM292.57 578.24h9.23v1h-9.23zM283.63 578.93h9.23v1h-9.23zM292.57 578.93h9.23v1h-9.23zM292.57 581.02h9.23v1h-9.23zM292.57 581.72h9.23v1h-9.23z"/><path fill="#9fafd7" d="M274.7 445.7h9.23v1h-9.23zM274.7 471.46h9.23v1h-9.23zM274.7 472.16h9.23v1h-9.23zM274.7 490.96h9.23v1h-9.23zM274.7 494.45h9.23v1h-9.23zM274.7 495.14h9.23v1h-9.23z"/><path fill="#95a5d0" d="M283.63 445.7h9.23v1h-9.23zM283.63 449.18h9.23v1h-9.23zM283.63 449.88h9.23v1h-9.23zM283.63 470.07h9.23v1h-9.23zM283.63 478.43h9.23v1h-9.23zM283.63 492.36h9.23v1h-9.23zM256.83 530.77h9.23v1h-9.23zM256.83 531.47h9.23v1h-9.23z"/><path fill="#9aa7d1" d="M292.57 445.7h9.23v1h-9.23zM292.57 457.54h9.23v1h-9.23zM292.57 460.32h9.23v1h-9.23z"/><path fill="#d63d31" d="M247.9 446.39h9.23v1h-9.23zM256.83 447.79h9.23v1h-9.23zM247.9 452.66h9.23v1h-9.23zM247.9 456.14h9.23v1h-9.23zM247.9 463.8h9.23v1h-9.23zM256.83 463.8h9.23v1h-9.23zM256.83 465.2h9.23v1h-9.23zM256.83 467.98h9.23v1h-9.23zM256.83 472.86h9.23v1h-9.23zM256.83 477.04h9.23v1h-9.23zM247.9 477.73h9.23v1h-9.23zM247.9 479.82h9.23v1h-9.23zM247.9 482.61h9.23v1h-9.23zM256.83 482.61h9.23v1h-9.23zM247.9 485.39h9.23v1h-9.23zM256.83 486.79h9.23v1h-9.23zM247.9 489.57h9.23v1h-9.23zM256.83 489.57h9.23v1h-9.23zM247.9 491.66h9.23v1h-9.23zM256.83 491.66h9.23v1h-9.23zM247.9 496.54h9.23v1h-9.23zM256.83 497.23h9.23v1h-9.23zM256.83 498.62h9.23v1h-9.23zM247.9 500.71h9.23v1h-9.23zM256.83 502.11h9.23v1h-9.23zM274.7 511.81h9.23v1h-9.23zM274.7 515.32h9.23v1h-9.23zM274.7 519.53h9.23v1h-9.23zM274.7 524.45h9.23v1h-9.23zM265.77 525.85h9.23v1h-9.23zM274.7 529.37h9.23v1h-9.23zM274.7 533.58h9.23v1h-9.23zM274.7 534.98h9.23v1h-9.23zM274.7 535.69h9.23v1h-9.23zM274.7 537.79h9.23v1h-9.23zM274.7 538.5h9.23v1h-9.23zM283.63 545.5h9.23v1h-9.23zM283.63 546.2h9.23v1h-9.23zM292.57 550.38h9.23v1h-9.23zM292.57 552.46h9.23v1h-9.23zM292.57 553.16h9.23v1h-9.23zM283.63 559.43h9.23v1h-9.23zM292.57 559.43h9.23v1h-9.23zM292.57 562.22h9.23v1h-9.23zM283.63 562.91h9.23v1h-9.23zM283.63 563.61h9.23v1h-9.23zM292.57 565.7h9.23v1h-9.23zM283.63 567.79h9.23v1h-9.23zM283.63 569.18h9.23v1h-9.23zM292.57 569.88h9.23v1h-9.23zM283.63 570.57h9.23v1h-9.23zM292.57 573.36h9.23v1h-9.23zM283.63 575.45h9.23v1h-9.23zM292.57 576.15h9.23v1h-9.23zM283.63 583.11h9.23v1h-9.23z"/><path fill="#d63c31" d="M256.83 446.39h9.23v1h-9.23zM256.83 452.66h9.23v1h-9.23zM247.9 453.36h9.23v1h-9.23zM247.9 454.05h9.23v1h-9.23zM247.9 457.54h9.23v1h-9.23zM247.9 458.93h9.23v1h-9.23zM256.83 458.93h9.23v1h-9.23zM247.9 471.46h9.23v1h-9.23zM256.83 471.46h9.23v1h-9.23zM256.83 474.25h9.23v1h-9.23zM256.83 479.12h9.23v1h-9.23zM247.9 490.96h9.23v1h-9.23zM247.9 497.23h9.23v1h-9.23zM274.7 510.4h9.23v1h-9.23zM274.7 514.62h9.23v1h-9.23zM274.7 525.15h9.23v1h-9.23zM274.7 525.85h9.23v1h-9.23zM274.7 526.56h9.23v1h-9.23zM274.7 531.47h9.23v1h-9.23zM274.7 532.88h9.23v1h-9.23zM265.77 539.2h9.23v1h-9.23zM292.57 545.5h9.23v1h-9.23zM292.57 546.2h9.23v1h-9.23zM292.57 546.89h9.23v1h-9.23zM283.63 552.46h9.23v1h-9.23zM292.57 555.95h9.23v1h-9.23zM292.57 558.73h9.23v1h-9.23zM283.63 562.22h9.23v1h-9.23zM283.63 573.36h9.23v1h-9.23zM292.57 576.84h9.23v1h-9.23zM292.57 583.11h9.23v1h-9.23z"/><path fill="#bac0dc" d="M265.77 446.39h9.23v1h-9.23zM265.77 489.57h9.23v1h-9.23z"/><path fill="#b6b6d2" d="M274.7 446.39h9.23v1h-9.23zM274.7 447.79h9.23v1h-9.23zM274.7 449.18h9.23v1h-9.23zM274.7 451.96h9.23v1h-9.23zM274.7 455.45h9.23v1h-9.23zM274.7 463.8h9.23v1h-9.23zM274.7 470.77h9.23v1h-9.23zM274.7 474.25h9.23v1h-9.23zM274.7 479.12h9.23v1h-9.23zM274.7 479.82h9.23v1h-9.23zM274.7 484h9.23v1h-9.23zM274.7 489.57h9.23v1h-9.23zM274.7 491.66h9.23v1h-9.23z"/><path fill="#7790c7" d="M283.63 446.39h9.23v1h-9.23zM283.63 447.09h9.23v1h-9.23zM283.63 448.48h9.23v1h-9.23zM283.63 451.27h9.23v1h-9.23zM283.63 452.66h9.23v1h-9.23zM283.63 456.14h9.23v1h-9.23zM283.63 463.11h9.23v1h-9.23zM283.63 467.98h9.23v1h-9.23zM283.63 475.64h9.23v1h-9.23zM283.63 481.91h9.23v1h-9.23zM283.63 485.39h9.23v1h-9.23zM283.63 493.05h9.23v1h-9.23zM283.63 500.02h9.23v1h-9.23zM256.83 509.7h9.23v1h-9.23zM256.83 516.73h9.23v1h-9.23zM256.83 525.85h9.23v1h-9.23zM256.83 526.56h9.23v1h-9.23zM256.83 528.66h9.23v1h-9.23zM256.83 532.17h9.23v1h-9.23zM256.83 539.2h9.23v1h-9.23z"/><path fill="#8297ca" d="M292.57 446.39h9.23v1h-9.23zM292.57 447.79h9.23v1h-9.23zM292.57 453.36h9.23v1h-9.23zM292.57 455.45h9.23v1h-9.23zM292.57 464.5h9.23v1h-9.23zM292.57 467.29h9.23v1h-9.23zM292.57 474.25h9.23v1h-9.23zM292.57 481.91h9.23v1h-9.23zM292.57 484h9.23v1h-9.23zM292.57 486.09h9.23v1h-9.23zM292.57 490.27h9.23v1h-9.23zM292.57 491.66h9.23v1h-9.23zM292.57 497.93h9.23v1h-9.23z"/><path fill="#d73e32" d="M247.9 447.09h9.23v1h-9.23zM247.9 450.57h9.23v1h-9.23zM256.83 455.45h9.23v1h-9.23zM256.83 461.02h9.23v1h-9.23zM247.9 461.71h9.23v1h-9.23zM247.9 462.41h9.23v1h-9.23zM256.83 462.41h9.23v1h-9.23zM247.9 465.89h9.23v1h-9.23zM256.83 466.59h9.23v1h-9.23zM247.9 470.77h9.23v1h-9.23zM247.9 472.16h9.23v1h-9.23zM256.83 473.55h9.23v1h-9.23zM247.9 476.34h9.23v1h-9.23zM256.83 476.34h9.23v1h-9.23zM247.9 479.12h9.23v1h-9.23zM247.9 483.3h9.23v1h-9.23zM256.83 485.39h9.23v1h-9.23zM256.83 493.75h9.23v1h-9.23zM247.9 495.84h9.23v1h-9.23zM256.83 495.84h9.23v1h-9.23zM247.9 497.93h9.23v1h-9.23zM247.9 498.62h9.23v1h-9.23zM256.83 500.71h9.23v1h-9.23zM247.9 501.41h9.23v1h-9.23zM274.7 509h9.23v1h-9.23zM265.77 510.4h9.23v1h-9.23zM265.77 511.11h9.23v1h-9.23zM265.77 511.81h9.23v1h-9.23zM265.77 514.62h9.23v1h-9.23zM265.77 515.32h9.23v1h-9.23zM265.77 516.02h9.23v1h-9.23zM274.7 516.02h9.23v1h-9.23zM265.77 519.53h9.23v1h-9.23zM265.77 520.24h9.23v1h-9.23zM274.7 520.24h9.23v1h-9.23zM265.77 524.45h9.23v1h-9.23zM274.7 528.66h9.23v1h-9.23zM274.7 530.07h9.23v1h-9.23zM265.77 531.47h9.23v1h-9.23zM274.7 532.17h9.23v1h-9.23zM265.77 533.58h9.23v1h-9.23zM265.77 535.69h9.23v1h-9.23zM265.77 537.09h9.23v1h-9.23zM274.7 537.09h9.23v1h-9.23zM265.77 538.5h9.23v1h-9.23zM283.63 546.89h9.23v1h-9.23zM292.57 547.59h9.23v1h-9.23zM283.63 550.38h9.23v1h-9.23zM283.63 551.77h9.23v1h-9.23zM283.63 553.16h9.23v1h-9.23zM283.63 554.55h9.23v1h-9.23zM292.57 554.55h9.23v1h-9.23zM283.63 555.95h9.23v1h-9.23zM292.57 556.64h9.23v1h-9.23zM292.57 567.09h9.23v1h-9.23zM292.57 567.79h9.23v1h-9.23zM292.57 569.18h9.23v1h-9.23zM283.63 571.27h9.23v1h-9.23zM292.57 571.27h9.23v1h-9.23zM283.63 572.66h9.23v1h-9.23zM283.63 577.54h9.23v1h-9.23zM292.57 577.54h9.23v1h-9.23zM283.63 580.32h9.23v1h-9.23zM292.57 580.32h9.23v1h-9.23zM283.63 584.5h9.23v1h-9.23zM292.57 584.5h9.23v1h-9.23z"/><path fill="#a9b6d8" d="M265.77 447.09h9.23v1h-9.23zM265.77 454.75h9.23v1h-9.23zM265.77 456.84h9.23v1h-9.23zM265.77 457.54h9.23v1h-9.23zM265.77 462.41h9.23v1h-9.23zM265.77 467.29h9.23v1h-9.23zM265.77 467.98h9.23v1h-9.23zM265.77 472.16h9.23v1h-9.23zM265.77 478.43h9.23v1h-9.23zM265.77 479.12h9.23v1h-9.23zM265.77 479.82h9.23v1h-9.23zM265.77 485.39h9.23v1h-9.23zM265.77 486.79h9.23v1h-9.23zM265.77 488.88h9.23v1h-9.23zM265.77 497.23h9.23v1h-9.23z"/><path fill="#728bc5" d="M292.57 447.09h9.23v1h-9.23zM292.57 456.84h9.23v1h-9.23zM292.57 463.11h9.23v1h-9.23zM292.57 477.73h9.23v1h-9.23zM292.57 481.21h9.23v1h-9.23zM292.57 488.88h9.23v1h-9.23zM292.57 500.02h9.23v1h-9.23zM292.57 502.11h9.23v1h-9.23z"/><path fill="#879bcc" d="M283.63 447.79h9.23v1h-9.23zM283.63 455.45h9.23v1h-9.23zM283.63 458.23h9.23v1h-9.23zM283.63 460.32h9.23v1h-9.23zM283.63 461.02h9.23v1h-9.23zM283.63 462.41h9.23v1h-9.23zM283.63 463.8h9.23v1h-9.23zM283.63 467.29h9.23v1h-9.23zM283.63 470.77h9.23v1h-9.23zM283.63 476.34h9.23v1h-9.23zM283.63 486.09h9.23v1h-9.23zM283.63 495.14h9.23v1h-9.23zM283.63 497.93h9.23v1h-9.23zM283.63 502.8h9.23v1h-9.23zM256.83 511.11h9.23v1h-9.23zM256.83 514.62h9.23v1h-9.23zM256.83 516.02h9.23v1h-9.23zM256.83 523.05h9.23v1h-9.23zM256.83 524.45h9.23v1h-9.23zM256.83 537.79h9.23v1h-9.23z"/><path fill="#da4d41" d="M247.9 448.48h9.23v1h-9.23zM247.9 458.23h9.23v1h-9.23zM256.83 460.32h9.23v1h-9.23zM247.9 468.68h9.23v1h-9.23zM247.9 484h9.23v1h-9.23zM256.83 495.14h9.23v1h-9.23zM247.9 499.32h9.23v1h-9.23zM256.83 501.41h9.23v1h-9.23zM256.83 502.8h9.23v1h-9.23zM265.77 509.7h9.23v1h-9.23zM265.77 513.92h9.23v1h-9.23zM274.7 513.92h9.23v1h-9.23zM265.77 521.64h9.23v1h-9.23zM265.77 522.34h9.23v1h-9.23zM265.77 527.96h9.23v1h-9.23zM274.7 527.96h9.23v1h-9.23zM274.7 530.77h9.23v1h-9.23zM265.77 532.17h9.23v1h-9.23zM265.77 534.28h9.23v1h-9.23zM283.63 549.68h9.23v1h-9.23zM292.57 551.07h9.23v1h-9.23zM283.63 555.25h9.23v1h-9.23zM283.63 557.34h9.23v1h-9.23zM283.63 566.39h9.23v1h-9.23zM283.63 574.06h9.23v1h-9.23zM292.57 574.06h9.23v1h-9.23zM283.63 579.63h9.23v1h-9.23zM292.57 582.41h9.23v1h-9.23zM283.63 583.81h9.23v1h-9.23z"/><path fill="#d9483c" d="M256.83 448.48h9.23v1h-9.23zM247.9 451.96h9.23v1h-9.23zM256.83 454.75h9.23v1h-9.23zM247.9 461.02h9.23v1h-9.23zM247.9 463.11h9.23v1h-9.23zM256.83 463.11h9.23v1h-9.23zM247.9 466.59h9.23v1h-9.23zM256.83 467.29h9.23v1h-9.23zM247.9 474.95h9.23v1h-9.23zM256.83 478.43h9.23v1h-9.23zM256.83 479.82h9.23v1h-9.23zM247.9 480.52h9.23v1h-9.23zM247.9 481.21h9.23v1h-9.23zM256.83 481.21h9.23v1h-9.23zM256.83 484h9.23v1h-9.23zM247.9 484.7h9.23v1h-9.23zM247.9 488.18h9.23v1h-9.23zM256.83 488.18h9.23v1h-9.23zM247.9 488.88h9.23v1h-9.23zM256.83 488.88h9.23v1h-9.23zM247.9 490.27h9.23v1h-9.23zM247.9 492.36h9.23v1h-9.23zM256.83 493.05h9.23v1h-9.23zM247.9 494.45h9.23v1h-9.23zM256.83 494.45h9.23v1h-9.23zM247.9 495.14h9.23v1h-9.23zM256.83 497.93h9.23v1h-9.23zM247.9 502.11h9.23v1h-9.23zM247.9 502.8h9.23v1h-9.23zM274.7 509.7h9.23v1h-9.23zM274.7 513.21h9.23v1h-9.23zM274.7 518.83h9.23v1h-9.23zM274.7 521.64h9.23v1h-9.23zM265.77 527.26h9.23v1h-9.23zM265.77 532.88h9.23v1h-9.23zM265.77 536.39h9.23v1h-9.23zM265.77 537.79h9.23v1h-9.23zM292.57 551.77h9.23v1h-9.23zM292.57 557.34h9.23v1h-9.23zM283.63 560.82h9.23v1h-9.23zM292.57 561.52h9.23v1h-9.23zM283.63 576.84h9.23v1h-9.23zM283.63 578.24h9.23v1h-9.23zM292.57 579.63h9.23v1h-9.23zM283.63 581.72h9.23v1h-9.23zM283.63 582.41h9.23v1h-9.23z"/><path fill="#9cadd4" d="M265.77 448.48h9.23v1h-9.23zM265.77 449.88h9.23v1h-9.23zM265.77 450.57h9.23v1h-9.23zM265.77 452.66h9.23v1h-9.23zM265.77 461.71h9.23v1h-9.23zM265.77 464.5h9.23v1h-9.23zM265.77 469.38h9.23v1h-9.23zM265.77 470.07h9.23v1h-9.23zM265.77 481.21h9.23v1h-9.23zM265.77 494.45h9.23v1h-9.23z"/><path fill="#99aad5" d="M274.7 448.48h9.23v1h-9.23zM274.7 457.54h9.23v1h-9.23zM274.7 464.5h9.23v1h-9.23zM274.7 469.38h9.23v1h-9.23zM274.7 473.55h9.23v1h-9.23zM274.7 488.18h9.23v1h-9.23zM274.7 493.05h9.23v1h-9.23zM274.7 500.02h9.23v1h-9.23z"/><path fill="#738cc6" d="M292.57 448.48h9.23v1h-9.23zM292.57 450.57h9.23v1h-9.23zM292.57 452.66h9.23v1h-9.23zM292.57 461.71h9.23v1h-9.23zM292.57 467.98h9.23v1h-9.23zM292.57 470.07h9.23v1h-9.23zM292.57 471.46h9.23v1h-9.23zM292.57 493.05h9.23v1h-9.23zM292.57 494.45h9.23v1h-9.23zM292.57 501.41h9.23v1h-9.23z"/><path fill="#a1acd3" d="M292.57 449.18h9.23v1h-9.23z"/><path fill="#db5246" d="M247.9 449.88h9.23v1h-9.23zM256.83 458.23h9.23v1h-9.23zM256.83 468.68h9.23v1h-9.23zM256.83 484.7h9.23v1h-9.23zM247.9 486.09h9.23v1h-9.23zM256.83 499.32h9.23v1h-9.23zM265.77 518.83h9.23v1h-9.23zM274.7 534.28h9.23v1h-9.23zM274.7 536.39h9.23v1h-9.23zM292.57 555.25h9.23v1h-9.23zM292.57 564.31h9.23v1h-9.23zM292.57 566.39h9.23v1h-9.23zM283.63 581.02h9.23v1h-9.23zM292.57 583.81h9.23v1h-9.23z"/><path fill="#aab9dc" d="M274.7 449.88h9.23v1h-9.23zM274.7 451.27h9.23v1h-9.23zM274.7 452.66h9.23v1h-9.23zM274.7 456.84h9.23v1h-9.23zM274.7 461.02h9.23v1h-9.23zM274.7 467.98h9.23v1h-9.23zM274.7 468.68h9.23v1h-9.23zM274.7 470.07h9.23v1h-9.23zM274.7 474.95h9.23v1h-9.23zM274.7 475.64h9.23v1h-9.23zM274.7 477.73h9.23v1h-9.23zM274.7 488.88h9.23v1h-9.23zM274.7 490.27h9.23v1h-9.23zM274.7 492.36h9.23v1h-9.23zM274.7 496.54h9.23v1h-9.23zM274.7 497.93h9.23v1h-9.23zM274.7 502.11h9.23v1h-9.23z"/><path fill="#8a9ccc" d="M292.57 449.88h9.23v1h-9.23zM292.57 458.23h9.23v1h-9.23zM292.57 465.2h9.23v1h-9.23zM292.57 478.43h9.23v1h-9.23zM292.57 492.36h9.23v1h-9.23z"/><path fill="#8da1d0" d="M274.7 450.57h9.23v1h-9.23zM274.7 483.3h9.23v1h-9.23z"/><path fill="#7891c8" d="M283.63 450.57h9.23v1h-9.23zM283.63 451.96h9.23v1h-9.23zM283.63 456.84h9.23v1h-9.23zM283.63 458.93h9.23v1h-9.23zM283.63 479.82h9.23v1h-9.23zM283.63 494.45h9.23v1h-9.23zM283.63 497.23h9.23v1h-9.23zM256.83 527.26h9.23v1h-9.23zM256.83 527.96h9.23v1h-9.23zM256.83 533.58h9.23v1h-9.23zM256.83 535.69h9.23v1h-9.23z"/><path fill="#d53a2f" d="M247.9 451.27h9.23v1h-9.23zM256.83 459.62h9.23v1h-9.23zM247.9 469.38h9.23v1h-9.23zM256.83 470.07h9.23v1h-9.23zM256.83 483.3h9.23v1h-9.23zM256.83 487.48h9.23v1h-9.23zM256.83 496.54h9.23v1h-9.23zM274.7 517.43h9.23v1h-9.23zM265.77 518.13h9.23v1h-9.23zM274.7 518.13h9.23v1h-9.23zM265.77 523.75h9.23v1h-9.23zM274.7 523.75h9.23v1h-9.23zM283.63 558.73h9.23v1h-9.23zM283.63 565h9.23v1h-9.23zM292.57 565h9.23v1h-9.23z"/><path fill="#b1bbda" d="M265.77 451.27h9.23v1h-9.23zM265.77 451.96h9.23v1h-9.23zM265.77 455.45h9.23v1h-9.23zM265.77 458.23h9.23v1h-9.23zM265.77 466.59h9.23v1h-9.23zM265.77 500.71h9.23v1h-9.23z"/><path fill="#718ac5" d="M292.57 451.27h9.23v1h-9.23zM292.57 454.75h9.23v1h-9.23zM292.57 482.61h9.23v1h-9.23zM292.57 488.18h9.23v1h-9.23zM292.57 490.96h9.23v1h-9.23zM292.57 498.62h9.23v1h-9.23z"/><path fill="#728bc6" d="M292.57 451.96h9.23v1h-9.23zM292.57 468.68h9.23v1h-9.23zM292.57 472.16h9.23v1h-9.23zM292.57 474.95h9.23v1h-9.23zM292.57 475.64h9.23v1h-9.23zM292.57 483.3h9.23v1h-9.23zM292.57 484.7h9.23v1h-9.23zM292.57 485.39h9.23v1h-9.23zM292.57 495.84h9.23v1h-9.23zM292.57 496.54h9.23v1h-9.23z"/><path fill="#a1b0d5" d="M265.77 454.05h9.23v1h-9.23zM265.77 456.14h9.23v1h-9.23zM265.77 461.02h9.23v1h-9.23zM265.77 476.34h9.23v1h-9.23zM265.77 477.04h9.23v1h-9.23zM265.77 482.61h9.23v1h-9.23zM265.77 488.18h9.23v1h-9.23zM265.77 492.36h9.23v1h-9.23zM265.77 493.75h9.23v1h-9.23zM265.77 498.62h9.23v1h-9.23z"/><path fill="#a4b4da" d="M274.7 454.05h9.23v1h-9.23zM274.7 456.14h9.23v1h-9.23zM274.7 458.93h9.23v1h-9.23zM274.7 460.32h9.23v1h-9.23zM274.7 461.71h9.23v1h-9.23zM274.7 462.41h9.23v1h-9.23zM274.7 477.04h9.23v1h-9.23zM274.7 481.21h9.23v1h-9.23zM274.7 482.61h9.23v1h-9.23zM274.7 485.39h9.23v1h-9.23zM274.7 487.48h9.23v1h-9.23zM274.7 493.75h9.23v1h-9.23z"/><path fill="#768fc7" d="M283.63 454.75h9.23v1h-9.23zM283.63 469.38h9.23v1h-9.23zM283.63 472.16h9.23v1h-9.23zM283.63 472.86h9.23v1h-9.23zM283.63 477.73h9.23v1h-9.23zM283.63 480.52h9.23v1h-9.23zM283.63 484.7h9.23v1h-9.23zM283.63 493.75h9.23v1h-9.23zM283.63 495.84h9.23v1h-9.23zM283.63 499.32h9.23v1h-9.23zM283.63 501.41h9.23v1h-9.23zM283.63 502.11h9.23v1h-9.23zM256.83 509h9.23v1h-9.23zM256.83 513.92h9.23v1h-9.23zM256.83 517.43h9.23v1h-9.23zM256.83 529.37h9.23v1h-9.23zM256.83 530.07h9.23v1h-9.23zM256.83 536.39h9.23v1h-9.23z"/><path fill="#dd5c50" d="M247.9 456.84h9.23v1h-9.23zM256.83 486.09h9.23v1h-9.23zM265.77 520.94h9.23v1h-9.23zM274.7 520.94h9.23v1h-9.23zM283.63 548.98h9.23v1h-9.23z"/><path fill="#e0655a" d="M256.83 456.84h9.23v1h-9.23z"/><path fill="#c2b4c8" d="M274.7 458.23h9.23v1h-9.23zM274.7 466.59h9.23v1h-9.23zM274.7 500.71h9.23v1h-9.23z"/><path fill="#adb9d9" d="M265.77 463.11h9.23v1h-9.23zM265.77 463.8h9.23v1h-9.23zM265.77 465.2h9.23v1h-9.23zM265.77 472.86h9.23v1h-9.23zM265.77 474.25h9.23v1h-9.23zM265.77 502.11h9.23v1h-9.23z"/><path fill="#9daad2" d="M283.63 464.5h9.23v1h-9.23zM283.63 465.2h9.23v1h-9.23z"/><path fill="#c8b2c2" d="M274.7 465.2h9.23v1h-9.23zM274.7 486.09h9.23v1h-9.23z"/><path fill="#94a6d0" d="M265.77 465.89h9.23v1h-9.23zM265.77 483.3h9.23v1h-9.23z"/><path fill="#889ccd" d="M274.7 465.89h9.23v1h-9.23z"/><path fill="#bb8897" d="M283.63 465.89h9.23v1h-9.23zM283.63 466.59h9.23v1h-9.23zM283.63 486.79h9.23v1h-9.23zM283.63 500.71h9.23v1h-9.23zM256.83 534.98h9.23v1h-9.23z"/><path fill="#b98696" d="M292.57 465.89h9.23v1h-9.23zM292.57 466.59h9.23v1h-9.23zM292.57 486.79h9.23v1h-9.23zM292.57 500.71h9.23v1h-9.23z"/><path fill="#7089c4" d="M292.57 469.38h9.23v1h-9.23zM292.57 472.86h9.23v1h-9.23zM292.57 473.55h9.23v1h-9.23zM292.57 477.04h9.23v1h-9.23zM292.57 487.48h9.23v1h-9.23zM292.57 489.57h9.23v1h-9.23zM292.57 499.32h9.23v1h-9.23z"/><path fill="#b5bedb" d="M265.77 470.77h9.23v1h-9.23zM265.77 484h9.23v1h-9.23z"/><path fill="#98a9d2" d="M265.77 471.46h9.23v1h-9.23zM265.77 473.55h9.23v1h-9.23zM265.77 487.48h9.23v1h-9.23zM265.77 490.96h9.23v1h-9.23zM265.77 499.32h9.23v1h-9.23z"/><path fill="#748dc6" d="M283.63 471.46h9.23v1h-9.23zM256.83 525.15h9.23v1h-9.23z"/><path fill="#bcb5cd" d="M274.7 472.86h9.23v1h-9.23zM274.7 478.43h9.23v1h-9.23z"/><path fill="#758ec6" d="M283.63 473.55h9.23v1h-9.23zM283.63 474.95h9.23v1h-9.23zM283.63 481.21h9.23v1h-9.23zM283.63 482.61h9.23v1h-9.23zM283.63 488.88h9.23v1h-9.23zM283.63 489.57h9.23v1h-9.23zM283.63 490.96h9.23v1h-9.23zM283.63 498.62h9.23v1h-9.23zM256.83 511.81h9.23v1h-9.23zM256.83 518.83h9.23v1h-9.23z"/><path fill="#738cc5" d="M283.63 477.04h9.23v1h-9.23zM283.63 488.18h9.23v1h-9.23zM256.83 512.51h9.23v1h-9.23zM256.83 520.24h9.23v1h-9.23z"/><path fill="#8ea0ce" d="M283.63 479.12h9.23v1h-9.23zM283.63 484h9.23v1h-9.23zM283.63 491.66h9.23v1h-9.23zM256.83 520.94h9.23v1h-9.23zM256.83 532.88h9.23v1h-9.23z"/><path fill="#cd969d" d="M265.77 481.91h9.23v1h-9.23zM265.77 495.84h9.23v1h-9.23zM265.77 501.41h9.23v1h-9.23z"/><path fill="#cf989f" d="M274.7 481.91h9.23v1h-9.23zM274.7 495.84h9.23v1h-9.23zM274.7 501.41h9.23v1h-9.23z"/><path fill="#bec3dd" d="M265.77 486.09h9.23v1h-9.23z"/><path fill="#728bc5" d="M283.63 487.48h9.23v1h-9.23z"/><path fill="#8fa2cf" d="M265.77 493.05h9.23v1h-9.23zM265.77 500.02h9.23v1h-9.23z"/><path fill="#93a6d2" d="M274.7 499.32h9.23v1h-9.23z"/><path fill="#d74137" d="M307.7 445h9.12v1h-9.12zM307.7 445.7h9.12v1h-9.12zM307.7 447.79h9.12v1h-9.12zM307.7 452.66h9.12v1h-9.12zM307.7 456.14h9.12v1h-9.12zM307.7 463.11h9.12v1h-9.12zM307.7 466.59h9.12v1h-9.12zM307.7 468.68h9.12v1h-9.12zM307.7 472.16h9.12v1h-9.12zM307.7 474.25h9.12v1h-9.12zM307.7 475.64h9.12v1h-9.12zM307.7 484.7h9.12v1h-9.12zM307.7 488.18h9.12v1h-9.12zM307.7 490.96h9.12v1h-9.12z"/><path fill="#d74036" d="M316.52 445h9.12v1h-9.12zM316.52 445.7h9.12v1h-9.12zM316.52 453.36h9.12v1h-9.12zM316.52 461.71h9.12v1h-9.12zM316.52 467.98h9.12v1h-9.12zM316.52 473.55h9.12v1h-9.12zM316.52 476.34h9.12v1h-9.12zM316.52 481.91h9.12v1h-9.12zM316.52 484h9.12v1h-9.12zM316.52 487.48h9.12v1h-9.12zM316.52 488.88h9.12v1h-9.12zM316.52 494.45h9.12v1h-9.12zM316.52 499.32h9.12v1h-9.12zM316.52 500.02h9.12v1h-9.12z"/><path fill="#d2bdcb" d="M325.33 445h9.12v1h-9.12zM325.33 471.46h9.12v1h-9.12zM325.33 492.36h9.12v1h-9.12zM325.33 498.62h9.12v1h-9.12z"/><path fill="#d9c4ce" d="M334.15 445h9.12v1h-9.12zM334.15 492.36h9.12v1h-9.12zM334.15 498.62h9.12v1h-9.12zM334.15 501.41h9.12v1h-9.12z"/><path fill="#7e94ca" d="M342.97 445h9.12v1h-9.12zM342.97 446.39h9.12v1h-9.12zM342.97 466.59h9.12v1h-9.12zM342.97 476.34h9.12v1h-9.12zM342.97 480.52h9.12v1h-9.12zM342.97 501.41h9.12v1h-9.12z"/><path fill="#8298ca" d="M351.78 445h9.12v1h-9.12zM351.78 446.39h9.12v1h-9.12zM351.78 451.27h9.12v1h-9.12zM351.78 465.2h9.12v1h-9.12zM351.78 468.68h9.12v1h-9.12zM351.78 492.36h9.12v1h-9.12zM351.78 494.45h9.12v1h-9.12zM351.78 495.14h9.12v1h-9.12zM351.78 497.93h9.12v1h-9.12z"/><path fill="#c7c5db" d="M325.33 445.7h9.12v1h-9.12zM325.33 465.2h9.12v1h-9.12zM325.33 475.64h9.12v1h-9.12zM325.33 479.12h9.12v1h-9.12zM325.33 490.27h9.12v1h-9.12zM325.33 493.75h9.12v1h-9.12zM325.33 495.14h9.12v1h-9.12z"/><path fill="#c4cbe3" d="M334.15 445.7h9.12v1h-9.12zM334.15 447.79h9.12v1h-9.12zM334.15 452.66h9.12v1h-9.12zM334.15 456.14h9.12v1h-9.12zM334.15 458.23h9.12v1h-9.12zM334.15 458.93h9.12v1h-9.12zM334.15 461.71h9.12v1h-9.12zM334.15 467.98h9.12v1h-9.12zM334.15 470.77h9.12v1h-9.12zM334.15 476.34h9.12v1h-9.12zM334.15 480.52h9.12v1h-9.12zM334.15 488.88h9.12v1h-9.12zM334.15 490.96h9.12v1h-9.12zM334.15 496.54h9.12v1h-9.12zM334.15 500.02h9.12v1h-9.12zM334.15 502.11h9.12v1h-9.12z"/><path fill="#b38295" d="M342.97 445.7h9.12v1h-9.12zM342.97 449.88h9.12v1h-9.12zM342.97 486.09h9.12v1h-9.12z"/><path fill="#b58495" d="M351.78 445.7h9.12v1h-9.12zM351.78 449.88h9.12v1h-9.12zM351.78 486.09h9.12v1h-9.12z"/><path fill="#d33b31" d="M307.7 446.39h9.12v1h-9.12z"/><path fill="#d74137" d="M316.52 446.39h9.12v1h-9.12zM316.52 447.79h9.12v1h-9.12zM316.52 456.14h9.12v1h-9.12zM316.52 459.62h9.12v1h-9.12zM316.52 461.02h9.12v1h-9.12zM316.52 465.2h9.12v1h-9.12zM316.52 477.04h9.12v1h-9.12zM316.52 477.73h9.12v1h-9.12zM316.52 480.52h9.12v1h-9.12zM316.52 486.09h9.12v1h-9.12zM316.52 486.79h9.12v1h-9.12zM316.52 489.57h9.12v1h-9.12zM316.52 497.23h9.12v1h-9.12zM316.52 501.41h9.12v1h-9.12zM316.52 502.8h9.12v1h-9.12z"/><path fill="#cbc3d6" d="M325.33 446.39h9.12v1h-9.12zM325.33 451.27h9.12v1h-9.12zM325.33 460.32h9.12v1h-9.12zM325.33 461.02h9.12v1h-9.12zM325.33 464.5h9.12v1h-9.12zM325.33 477.73h9.12v1h-9.12zM325.33 486.09h9.12v1h-9.12zM325.33 490.96h9.12v1h-9.12zM325.33 494.45h9.12v1h-9.12zM325.33 497.93h9.12v1h-9.12zM325.33 502.11h9.12v1h-9.12z"/><path fill="#d3cbda" d="M334.15 446.39h9.12v1h-9.12zM334.15 460.32h9.12v1h-9.12zM334.15 470.07h9.12v1h-9.12zM334.15 478.43h9.12v1h-9.12zM334.15 490.27h9.12v1h-9.12zM334.15 491.66h9.12v1h-9.12zM334.15 495.14h9.12v1h-9.12z"/><path fill="#d63f35" d="M307.7 447.09h9.12v1h-9.12zM307.7 453.36h9.12v1h-9.12zM307.7 472.86h9.12v1h-9.12zM307.7 477.04h9.12v1h-9.12zM307.7 484h9.12v1h-9.12zM307.7 487.48h9.12v1h-9.12zM307.7 493.05h9.12v1h-9.12zM307.7 500.71h9.12v1h-9.12z"/><path fill="#d63f35" d="M316.52 447.09h9.12v1h-9.12zM316.52 448.48h9.12v1h-9.12zM316.52 462.41h9.12v1h-9.12zM316.52 479.82h9.12v1h-9.12zM316.52 491.66h9.12v1h-9.12zM316.52 493.05h9.12v1h-9.12zM316.52 498.62h9.12v1h-9.12z"/><path fill="#9ba9d2" d="M325.33 447.09h9.12v1h-9.12zM325.33 463.8h9.12v1h-9.12z"/><path fill="#b3bddc" d="M334.15 447.09h9.12v1h-9.12zM334.15 454.75h9.12v1h-9.12zM334.15 455.45h9.12v1h-9.12zM334.15 459.62h9.12v1h-9.12zM334.15 467.29h9.12v1h-9.12zM334.15 472.16h9.12v1h-9.12zM334.15 483.3h9.12v1h-9.12zM334.15 493.05h9.12v1h-9.12zM334.15 495.84h9.12v1h-9.12zM334.15 500.71h9.12v1h-9.12z"/><path fill="#6582c3" d="M342.97 447.09h9.12v1h-9.12zM342.97 448.48h9.12v1h-9.12zM342.97 457.54h9.12v1h-9.12zM342.97 458.23h9.12v1h-9.12zM342.97 464.5h9.12v1h-9.12zM342.97 472.16h9.12v1h-9.12zM342.97 481.21h9.12v1h-9.12zM342.97 489.57h9.12v1h-9.12zM342.97 497.23h9.12v1h-9.12zM342.97 500.71h9.12v1h-9.12z"/><path fill="#6986c2" d="M351.78 447.09h9.12v1h-9.12zM351.78 447.79h9.12v1h-9.12zM351.78 461.71h9.12v1h-9.12z"/><path fill="#bbc2de" d="M325.33 447.79h9.12v1h-9.12zM325.33 450.57h9.12v1h-9.12zM325.33 452.66h9.12v1h-9.12zM325.33 455.45h9.12v1h-9.12zM325.33 458.93h9.12v1h-9.12zM325.33 459.62h9.12v1h-9.12zM325.33 466.59h9.12v1h-9.12zM325.33 484.7h9.12v1h-9.12zM325.33 488.18h9.12v1h-9.12zM325.33 488.88h9.12v1h-9.12zM325.33 495.84h9.12v1h-9.12zM325.33 497.23h9.12v1h-9.12zM325.33 502.8h9.12v1h-9.12z"/><path fill="#6482c3" d="M342.97 447.79h9.12v1h-9.12zM342.97 451.96h9.12v1h-9.12zM342.97 452.66h9.12v1h-9.12zM342.97 454.05h9.12v1h-9.12zM342.97 456.14h9.12v1h-9.12zM342.97 469.38h9.12v1h-9.12zM342.97 470.07h9.12v1h-9.12zM342.97 472.86h9.12v1h-9.12zM342.97 473.55h9.12v1h-9.12zM342.97 479.12h9.12v1h-9.12zM342.97 483.3h9.12v1h-9.12zM342.97 484.7h9.12v1h-9.12zM342.97 486.79h9.12v1h-9.12zM342.97 491.66h9.12v1h-9.12zM342.97 498.62h9.12v1h-9.12z"/><path fill="#d53e34" d="M307.7 448.48h9.12v1h-9.12zM307.7 462.41h9.12v1h-9.12zM307.7 473.55h9.12v1h-9.12zM307.7 474.95h9.12v1h-9.12zM307.7 476.34h9.12v1h-9.12zM307.7 477.73h9.12v1h-9.12zM307.7 488.88h9.12v1h-9.12zM307.7 491.66h9.12v1h-9.12zM307.7 498.62h9.12v1h-9.12zM307.7 499.32h9.12v1h-9.12zM307.7 502.8h9.12v1h-9.12z"/><path fill="#b3bcdb" d="M325.33 448.48h9.12v1h-9.12zM325.33 449.18h9.12v1h-9.12zM325.33 456.14h9.12v1h-9.12zM325.33 467.98h9.12v1h-9.12zM325.33 476.34h9.12v1h-9.12zM325.33 479.82h9.12v1h-9.12zM325.33 481.91h9.12v1h-9.12zM325.33 483.3h9.12v1h-9.12zM325.33 484h9.12v1h-9.12zM325.33 487.48h9.12v1h-9.12zM325.33 496.54h9.12v1h-9.12zM325.33 500.71h9.12v1h-9.12z"/><path fill="#bbc4df" d="M334.15 448.48h9.12v1h-9.12zM334.15 456.84h9.12v1h-9.12zM334.15 457.54h9.12v1h-9.12zM334.15 474.25h9.12v1h-9.12zM334.15 474.95h9.12v1h-9.12zM334.15 481.91h9.12v1h-9.12zM334.15 482.61h9.12v1h-9.12zM334.15 484.7h9.12v1h-9.12zM334.15 486.79h9.12v1h-9.12z"/><path fill="#6987c3" d="M351.78 448.48h9.12v1h-9.12zM351.78 456.14h9.12v1h-9.12zM351.78 463.8h9.12v1h-9.12zM351.78 470.07h9.12v1h-9.12zM351.78 470.77h9.12v1h-9.12zM351.78 472.16h9.12v1h-9.12zM351.78 473.55h9.12v1h-9.12zM351.78 479.12h9.12v1h-9.12zM351.78 481.91h9.12v1h-9.12zM351.78 484.7h9.12v1h-9.12zM351.78 488.18h9.12v1h-9.12zM351.78 490.96h9.12v1h-9.12zM351.78 502.11h9.12v1h-9.12z"/><path fill="#d94b41" d="M307.7 449.18h9.12v1h-9.12zM307.7 451.96h9.12v1h-9.12zM307.7 455.45h9.12v1h-9.12zM307.7 461.71h9.12v1h-9.12zM307.7 463.8h9.12v1h-9.12zM307.7 465.89h9.12v1h-9.12zM307.7 471.46h9.12v1h-9.12zM307.7 478.43h9.12v1h-9.12zM307.7 481.21h9.12v1h-9.12z"/><path fill="#d9473d" d="M316.52 449.18h9.12v1h-9.12zM316.52 450.57h9.12v1h-9.12zM316.52 456.84h9.12v1h-9.12zM316.52 458.23h9.12v1h-9.12zM316.52 464.5h9.12v1h-9.12zM316.52 468.68h9.12v1h-9.12zM316.52 470.07h9.12v1h-9.12zM316.52 470.77h9.12v1h-9.12zM316.52 481.21h9.12v1h-9.12zM316.52 482.61h9.12v1h-9.12zM316.52 483.3h9.12v1h-9.12zM316.52 485.39h9.12v1h-9.12zM316.52 488.18h9.12v1h-9.12zM316.52 495.14h9.12v1h-9.12zM316.52 500.71h9.12v1h-9.12z"/><path fill="#aab6d9" d="M334.15 449.18h9.12v1h-9.12zM334.15 463.8h9.12v1h-9.12zM334.15 473.55h9.12v1h-9.12zM334.15 502.8h9.12v1h-9.12z"/><path fill="#6482c3" d="M342.97 449.18h9.12v1h-9.12zM342.97 450.57h9.12v1h-9.12zM342.97 463.11h9.12v1h-9.12zM342.97 465.2h9.12v1h-9.12zM342.97 465.89h9.12v1h-9.12zM342.97 471.46h9.12v1h-9.12zM342.97 475.64h9.12v1h-9.12zM342.97 484h9.12v1h-9.12zM342.97 487.48h9.12v1h-9.12zM342.97 488.18h9.12v1h-9.12zM342.97 488.88h9.12v1h-9.12zM342.97 490.96h9.12v1h-9.12zM342.97 495.14h9.12v1h-9.12zM342.97 495.84h9.12v1h-9.12z"/><path fill="#6987c3" d="M351.78 449.18h9.12v1h-9.12zM351.78 454.05h9.12v1h-9.12zM351.78 457.54h9.12v1h-9.12zM351.78 458.23h9.12v1h-9.12zM351.78 458.93h9.12v1h-9.12zM351.78 463.11h9.12v1h-9.12zM351.78 469.38h9.12v1h-9.12zM351.78 472.86h9.12v1h-9.12zM351.78 477.04h9.12v1h-9.12zM351.78 479.82h9.12v1h-9.12zM351.78 488.88h9.12v1h-9.12zM351.78 489.57h9.12v1h-9.12zM351.78 498.62h9.12v1h-9.12z"/><path fill="#d8463c" d="M307.7 449.88h9.12v1h-9.12zM307.7 450.57h9.12v1h-9.12zM307.7 456.84h9.12v1h-9.12zM307.7 457.54h9.12v1h-9.12zM307.7 458.93h9.12v1h-9.12zM307.7 459.62h9.12v1h-9.12zM307.7 464.5h9.12v1h-9.12zM307.7 470.07h9.12v1h-9.12zM307.7 479.12h9.12v1h-9.12zM307.7 482.61h9.12v1h-9.12zM307.7 483.3h9.12v1h-9.12zM307.7 486.79h9.12v1h-9.12zM307.7 495.14h9.12v1h-9.12zM307.7 501.41h9.12v1h-9.12z"/><path fill="#da4c42" d="M316.52 449.88h9.12v1h-9.12zM316.52 463.11h9.12v1h-9.12zM316.52 463.8h9.12v1h-9.12zM316.52 465.89h9.12v1h-9.12zM316.52 484.7h9.12v1h-9.12zM316.52 496.54h9.12v1h-9.12z"/><path fill="#c3c8e1" d="M325.33 449.88h9.12v1h-9.12zM325.33 454.05h9.12v1h-9.12zM325.33 458.23h9.12v1h-9.12zM325.33 461.71h9.12v1h-9.12zM325.33 462.41h9.12v1h-9.12zM325.33 463.11h9.12v1h-9.12zM325.33 470.07h9.12v1h-9.12zM325.33 470.77h9.12v1h-9.12zM325.33 474.25h9.12v1h-9.12zM325.33 477.04h9.12v1h-9.12zM325.33 478.43h9.12v1h-9.12zM325.33 480.52h9.12v1h-9.12zM325.33 481.21h9.12v1h-9.12zM325.33 485.39h9.12v1h-9.12zM325.33 499.32h9.12v1h-9.12z"/><path fill="#cdd2e6" d="M334.15 449.88h9.12v1h-9.12zM334.15 453.36h9.12v1h-9.12zM334.15 463.11h9.12v1h-9.12zM334.15 464.5h9.12v1h-9.12zM334.15 465.2h9.12v1h-9.12zM334.15 466.59h9.12v1h-9.12zM334.15 475.64h9.12v1h-9.12zM334.15 479.12h9.12v1h-9.12zM334.15 479.82h9.12v1h-9.12zM334.15 486.09h9.12v1h-9.12zM334.15 488.18h9.12v1h-9.12zM334.15 494.45h9.12v1h-9.12z"/><path fill="#d0cee0" d="M334.15 450.57h9.12v1h-9.12zM334.15 451.27h9.12v1h-9.12zM334.15 454.05h9.12v1h-9.12zM334.15 462.41h9.12v1h-9.12zM334.15 477.04h9.12v1h-9.12zM334.15 477.73h9.12v1h-9.12zM334.15 481.21h9.12v1h-9.12zM334.15 484h9.12v1h-9.12zM334.15 485.39h9.12v1h-9.12zM334.15 487.48h9.12v1h-9.12zM334.15 489.57h9.12v1h-9.12zM334.15 499.32h9.12v1h-9.12z"/><path fill="#718dc5" d="M351.78 450.57h9.12v1h-9.12zM351.78 455.45h9.12v1h-9.12zM351.78 464.5h9.12v1h-9.12zM351.78 465.89h9.12v1h-9.12zM351.78 476.34h9.12v1h-9.12zM351.78 478.43h9.12v1h-9.12zM351.78 482.61h9.12v1h-9.12zM351.78 483.3h9.12v1h-9.12zM351.78 484h9.12v1h-9.12zM351.78 485.39h9.12v1h-9.12zM351.78 487.48h9.12v1h-9.12zM351.78 490.27h9.12v1h-9.12zM351.78 493.05h9.12v1h-9.12zM351.78 497.23h9.12v1h-9.12z"/><path fill="#d53d33" d="M307.7 451.27h9.12v1h-9.12z"/><path fill="#d53e34" d="M316.52 451.27h9.12v1h-9.12zM316.52 469.38h9.12v1h-9.12zM316.52 472.86h9.12v1h-9.12z"/><path fill="#768ec8" d="M342.97 451.27h9.12v1h-9.12zM342.97 462.41h9.12v1h-9.12zM342.97 478.43h9.12v1h-9.12zM342.97 479.82h9.12v1h-9.12zM342.97 482.61h9.12v1h-9.12zM342.97 497.93h9.12v1h-9.12zM342.97 500.02h9.12v1h-9.12zM342.97 502.11h9.12v1h-9.12z"/><path fill="#db5046" d="M316.52 451.96h9.12v1h-9.12zM316.52 455.45h9.12v1h-9.12zM316.52 457.54h9.12v1h-9.12zM316.52 479.12h9.12v1h-9.12zM316.52 492.36h9.12v1h-9.12z"/><path fill="#dab8c0" d="M325.33 451.96h9.12v1h-9.12z"/><path fill="#d6c7d4" d="M334.15 451.96h9.12v1h-9.12zM334.15 461.02h9.12v1h-9.12zM334.15 468.68h9.12v1h-9.12zM334.15 472.86h9.12v1h-9.12zM334.15 493.75h9.12v1h-9.12zM334.15 497.93h9.12v1h-9.12z"/><path fill="#6986c3" d="M351.78 451.96h9.12v1h-9.12zM351.78 452.66h9.12v1h-9.12zM351.78 467.98h9.12v1h-9.12zM351.78 471.46h9.12v1h-9.12zM351.78 475.64h9.12v1h-9.12zM351.78 481.21h9.12v1h-9.12zM351.78 486.79h9.12v1h-9.12zM351.78 491.66h9.12v1h-9.12zM351.78 495.84h9.12v1h-9.12zM351.78 499.32h9.12v1h-9.12zM351.78 500.71h9.12v1h-9.12z"/><path fill="#d84238" d="M316.52 452.66h9.12v1h-9.12zM316.52 454.75h9.12v1h-9.12zM316.52 460.32h9.12v1h-9.12zM316.52 466.59h9.12v1h-9.12zM316.52 472.16h9.12v1h-9.12zM316.52 474.25h9.12v1h-9.12zM316.52 474.95h9.12v1h-9.12zM316.52 475.64h9.12v1h-9.12zM316.52 490.96h9.12v1h-9.12zM316.52 493.75h9.12v1h-9.12zM316.52 495.84h9.12v1h-9.12z"/><path fill="#abb6d8" d="M325.33 453.36h9.12v1h-9.12zM325.33 454.75h9.12v1h-9.12zM325.33 474.95h9.12v1h-9.12zM325.33 486.79h9.12v1h-9.12zM325.33 500.02h9.12v1h-9.12z"/><path fill="#6582c2" d="M342.97 453.36h9.12v1h-9.12zM342.97 474.95h9.12v1h-9.12zM342.97 477.04h9.12v1h-9.12zM342.97 481.91h9.12v1h-9.12zM342.97 496.54h9.12v1h-9.12z"/><path fill="#6986c2" d="M351.78 453.36h9.12v1h-9.12zM351.78 459.62h9.12v1h-9.12zM351.78 474.95h9.12v1h-9.12zM351.78 496.54h9.12v1h-9.12zM351.78 502.8h9.12v1h-9.12z"/><path fill="#db544a" d="M307.7 454.05h9.12v1h-9.12zM307.7 497.93h9.12v1h-9.12z"/><path fill="#dc554b" d="M316.52 454.05h9.12v1h-9.12zM316.52 458.93h9.12v1h-9.12zM316.52 471.46h9.12v1h-9.12zM316.52 478.43h9.12v1h-9.12zM316.52 490.27h9.12v1h-9.12zM316.52 497.93h9.12v1h-9.12z"/><path fill="#d64036" d="M307.7 454.75h9.12v1h-9.12zM307.7 458.23h9.12v1h-9.12zM307.7 460.32h9.12v1h-9.12zM307.7 461.02h9.12v1h-9.12zM307.7 465.2h9.12v1h-9.12zM307.7 467.98h9.12v1h-9.12zM307.7 479.82h9.12v1h-9.12zM307.7 480.52h9.12v1h-9.12zM307.7 481.91h9.12v1h-9.12zM307.7 485.39h9.12v1h-9.12zM307.7 486.09h9.12v1h-9.12zM307.7 489.57h9.12v1h-9.12zM307.7 493.75h9.12v1h-9.12zM307.7 494.45h9.12v1h-9.12zM307.7 495.84h9.12v1h-9.12zM307.7 496.54h9.12v1h-9.12zM307.7 497.23h9.12v1h-9.12zM307.7 500.02h9.12v1h-9.12z"/><path fill="#879acd" d="M342.97 454.75h9.12v1h-9.12zM342.97 455.45h9.12v1h-9.12zM342.97 460.32h9.12v1h-9.12zM342.97 477.73h9.12v1h-9.12zM342.97 493.75h9.12v1h-9.12z"/><path fill="#7a92c8" d="M351.78 454.75h9.12v1h-9.12zM351.78 456.84h9.12v1h-9.12zM351.78 460.32h9.12v1h-9.12zM351.78 462.41h9.12v1h-9.12zM351.78 480.52h9.12v1h-9.12zM351.78 500.02h9.12v1h-9.12zM351.78 501.41h9.12v1h-9.12z"/><path fill="#a3afd5" d="M325.33 456.84h9.12v1h-9.12zM325.33 467.29h9.12v1h-9.12zM325.33 472.16h9.12v1h-9.12zM325.33 473.55h9.12v1h-9.12zM325.33 482.61h9.12v1h-9.12zM325.33 493.05h9.12v1h-9.12z"/><path fill="#6d88c5" d="M342.97 456.84h9.12v1h-9.12zM342.97 458.93h9.12v1h-9.12zM342.97 463.8h9.12v1h-9.12zM342.97 467.98h9.12v1h-9.12zM342.97 468.68h9.12v1h-9.12zM342.97 470.77h9.12v1h-9.12zM342.97 485.39h9.12v1h-9.12zM342.97 490.27h9.12v1h-9.12zM342.97 493.05h9.12v1h-9.12zM342.97 494.45h9.12v1h-9.12z"/><path fill="#93a3d0" d="M325.33 457.54h9.12v1h-9.12z"/><path fill="#6682c2" d="M342.97 459.62h9.12v1h-9.12zM342.97 467.29h9.12v1h-9.12z"/><path fill="#6682c2" d="M342.97 461.02h9.12v1h-9.12z"/><path fill="#6985c2" d="M351.78 461.02h9.12v1h-9.12zM351.78 467.29h9.12v1h-9.12z"/><path fill="#6582c2" d="M342.97 461.71h9.12v1h-9.12zM342.97 499.32h9.12v1h-9.12zM342.97 502.8h9.12v1h-9.12z"/><path fill="#d99ea1" d="M325.33 465.89h9.12v1h-9.12zM325.33 469.38h9.12v1h-9.12z"/><path fill="#dda2a3" d="M334.15 465.89h9.12v1h-9.12zM334.15 469.38h9.12v1h-9.12z"/><path fill="#93a3cf" d="M351.78 466.59h9.12v1h-9.12zM351.78 474.25h9.12v1h-9.12zM351.78 493.75h9.12v1h-9.12z"/><path fill="#d43c32" d="M307.7 467.29h9.12v1h-9.12zM307.7 469.38h9.12v1h-9.12zM307.7 502.11h9.12v1h-9.12z"/><path fill="#d53d33" d="M316.52 467.29h9.12v1h-9.12zM316.52 502.11h9.12v1h-9.12z"/><path fill="#cec0d0" d="M325.33 468.68h9.12v1h-9.12zM325.33 472.86h9.12v1h-9.12zM325.33 489.57h9.12v1h-9.12zM325.33 491.66h9.12v1h-9.12z"/><path fill="#da4f45" d="M307.7 470.77h9.12v1h-9.12zM307.7 490.27h9.12v1h-9.12zM307.7 492.36h9.12v1h-9.12z"/><path fill="#dcc0c8" d="M334.15 471.46h9.12v1h-9.12z"/><path fill="#99a6d1" d="M342.97 474.25h9.12v1h-9.12z"/><path fill="#a4afd4" d="M351.78 477.73h9.12v1h-9.12z"/><path fill="#90a0cf" d="M342.97 492.36h9.12v1h-9.12z"/><path fill="#a1afd5" d="M334.15 497.23h9.12v1h-9.12z"/><path fill="#d6bbc5" d="M325.33 501.41h9.12v1h-9.12z"/><path fill="#7e97cb" d="M247.9 509h9.23v1h-9.23zM247.9 516.73h9.23v1h-9.23zM247.9 518.83h9.23v1h-9.23zM247.9 525.85h9.23v1h-9.23zM247.9 529.37h9.23v1h-9.23zM247.9 530.07h9.23v1h-9.23zM247.9 536.39h9.23v1h-9.23zM247.9 545.5h9.23v1h-9.23zM247.9 548.29h9.23v1h-9.23zM247.9 553.16h9.23v1h-9.23zM247.9 557.34h9.23v1h-9.23zM247.9 561.52h9.23v1h-9.23zM247.9 565h9.23v1h-9.23zM247.9 570.57h9.23v1h-9.23zM247.9 577.54h9.23v1h-9.23z"/><path fill="#a4b0d5" d="M283.63 509h9.23v1h-9.23zM283.63 510.4h9.23v1h-9.23zM283.63 511.11h9.23v1h-9.23zM283.63 516.73h9.23v1h-9.23zM283.63 520.24h9.23v1h-9.23z"/><path fill="#9daad3" d="M292.57 509h9.23v1h-9.23zM292.57 523.75h9.23v1h-9.23z"/><path fill="#8099cc" d="M247.9 509.7h9.23v1h-9.23zM247.9 513.92h9.23v1h-9.23zM247.9 515.32h9.23v1h-9.23zM247.9 546.89h9.23v1h-9.23zM247.9 558.73h9.23v1h-9.23zM247.9 576.15h9.23v1h-9.23zM247.9 578.24h9.23v1h-9.23zM247.9 579.63h9.23v1h-9.23z"/><path fill="#b0b3d2" d="M283.63 509.7h9.23v1h-9.23zM283.63 511.81h9.23v1h-9.23zM283.63 514.62h9.23v1h-9.23zM283.63 516.02h9.23v1h-9.23zM283.63 530.77h9.23v1h-9.23zM283.63 533.58h9.23v1h-9.23zM283.63 534.28h9.23v1h-9.23zM283.63 534.98h9.23v1h-9.23z"/><path fill="#b5b8d5" d="M292.57 509.7h9.23v1h-9.23zM292.57 528.66h9.23v1h-9.23zM292.57 530.77h9.23v1h-9.23zM292.57 538.5h9.23v1h-9.23z"/><path fill="#aab4d7" d="M247.9 510.4h9.23v1h-9.23z"/><path fill="#a4afd4" d="M256.83 510.4h9.23v1h-9.23zM256.83 521.64h9.23v1h-9.23z"/><path fill="#a3afd5" d="M292.57 510.4h9.23v1h-9.23zM292.57 511.11h9.23v1h-9.23zM292.57 516.73h9.23v1h-9.23zM292.57 524.45h9.23v1h-9.23zM292.57 534.98h9.23v1h-9.23zM292.57 535.69h9.23v1h-9.23z"/><path fill="#8fa3d0" d="M247.9 511.11h9.23v1h-9.23zM247.9 514.62h9.23v1h-9.23zM247.9 516.02h9.23v1h-9.23zM247.9 518.13h9.23v1h-9.23zM247.9 531.47h9.23v1h-9.23zM247.9 533.58h9.23v1h-9.23zM247.9 538.5h9.23v1h-9.23zM247.9 550.38h9.23v1h-9.23zM247.9 558.04h9.23v1h-9.23zM247.9 560.13h9.23v1h-9.23zM247.9 564.31h9.23v1h-9.23zM247.9 569.18h9.23v1h-9.23zM247.9 571.97h9.23v1h-9.23zM247.9 573.36h9.23v1h-9.23zM247.9 584.5h9.23v1h-9.23z"/><path fill="#7d96ca" d="M247.9 511.81h9.23v1h-9.23zM247.9 517.43h9.23v1h-9.23zM247.9 535.69h9.23v1h-9.23zM247.9 549.68h9.23v1h-9.23zM247.9 551.07h9.23v1h-9.23zM247.9 555.95h9.23v1h-9.23zM247.9 568.48h9.23v1h-9.23zM247.9 574.75h9.23v1h-9.23zM247.9 575.45h9.23v1h-9.23zM247.9 582.41h9.23v1h-9.23z"/><path fill="#c0b5cb" d="M292.57 511.81h9.23v1h-9.23zM292.57 513.92h9.23v1h-9.23zM292.57 520.24h9.23v1h-9.23zM292.57 520.94h9.23v1h-9.23zM292.57 522.34h9.23v1h-9.23zM292.57 527.96h9.23v1h-9.23z"/><path fill="#7b94c9" d="M247.9 512.51h9.23v1h-9.23zM247.9 525.15h9.23v1h-9.23zM247.9 559.43h9.23v1h-9.23z"/><path fill="#9fabd3" d="M283.63 512.51h9.23v1h-9.23zM283.63 517.43h9.23v1h-9.23zM283.63 521.64h9.23v1h-9.23zM283.63 524.45h9.23v1h-9.23zM283.63 531.47h9.23v1h-9.23zM283.63 535.69h9.23v1h-9.23z"/><path fill="#96a6d1" d="M292.57 512.51h9.23v1h-9.23z"/><path fill="#829bcd" d="M247.9 513.21h9.23v1h-9.23zM247.9 519.53h9.23v1h-9.23zM247.9 522.34h9.23v1h-9.23zM247.9 524.45h9.23v1h-9.23zM247.9 526.56h9.23v1h-9.23zM247.9 527.96h9.23v1h-9.23zM247.9 534.28h9.23v1h-9.23zM247.9 539.2h9.23v1h-9.23zM247.9 551.77h9.23v1h-9.23zM247.9 552.46h9.23v1h-9.23zM247.9 553.86h9.23v1h-9.23zM247.9 554.55h9.23v1h-9.23zM247.9 562.22h9.23v1h-9.23zM247.9 565.7h9.23v1h-9.23zM247.9 567.09h9.23v1h-9.23zM247.9 576.84h9.23v1h-9.23zM247.9 583.11h9.23v1h-9.23zM247.9 583.81h9.23v1h-9.23z"/><path fill="#c2b0c4" d="M283.63 513.21h9.23v1h-9.23zM283.63 518.13h9.23v1h-9.23zM283.63 519.53h9.23v1h-9.23zM283.63 520.94h9.23v1h-9.23zM283.63 537.09h9.23v1h-9.23z"/><path fill="#c5b4c6" d="M292.57 513.21h9.23v1h-9.23zM292.57 518.83h9.23v1h-9.23z"/><path fill="#b6b2ce" d="M283.63 513.92h9.23v1h-9.23zM283.63 525.15h9.23v1h-9.23zM283.63 527.26h9.23v1h-9.23zM283.63 527.96h9.23v1h-9.23zM283.63 532.88h9.23v1h-9.23zM283.63 536.39h9.23v1h-9.23z"/><path fill="#a9b4d8" d="M292.57 514.62h9.23v1h-9.23zM292.57 516.02h9.23v1h-9.23zM292.57 517.43h9.23v1h-9.23zM292.57 521.64h9.23v1h-9.23zM292.57 525.85h9.23v1h-9.23zM292.57 532.17h9.23v1h-9.23z"/><path fill="#c8b0c0" d="M283.63 515.32h9.23v1h-9.23zM283.63 523.05h9.23v1h-9.23z"/><path fill="#cbb2c1" d="M292.57 515.32h9.23v1h-9.23zM292.57 532.88h9.23v1h-9.23zM292.57 536.39h9.23v1h-9.23zM292.57 537.09h9.23v1h-9.23z"/><path fill="#d3392e" d="M265.77 516.73h9.23v1h-9.23z"/><path fill="#d6b0b8" d="M292.57 518.13h9.23v1h-9.23z"/><path fill="#bcb1c9" d="M283.63 518.83h9.23v1h-9.23zM283.63 522.34h9.23v1h-9.23z"/><path fill="#bab6d0" d="M292.57 519.53h9.23v1h-9.23zM292.57 523.05h9.23v1h-9.23zM292.57 525.15h9.23v1h-9.23zM292.57 527.26h9.23v1h-9.23zM292.57 529.37h9.23v1h-9.23zM292.57 533.58h9.23v1h-9.23z"/><path fill="#7992c8" d="M247.9 520.24h9.23v1h-9.23z"/><path fill="#96a8d2" d="M247.9 520.94h9.23v1h-9.23zM247.9 521.64h9.23v1h-9.23zM247.9 523.05h9.23v1h-9.23zM247.9 537.09h9.23v1h-9.23zM247.9 537.79h9.23v1h-9.23zM247.9 578.93h9.23v1h-9.23zM247.9 581.02h9.23v1h-9.23z"/><path fill="#899fcf" d="M247.9 523.75h9.23v1h-9.23zM247.9 527.26h9.23v1h-9.23zM247.9 528.66h9.23v1h-9.23zM247.9 532.17h9.23v1h-9.23zM247.9 532.88h9.23v1h-9.23zM247.9 546.2h9.23v1h-9.23zM247.9 556.64h9.23v1h-9.23zM247.9 562.91h9.23v1h-9.23zM247.9 563.61h9.23v1h-9.23zM247.9 566.39h9.23v1h-9.23zM247.9 571.27h9.23v1h-9.23zM247.9 572.66h9.23v1h-9.23zM247.9 574.06h9.23v1h-9.23zM247.9 580.32h9.23v1h-9.23zM247.9 581.72h9.23v1h-9.23z"/><path fill="#8d9ecd" d="M283.63 523.75h9.23v1h-9.23z"/><path fill="#aab4d7" d="M283.63 525.85h9.23v1h-9.23zM283.63 526.56h9.23v1h-9.23zM283.63 529.37h9.23v1h-9.23zM283.63 532.17h9.23v1h-9.23zM283.63 537.79h9.23v1h-9.23zM283.63 538.5h9.23v1h-9.23z"/><path fill="#afb9da" d="M292.57 526.56h9.23v1h-9.23zM292.57 531.47h9.23v1h-9.23zM292.57 534.28h9.23v1h-9.23zM292.57 537.79h9.23v1h-9.23z"/><path fill="#99a7d1" d="M283.63 528.66h9.23v1h-9.23z"/><path fill="#cf969d" d="M283.63 530.07h9.23v1h-9.23z"/><path fill="#d1989e" d="M292.57 530.07h9.23v1h-9.23z"/><path fill="#a3b0d5" d="M247.9 530.77h9.23v1h-9.23zM247.9 569.88h9.23v1h-9.23z"/><path fill="#dc574b" d="M265.77 530.77h9.23v1h-9.23zM283.63 564.31h9.23v1h-9.23z"/><path fill="#bf8c99" d="M247.9 534.98h9.23v1h-9.23zM247.9 567.79h9.23v1h-9.23z"/><path fill="#93a2cf" d="M283.63 539.2h9.23v1h-9.23z"/><path fill="#90a1cf" d="M292.57 539.2h9.23v1h-9.23z"/><path fill="#98a8d3" d="M307.7 509h9.12v1h-9.12zM307.7 529.37h9.12v1h-9.12zM307.7 533.58h9.12v1h-9.12zM307.7 539.2h9.12v1h-9.12z"/><path fill="#9ba9d3" d="M316.52 509h9.12v1h-9.12zM316.52 511.81h9.12v1h-9.12zM316.52 512.51h9.12v1h-9.12zM316.52 513.92h9.12v1h-9.12zM316.52 516.02h9.12v1h-9.12zM316.52 519.53h9.12v1h-9.12zM316.52 527.96h9.12v1h-9.12zM316.52 529.37h9.12v1h-9.12zM316.52 530.07h9.12v1h-9.12zM316.52 534.98h9.12v1h-9.12zM316.52 537.09h9.12v1h-9.12zM316.52 539.2h9.12v1h-9.12z"/><path fill="#da4b41" d="M325.33 509h9.12v1h-9.12zM325.33 514.62h9.12v1h-9.12zM325.33 537.79h9.12v1h-9.12z"/><path fill="#db5147" d="M334.15 509h9.12v1h-9.12zM334.15 537.79h9.12v1h-9.12z"/><path fill="#9baad2" d="M342.97 509h9.12v1h-9.12zM342.97 511.11h9.12v1h-9.12zM342.97 511.81h9.12v1h-9.12zM342.97 512.51h9.12v1h-9.12zM342.97 513.21h9.12v1h-9.12zM342.97 523.75h9.12v1h-9.12zM342.97 525.85h9.12v1h-9.12zM342.97 528.66h9.12v1h-9.12zM342.97 529.37h9.12v1h-9.12zM342.97 530.07h9.12v1h-9.12zM342.97 531.47h9.12v1h-9.12zM342.97 533.58h9.12v1h-9.12zM342.97 538.5h9.12v1h-9.12z"/><path fill="#a5afd4" d="M351.78 509h9.12v1h-9.12zM351.78 516.02h9.12v1h-9.12zM351.78 523.05h9.12v1h-9.12zM351.78 523.75h9.12v1h-9.12zM351.78 525.85h9.12v1h-9.12zM351.78 527.96h9.12v1h-9.12zM351.78 529.37h9.12v1h-9.12zM351.78 530.07h9.12v1h-9.12zM351.78 532.88h9.12v1h-9.12z"/><path fill="#9eacd4" d="M307.7 509.7h9.12v1h-9.12zM307.7 523.75h9.12v1h-9.12zM307.7 535.69h9.12v1h-9.12z"/><path fill="#abb3d7" d="M316.52 509.7h9.12v1h-9.12zM316.52 537.79h9.12v1h-9.12z"/><path fill="#d63a31" d="M325.33 509.7h9.12v1h-9.12zM325.33 513.92h9.12v1h-9.12zM325.33 521.64h9.12v1h-9.12zM325.33 525.15h9.12v1h-9.12zM325.33 530.07h9.12v1h-9.12z"/><path fill="#d53a30" d="M334.15 509.7h9.12v1h-9.12z"/><path fill="#90a1ce" d="M342.97 509.7h9.12v1h-9.12zM342.97 513.92h9.12v1h-9.12zM342.97 520.94h9.12v1h-9.12zM342.97 527.26h9.12v1h-9.12zM342.97 530.77h9.12v1h-9.12zM342.97 534.28h9.12v1h-9.12z"/><path fill="#a1acd3" d="M351.78 509.7h9.12v1h-9.12zM351.78 511.11h9.12v1h-9.12zM351.78 512.51h9.12v1h-9.12zM351.78 513.21h9.12v1h-9.12zM351.78 520.94h9.12v1h-9.12zM351.78 522.34h9.12v1h-9.12zM351.78 525.15h9.12v1h-9.12zM351.78 527.26h9.12v1h-9.12zM351.78 530.77h9.12v1h-9.12zM351.78 531.47h9.12v1h-9.12zM351.78 533.58h9.12v1h-9.12zM351.78 536.39h9.12v1h-9.12z"/><path fill="#8ca0d0" d="M307.7 510.4h9.12v1h-9.12zM307.7 513.92h9.12v1h-9.12zM307.7 516.02h9.12v1h-9.12zM307.7 517.43h9.12v1h-9.12zM307.7 525.15h9.12v1h-9.12zM307.7 525.85h9.12v1h-9.12zM307.7 530.07h9.12v1h-9.12zM307.7 531.47h9.12v1h-9.12zM307.7 532.17h9.12v1h-9.12zM307.7 534.28h9.12v1h-9.12zM307.7 534.98h9.12v1h-9.12zM307.7 537.09h9.12v1h-9.12z"/><path fill="#a0acd5" d="M316.52 510.4h9.12v1h-9.12zM316.52 514.62h9.12v1h-9.12zM316.52 516.73h9.12v1h-9.12zM316.52 524.45h9.12v1h-9.12zM316.52 535.69h9.12v1h-9.12z"/><path fill="#d63b31" d="M325.33 510.4h9.12v1h-9.12zM325.33 513.21h9.12v1h-9.12zM325.33 518.13h9.12v1h-9.12zM325.33 518.83h9.12v1h-9.12zM325.33 523.75h9.12v1h-9.12zM325.33 528.66h9.12v1h-9.12zM325.33 532.17h9.12v1h-9.12zM325.33 537.09h9.12v1h-9.12zM325.33 538.5h9.12v1h-9.12z"/><path fill="#d63b31" d="M334.15 510.4h9.12v1h-9.12zM334.15 519.53h9.12v1h-9.12zM334.15 520.94h9.12v1h-9.12zM334.15 523.75h9.12v1h-9.12zM334.15 526.56h9.12v1h-9.12z"/><path fill="#94a4cf" d="M342.97 510.4h9.12v1h-9.12zM342.97 516.02h9.12v1h-9.12zM342.97 516.73h9.12v1h-9.12zM342.97 518.13h9.12v1h-9.12zM342.97 522.34h9.12v1h-9.12z"/><path fill="#94a2ce" d="M351.78 510.4h9.12v1h-9.12zM351.78 518.13h9.12v1h-9.12z"/><path fill="#92a4d1" d="M307.7 511.11h9.12v1h-9.12zM307.7 514.62h9.12v1h-9.12zM307.7 516.73h9.12v1h-9.12zM307.7 518.83h9.12v1h-9.12zM307.7 522.34h9.12v1h-9.12zM307.7 537.79h9.12v1h-9.12z"/><path fill="#96a5d2" d="M316.52 511.11h9.12v1h-9.12zM316.52 525.85h9.12v1h-9.12zM316.52 532.17h9.12v1h-9.12zM316.52 534.28h9.12v1h-9.12z"/><path fill="#d5392f" d="M325.33 511.11h9.12v1h-9.12zM325.33 515.32h9.12v1h-9.12zM325.33 530.77h9.12v1h-9.12zM325.33 533.58h9.12v1h-9.12z"/><path fill="#d63c32" d="M334.15 511.11h9.12v1h-9.12zM334.15 516.73h9.12v1h-9.12zM334.15 518.13h9.12v1h-9.12zM334.15 525.85h9.12v1h-9.12zM334.15 528.66h9.12v1h-9.12zM334.15 530.07h9.12v1h-9.12zM334.15 532.17h9.12v1h-9.12zM334.15 538.5h9.12v1h-9.12z"/><path fill="#a4b0d6" d="M307.7 511.81h9.12v1h-9.12zM307.7 536.39h9.12v1h-9.12z"/><path fill="#d84137" d="M325.33 511.81h9.12v1h-9.12zM325.33 516.02h9.12v1h-9.12zM325.33 524.45h9.12v1h-9.12zM325.33 532.88h9.12v1h-9.12zM325.33 534.28h9.12v1h-9.12zM325.33 535.69h9.12v1h-9.12z"/><path fill="#d84238" d="M334.15 511.81h9.12v1h-9.12zM334.15 512.51h9.12v1h-9.12zM334.15 513.21h9.12v1h-9.12zM334.15 516.02h9.12v1h-9.12zM334.15 517.43h9.12v1h-9.12zM334.15 523.05h9.12v1h-9.12zM334.15 527.96h9.12v1h-9.12zM334.15 529.37h9.12v1h-9.12zM334.15 534.28h9.12v1h-9.12zM334.15 535.69h9.12v1h-9.12zM334.15 539.2h9.12v1h-9.12z"/><path fill="#a9b2d5" d="M351.78 511.81h9.12v1h-9.12zM351.78 517.43h9.12v1h-9.12zM351.78 526.56h9.12v1h-9.12zM351.78 539.2h9.12v1h-9.12z"/><path fill="#879cce" d="M307.7 512.51h9.12v1h-9.12zM307.7 519.53h9.12v1h-9.12zM307.7 524.45h9.12v1h-9.12zM307.7 527.26h9.12v1h-9.12zM307.7 528.66h9.12v1h-9.12zM307.7 530.77h9.12v1h-9.12z"/><path fill="#db5046" d="M325.33 512.51h9.12v1h-9.12zM325.33 527.26h9.12v1h-9.12zM325.33 536.39h9.12v1h-9.12z"/><path fill="#849acd" d="M307.7 513.21h9.12v1h-9.12zM307.7 523.05h9.12v1h-9.12zM307.7 538.5h9.12v1h-9.12z"/><path fill="#8c9dce" d="M316.52 513.21h9.12v1h-9.12zM316.52 538.5h9.12v1h-9.12z"/><path fill="#d73d33" d="M334.15 513.92h9.12v1h-9.12zM334.15 518.83h9.12v1h-9.12zM334.15 532.88h9.12v1h-9.12z"/><path fill="#9ca9d1" d="M351.78 513.92h9.12v1h-9.12zM351.78 515.32h9.12v1h-9.12zM351.78 524.45h9.12v1h-9.12zM351.78 528.66h9.12v1h-9.12zM351.78 538.5h9.12v1h-9.12z"/><path fill="#da4c42" d="M334.15 514.62h9.12v1h-9.12zM334.15 520.24h9.12v1h-9.12zM334.15 524.45h9.12v1h-9.12zM334.15 527.26h9.12v1h-9.12z"/><path fill="#c9929b" d="M342.97 514.62h9.12v1h-9.12zM342.97 534.98h9.12v1h-9.12z"/><path fill="#cd949c" d="M351.78 514.62h9.12v1h-9.12zM351.78 534.98h9.12v1h-9.12z"/><path fill="#8297cb" d="M307.7 515.32h9.12v1h-9.12zM307.7 518.13h9.12v1h-9.12zM307.7 520.94h9.12v1h-9.12z"/><path fill="#90a0cf" d="M316.52 515.32h9.12v1h-9.12zM316.52 517.43h9.12v1h-9.12zM316.52 518.83h9.12v1h-9.12zM316.52 520.94h9.12v1h-9.12zM316.52 523.05h9.12v1h-9.12zM316.52 528.66h9.12v1h-9.12zM316.52 530.77h9.12v1h-9.12zM316.52 532.88h9.12v1h-9.12z"/><path fill="#d4392f" d="M334.15 515.32h9.12v1h-9.12z"/><path fill="#97a7d1" d="M342.97 515.32h9.12v1h-9.12zM342.97 524.45h9.12v1h-9.12zM342.97 527.96h9.12v1h-9.12zM342.97 532.17h9.12v1h-9.12zM342.97 536.39h9.12v1h-9.12z"/><path fill="#d53a30" d="M325.33 516.73h9.12v1h-9.12z"/><path fill="#98a5d0" d="M351.78 516.73h9.12v1h-9.12zM351.78 532.17h9.12v1h-9.12zM351.78 534.28h9.12v1h-9.12z"/><path fill="#d9463c" d="M325.33 517.43h9.12v1h-9.12zM325.33 523.05h9.12v1h-9.12zM325.33 527.96h9.12v1h-9.12zM325.33 531.47h9.12v1h-9.12zM325.33 534.98h9.12v1h-9.12zM325.33 539.2h9.12v1h-9.12z"/><path fill="#a0add3" d="M342.97 517.43h9.12v1h-9.12zM342.97 525.15h9.12v1h-9.12zM342.97 526.56h9.12v1h-9.12zM342.97 535.69h9.12v1h-9.12z"/><path fill="#899bcd" d="M316.52 518.13h9.12v1h-9.12zM316.52 527.26h9.12v1h-9.12z"/><path fill="#8599ca" d="M342.97 518.83h9.12v1h-9.12z"/><path fill="#8798ca" d="M351.78 518.83h9.12v1h-9.12z"/><path fill="#d73c32" d="M325.33 519.53h9.12v1h-9.12zM325.33 520.24h9.12v1h-9.12zM325.33 520.94h9.12v1h-9.12zM325.33 525.85h9.12v1h-9.12zM325.33 526.56h9.12v1h-9.12zM325.33 529.37h9.12v1h-9.12z"/><path fill="#8296c9" d="M342.97 519.53h9.12v1h-9.12z"/><path fill="#8295c8" d="M351.78 519.53h9.12v1h-9.12z"/><path fill="#c38e9a" d="M307.7 520.24h9.12v1h-9.12z"/><path fill="#c7909b" d="M316.52 520.24h9.12v1h-9.12z"/><path fill="#a9b4d6" d="M342.97 520.24h9.12v1h-9.12z"/><path fill="#adb5d6" d="M351.78 520.24h9.12v1h-9.12z"/><path fill="#899ecf" d="M307.7 521.64h9.12v1h-9.12zM307.7 526.56h9.12v1h-9.12zM307.7 527.96h9.12v1h-9.12zM307.7 532.88h9.12v1h-9.12z"/><path fill="#8698cc" d="M316.52 521.64h9.12v1h-9.12z"/><path fill="#d53a31" d="M334.15 521.64h9.12v1h-9.12zM334.15 525.15h9.12v1h-9.12zM334.15 530.77h9.12v1h-9.12zM334.15 533.58h9.12v1h-9.12zM334.15 537.09h9.12v1h-9.12z"/><path fill="#a5b0d5" d="M342.97 521.64h9.12v1h-9.12zM342.97 523.05h9.12v1h-9.12zM342.97 532.88h9.12v1h-9.12zM342.97 539.2h9.12v1h-9.12z"/><path fill="#b5bad9" d="M351.78 521.64h9.12v1h-9.12z"/><path fill="#93a2d1" d="M316.52 522.34h9.12v1h-9.12zM316.52 525.15h9.12v1h-9.12zM316.52 526.56h9.12v1h-9.12zM316.52 531.47h9.12v1h-9.12z"/><path fill="#d4382e" d="M325.33 522.34h9.12v1h-9.12z"/><path fill="#d3382e" d="M334.15 522.34h9.12v1h-9.12z"/><path fill="#a6b0d6" d="M316.52 523.75h9.12v1h-9.12zM316.52 533.58h9.12v1h-9.12zM316.52 536.39h9.12v1h-9.12z"/><path fill="#d9473d" d="M334.15 531.47h9.12v1h-9.12zM334.15 534.98h9.12v1h-9.12z"/><path fill="#b1b7d7" d="M351.78 535.69h9.12v1h-9.12zM351.78 537.79h9.12v1h-9.12z"/><path fill="#dc564c" d="M334.15 536.39h9.12v1h-9.12z"/><path fill="#b8bdda" d="M342.97 537.09h9.12v1h-9.12z"/><path fill="#babdda" d="M351.78 537.09h9.12v1h-9.12z"/><path fill="#aeb7d7" d="M342.97 537.79h9.12v1h-9.12z"/><path fill="#7a93c9" d="M256.83 545.5h9.23v1h-9.23zM256.83 546.2h9.23v1h-9.23zM256.83 546.89h9.23v1h-9.23zM256.83 549.68h9.23v1h-9.23zM256.83 555.95h9.23v1h-9.23zM256.83 558.73h9.23v1h-9.23zM256.83 561.52h9.23v1h-9.23zM256.83 570.57h9.23v1h-9.23zM256.83 571.27h9.23v1h-9.23zM256.83 575.45h9.23v1h-9.23zM256.83 576.15h9.23v1h-9.23zM256.83 582.41h9.23v1h-9.23z"/><path fill="#a7b3d7" d="M265.77 545.5h9.23v1h-9.23zM265.77 553.16h9.23v1h-9.23zM265.77 559.43h9.23v1h-9.23zM265.77 561.52h9.23v1h-9.23zM265.77 582.41h9.23v1h-9.23zM265.77 583.81h9.23v1h-9.23z"/><path fill="#a4b2d6" d="M274.7 545.5h9.23v1h-9.23zM274.7 553.16h9.23v1h-9.23z"/><path fill="#b4bedc" d="M265.77 546.2h9.23v1h-9.23zM265.77 550.38h9.23v1h-9.23zM265.77 552.46h9.23v1h-9.23zM265.77 560.13h9.23v1h-9.23zM265.77 567.79h9.23v1h-9.23zM265.77 569.88h9.23v1h-9.23zM265.77 574.75h9.23v1h-9.23zM265.77 575.45h9.23v1h-9.23zM265.77 577.54h9.23v1h-9.23zM265.77 578.24h9.23v1h-9.23zM265.77 584.5h9.23v1h-9.23z"/><path fill="#b2bddb" d="M274.7 546.2h9.23v1h-9.23zM274.7 555.25h9.23v1h-9.23zM274.7 560.13h9.23v1h-9.23zM274.7 562.22h9.23v1h-9.23zM274.7 563.61h9.23v1h-9.23zM274.7 564.31h9.23v1h-9.23zM274.7 567.79h9.23v1h-9.23zM274.7 572.66h9.23v1h-9.23zM274.7 573.36h9.23v1h-9.23zM274.7 579.63h9.23v1h-9.23zM274.7 582.41h9.23v1h-9.23z"/><path fill="#9aa9d2" d="M265.77 546.89h9.23v1h-9.23zM265.77 558.73h9.23v1h-9.23zM265.77 560.82h9.23v1h-9.23zM265.77 579.63h9.23v1h-9.23z"/><path fill="#abb8d9" d="M274.7 546.89h9.23v1h-9.23zM274.7 551.77h9.23v1h-9.23zM274.7 552.46h9.23v1h-9.23zM274.7 554.55h9.23v1h-9.23zM274.7 559.43h9.23v1h-9.23zM274.7 561.52h9.23v1h-9.23zM274.7 562.91h9.23v1h-9.23zM274.7 576.15h9.23v1h-9.23zM274.7 580.32h9.23v1h-9.23z"/><path fill="#9cacd4" d="M247.9 547.59h9.23v1h-9.23zM247.9 548.98h9.23v1h-9.23zM247.9 555.25h9.23v1h-9.23zM247.9 560.82h9.23v1h-9.23z"/><path fill="#92a4d0" d="M256.83 547.59h9.23v1h-9.23zM256.83 555.25h9.23v1h-9.23zM256.83 558.04h9.23v1h-9.23zM256.83 560.82h9.23v1h-9.23zM256.83 571.97h9.23v1h-9.23zM256.83 578.93h9.23v1h-9.23zM256.83 581.02h9.23v1h-9.23z"/><path fill="#d3b3bd" d="M265.77 547.59h9.23v1h-9.23z"/><path fill="#bec1d9" d="M274.7 547.59h9.23v1h-9.23zM274.7 549.68h9.23v1h-9.23zM274.7 556.64h9.23v1h-9.23zM274.7 558.04h9.23v1h-9.23zM274.7 565h9.23v1h-9.23zM274.7 566.39h9.23v1h-9.23zM274.7 569.18h9.23v1h-9.23zM274.7 570.57h9.23v1h-9.23zM274.7 571.27h9.23v1h-9.23zM274.7 574.06h9.23v1h-9.23zM274.7 574.75h9.23v1h-9.23zM274.7 575.45h9.23v1h-9.23z"/><path fill="#7992c8" d="M256.83 548.29h9.23v1h-9.23zM256.83 553.16h9.23v1h-9.23zM256.83 568.48h9.23v1h-9.23zM256.83 579.63h9.23v1h-9.23z"/><path fill="#c3b9cd" d="M265.77 548.29h9.23v1h-9.23zM265.77 553.86h9.23v1h-9.23zM265.77 565h9.23v1h-9.23zM265.77 566.39h9.23v1h-9.23z"/><path fill="#c7bcce" d="M274.7 548.29h9.23v1h-9.23zM274.7 551.07h9.23v1h-9.23zM274.7 567.09h9.23v1h-9.23zM274.7 569.88h9.23v1h-9.23z"/><path fill="#99a8d1" d="M256.83 548.98h9.23v1h-9.23zM256.83 564.31h9.23v1h-9.23zM256.83 569.88h9.23v1h-9.23z"/><path fill="#b9bcd7" d="M265.77 548.98h9.23v1h-9.23zM265.77 549.68h9.23v1h-9.23zM265.77 555.25h9.23v1h-9.23zM265.77 555.95h9.23v1h-9.23zM265.77 556.64h9.23v1h-9.23zM265.77 557.34h9.23v1h-9.23zM265.77 562.22h9.23v1h-9.23zM265.77 564.31h9.23v1h-9.23zM265.77 569.18h9.23v1h-9.23zM265.77 570.57h9.23v1h-9.23zM265.77 571.27h9.23v1h-9.23zM265.77 576.15h9.23v1h-9.23zM265.77 581.72h9.23v1h-9.23z"/><path fill="#c2bfd3" d="M274.7 548.98h9.23v1h-9.23zM274.7 550.38h9.23v1h-9.23zM274.7 557.34h9.23v1h-9.23zM274.7 565.7h9.23v1h-9.23zM274.7 577.54h9.23v1h-9.23zM274.7 581.72h9.23v1h-9.23z"/><path fill="#df6055" d="M292.57 548.98h9.23v1h-9.23z"/><path fill="#8b9fce" d="M256.83 550.38h9.23v1h-9.23zM256.83 553.86h9.23v1h-9.23zM256.83 562.22h9.23v1h-9.23zM256.83 563.61h9.23v1h-9.23zM256.83 566.39h9.23v1h-9.23zM256.83 573.36h9.23v1h-9.23zM256.83 574.06h9.23v1h-9.23zM256.83 581.72h9.23v1h-9.23z"/><path fill="#7790c7" d="M256.83 551.07h9.23v1h-9.23zM256.83 559.43h9.23v1h-9.23z"/><path fill="#ceb5c2" d="M265.77 551.07h9.23v1h-9.23z"/><path fill="#7d96ca" d="M256.83 551.77h9.23v1h-9.23zM256.83 552.46h9.23v1h-9.23zM256.83 554.55h9.23v1h-9.23zM256.83 556.64h9.23v1h-9.23zM256.83 557.34h9.23v1h-9.23zM256.83 567.09h9.23v1h-9.23zM256.83 572.66h9.23v1h-9.23zM256.83 583.11h9.23v1h-9.23zM256.83 583.81h9.23v1h-9.23zM256.83 584.5h9.23v1h-9.23z"/><path fill="#adb9da" d="M265.77 551.77h9.23v1h-9.23zM265.77 574.06h9.23v1h-9.23zM265.77 578.93h9.23v1h-9.23zM265.77 580.32h9.23v1h-9.23z"/><path fill="#ccbac9" d="M274.7 553.86h9.23v1h-9.23z"/><path fill="#a0aed5" d="M265.77 554.55h9.23v1h-9.23zM265.77 563.61h9.23v1h-9.23zM265.77 572.66h9.23v1h-9.23zM265.77 573.36h9.23v1h-9.23z"/><path fill="#b9c3de" d="M274.7 555.95h9.23v1h-9.23zM274.7 571.97h9.23v1h-9.23zM274.7 578.24h9.23v1h-9.23zM274.7 578.93h9.23v1h-9.23zM274.7 581.02h9.23v1h-9.23zM274.7 583.11h9.23v1h-9.23zM274.7 583.81h9.23v1h-9.23zM274.7 584.5h9.23v1h-9.23z"/><path fill="#bebad2" d="M265.77 558.04h9.23v1h-9.23zM265.77 571.97h9.23v1h-9.23zM265.77 581.02h9.23v1h-9.23zM265.77 583.11h9.23v1h-9.23z"/><path fill="#96a6d1" d="M274.7 558.73h9.23v1h-9.23zM274.7 576.84h9.23v1h-9.23z"/><path fill="#849bcc" d="M256.83 560.13h9.23v1h-9.23zM256.83 562.91h9.23v1h-9.23zM256.83 569.18h9.23v1h-9.23zM256.83 574.75h9.23v1h-9.23zM256.83 580.32h9.23v1h-9.23z"/><path fill="#9dacd3" d="M274.7 560.82h9.23v1h-9.23z"/><path fill="#93a4d0" d="M265.77 562.91h9.23v1h-9.23zM265.77 568.48h9.23v1h-9.23zM265.77 576.84h9.23v1h-9.23z"/><path fill="#7c95c9" d="M256.83 565h9.23v1h-9.23zM256.83 565.7h9.23v1h-9.23zM256.83 576.84h9.23v1h-9.23zM256.83 577.54h9.23v1h-9.23zM256.83 578.24h9.23v1h-9.23z"/><path fill="#c8b7c8" d="M265.77 565.7h9.23v1h-9.23zM265.77 567.09h9.23v1h-9.23z"/><path fill="#bd8a98" d="M256.83 567.79h9.23v1h-9.23z"/><path fill="#8fa1ce" d="M274.7 568.48h9.23v1h-9.23z"/><path fill="#98a3cc" d="M307.7 545.5h9.12v1h-9.12zM307.7 549.68h9.12v1h-9.12zM307.7 571.97h9.12v1h-9.12zM307.7 574.75h9.12v1h-9.12zM307.7 576.84h9.12v1h-9.12zM307.7 578.24h9.12v1h-9.12zM307.7 578.93h9.12v1h-9.12zM307.7 581.72h9.12v1h-9.12z"/><path fill="#a4b0d4" d="M316.52 545.5h9.12v1h-9.12zM316.52 578.24h9.12v1h-9.12z"/><path fill="#bebed7" d="M325.33 545.5h9.12v1h-9.12zM325.33 548.98h9.12v1h-9.12zM325.33 551.07h9.12v1h-9.12zM325.33 560.82h9.12v1h-9.12zM325.33 563.61h9.12v1h-9.12zM325.33 564.31h9.12v1h-9.12zM325.33 565h9.12v1h-9.12zM325.33 574.75h9.12v1h-9.12zM325.33 578.24h9.12v1h-9.12zM325.33 579.63h9.12v1h-9.12z"/><path fill="#b9b8d2" d="M334.15 545.5h9.12v1h-9.12zM334.15 548.29h9.12v1h-9.12zM334.15 548.98h9.12v1h-9.12zM334.15 550.38h9.12v1h-9.12zM334.15 551.07h9.12v1h-9.12zM334.15 554.55h9.12v1h-9.12zM334.15 555.95h9.12v1h-9.12zM334.15 558.04h9.12v1h-9.12zM334.15 566.39h9.12v1h-9.12zM334.15 567.79h9.12v1h-9.12zM334.15 572.66h9.12v1h-9.12zM334.15 579.63h9.12v1h-9.12z"/><path fill="#d43c34" d="M342.97 545.5h9.12v1h-9.12zM342.97 554.55h9.12v1h-9.12zM342.97 563.61h9.12v1h-9.12zM342.97 569.88h9.12v1h-9.12zM342.97 571.27h9.12v1h-9.12zM342.97 575.45h9.12v1h-9.12zM342.97 578.24h9.12v1h-9.12zM342.97 579.63h9.12v1h-9.12zM342.97 580.32h9.12v1h-9.12zM342.97 581.02h9.12v1h-9.12zM342.97 582.41h9.12v1h-9.12zM342.97 583.81h9.12v1h-9.12z"/><path fill="#d53d35" d="M351.78 545.5h9.12v1h-9.12zM351.78 548.29h9.12v1h-9.12zM351.78 549.68h9.12v1h-9.12zM351.78 550.38h9.12v1h-9.12zM351.78 554.55h9.12v1h-9.12zM351.78 555.95h9.12v1h-9.12zM351.78 558.73h9.12v1h-9.12zM351.78 560.82h9.12v1h-9.12zM351.78 564.31h9.12v1h-9.12zM351.78 567.79h9.12v1h-9.12zM351.78 572.66h9.12v1h-9.12zM351.78 574.06h9.12v1h-9.12zM351.78 574.75h9.12v1h-9.12zM351.78 576.84h9.12v1h-9.12zM351.78 579.63h9.12v1h-9.12z"/><path fill="#8294c6" d="M307.7 546.2h9.12v1h-9.12zM307.7 558.04h9.12v1h-9.12zM307.7 558.73h9.12v1h-9.12zM307.7 559.43h9.12v1h-9.12zM307.7 563.61h9.12v1h-9.12zM307.7 566.39h9.12v1h-9.12zM307.7 573.36h9.12v1h-9.12z"/><path fill="#849aca" d="M316.52 546.2h9.12v1h-9.12zM316.52 548.29h9.12v1h-9.12zM316.52 555.25h9.12v1h-9.12zM316.52 559.43h9.12v1h-9.12zM316.52 566.39h9.12v1h-9.12zM316.52 567.09h9.12v1h-9.12zM316.52 568.48h9.12v1h-9.12zM316.52 575.45h9.12v1h-9.12zM316.52 577.54h9.12v1h-9.12z"/><path fill="#c2bcd2" d="M325.33 546.2h9.12v1h-9.12zM325.33 548.29h9.12v1h-9.12zM325.33 553.86h9.12v1h-9.12zM325.33 555.95h9.12v1h-9.12zM325.33 556.64h9.12v1h-9.12zM325.33 558.04h9.12v1h-9.12zM325.33 558.73h9.12v1h-9.12zM325.33 566.39h9.12v1h-9.12zM325.33 568.48h9.12v1h-9.12zM325.33 571.27h9.12v1h-9.12zM325.33 573.36h9.12v1h-9.12zM325.33 580.32h9.12v1h-9.12z"/><path fill="#adb4d5" d="M334.15 546.2h9.12v1h-9.12zM334.15 552.46h9.12v1h-9.12zM334.15 568.48h9.12v1h-9.12zM334.15 570.57h9.12v1h-9.12zM334.15 571.97h9.12v1h-9.12zM334.15 580.32h9.12v1h-9.12z"/><path fill="#d43b33" d="M342.97 546.2h9.12v1h-9.12zM342.97 548.29h9.12v1h-9.12zM342.97 549.68h9.12v1h-9.12zM342.97 551.07h9.12v1h-9.12zM342.97 551.77h9.12v1h-9.12zM342.97 555.95h9.12v1h-9.12zM342.97 558.04h9.12v1h-9.12zM342.97 559.43h9.12v1h-9.12zM342.97 560.82h9.12v1h-9.12zM342.97 566.39h9.12v1h-9.12zM342.97 567.79h9.12v1h-9.12zM342.97 574.75h9.12v1h-9.12z"/><path fill="#d43c34" d="M351.78 546.2h9.12v1h-9.12zM351.78 546.89h9.12v1h-9.12zM351.78 560.13h9.12v1h-9.12zM351.78 565.7h9.12v1h-9.12zM351.78 569.88h9.12v1h-9.12zM351.78 575.45h9.12v1h-9.12zM351.78 580.32h9.12v1h-9.12zM351.78 582.41h9.12v1h-9.12z"/><path fill="#8496c6" d="M307.7 546.89h9.12v1h-9.12zM307.7 548.29h9.12v1h-9.12zM307.7 553.86h9.12v1h-9.12zM307.7 555.25h9.12v1h-9.12zM307.7 583.11h9.12v1h-9.12z"/><path fill="#899ecc" d="M316.52 546.89h9.12v1h-9.12zM316.52 547.59h9.12v1h-9.12zM316.52 550.38h9.12v1h-9.12zM316.52 557.34h9.12v1h-9.12zM316.52 560.82h9.12v1h-9.12zM316.52 563.61h9.12v1h-9.12zM316.52 565.7h9.12v1h-9.12zM316.52 569.18h9.12v1h-9.12zM316.52 571.27h9.12v1h-9.12zM316.52 574.06h9.12v1h-9.12zM316.52 574.75h9.12v1h-9.12zM316.52 579.63h9.12v1h-9.12z"/><path fill="#b7b9d5" d="M325.33 546.89h9.12v1h-9.12zM325.33 547.59h9.12v1h-9.12zM325.33 549.68h9.12v1h-9.12zM325.33 552.46h9.12v1h-9.12zM325.33 572.66h9.12v1h-9.12zM325.33 576.15h9.12v1h-9.12zM325.33 583.81h9.12v1h-9.12z"/><path fill="#a0aad1" d="M334.15 546.89h9.12v1h-9.12zM334.15 547.59h9.12v1h-9.12zM334.15 559.43h9.12v1h-9.12zM334.15 560.13h9.12v1h-9.12zM334.15 565.7h9.12v1h-9.12zM334.15 569.18h9.12v1h-9.12zM334.15 574.06h9.12v1h-9.12zM334.15 578.93h9.12v1h-9.12zM334.15 582.41h9.12v1h-9.12z"/><path fill="#d33a32" d="M342.97 546.89h9.12v1h-9.12zM342.97 557.34h9.12v1h-9.12zM342.97 565.7h9.12v1h-9.12z"/><path fill="#8c9bc8" d="M307.7 547.59h9.12v1h-9.12zM307.7 554.55h9.12v1h-9.12zM307.7 556.64h9.12v1h-9.12zM307.7 560.82h9.12v1h-9.12zM307.7 564.31h9.12v1h-9.12zM307.7 565h9.12v1h-9.12zM307.7 567.79h9.12v1h-9.12zM307.7 570.57h9.12v1h-9.12zM307.7 580.32h9.12v1h-9.12zM307.7 582.41h9.12v1h-9.12zM307.7 583.81h9.12v1h-9.12z"/><path fill="#d6463e" d="M342.97 547.59h9.12v1h-9.12zM342.97 550.38h9.12v1h-9.12zM342.97 553.16h9.12v1h-9.12zM342.97 568.48h9.12v1h-9.12zM342.97 573.36h9.12v1h-9.12zM342.97 576.15h9.12v1h-9.12z"/><path fill="#d7473f" d="M351.78 547.59h9.12v1h-9.12zM351.78 562.91h9.12v1h-9.12zM351.78 563.61h9.12v1h-9.12zM351.78 569.18h9.12v1h-9.12zM351.78 571.97h9.12v1h-9.12zM351.78 576.15h9.12v1h-9.12zM351.78 577.54h9.12v1h-9.12z"/><path fill="#929fca" d="M307.7 548.98h9.12v1h-9.12zM307.7 550.38h9.12v1h-9.12zM307.7 552.46h9.12v1h-9.12zM307.7 555.95h9.12v1h-9.12zM307.7 561.52h9.12v1h-9.12zM307.7 577.54h9.12v1h-9.12z"/><path fill="#8ca0cd" d="M316.52 548.98h9.12v1h-9.12zM316.52 555.95h9.12v1h-9.12zM316.52 565h9.12v1h-9.12zM316.52 567.79h9.12v1h-9.12zM316.52 569.88h9.12v1h-9.12zM316.52 571.97h9.12v1h-9.12zM316.52 581.02h9.12v1h-9.12zM316.52 581.72h9.12v1h-9.12zM316.52 582.41h9.12v1h-9.12z"/><path fill="#d33a32" d="M342.97 548.98h9.12v1h-9.12zM342.97 558.73h9.12v1h-9.12zM342.97 560.13h9.12v1h-9.12zM342.97 565h9.12v1h-9.12zM342.97 567.09h9.12v1h-9.12zM342.97 570.57h9.12v1h-9.12zM342.97 576.84h9.12v1h-9.12z"/><path fill="#d33a32" d="M351.78 548.98h9.12v1h-9.12zM351.78 551.77h9.12v1h-9.12zM351.78 555.25h9.12v1h-9.12zM351.78 567.09h9.12v1h-9.12z"/><path fill="#92a4cf" d="M316.52 549.68h9.12v1h-9.12zM316.52 578.93h9.12v1h-9.12zM316.52 580.32h9.12v1h-9.12z"/><path fill="#a7afd3" d="M334.15 549.68h9.12v1h-9.12zM334.15 555.25h9.12v1h-9.12zM334.15 564.31h9.12v1h-9.12z"/><path fill="#c6bace" d="M325.33 550.38h9.12v1h-9.12zM325.33 553.16h9.12v1h-9.12zM325.33 562.91h9.12v1h-9.12zM325.33 567.79h9.12v1h-9.12zM325.33 569.88h9.12v1h-9.12zM325.33 584.5h9.12v1h-9.12z"/><path fill="#a4acd0" d="M307.7 551.07h9.12v1h-9.12z"/><path fill="#98a8d0" d="M316.52 551.07h9.12v1h-9.12zM316.52 551.77h9.12v1h-9.12zM316.52 552.46h9.12v1h-9.12zM316.52 554.55h9.12v1h-9.12zM316.52 556.64h9.12v1h-9.12zM316.52 561.52h9.12v1h-9.12zM316.52 583.81h9.12v1h-9.12z"/><path fill="#d6423a" d="M351.78 551.07h9.12v1h-9.12zM351.78 553.86h9.12v1h-9.12zM351.78 556.64h9.12v1h-9.12zM351.78 558.04h9.12v1h-9.12zM351.78 559.43h9.12v1h-9.12zM351.78 561.52h9.12v1h-9.12zM351.78 566.39h9.12v1h-9.12zM351.78 571.27h9.12v1h-9.12zM351.78 578.93h9.12v1h-9.12zM351.78 581.02h9.12v1h-9.12zM351.78 583.81h9.12v1h-9.12zM351.78 584.5h9.12v1h-9.12z"/><path fill="#aab0d2" d="M307.7 551.77h9.12v1h-9.12z"/><path fill="#d79a9d" d="M325.33 551.77h9.12v1h-9.12zM325.33 557.34h9.12v1h-9.12zM325.33 562.22h9.12v1h-9.12z"/><path fill="#d3989d" d="M334.15 551.77h9.12v1h-9.12zM334.15 557.34h9.12v1h-9.12zM334.15 562.22h9.12v1h-9.12z"/><path fill="#d23931" d="M342.97 552.46h9.12v1h-9.12zM342.97 555.25h9.12v1h-9.12z"/><path fill="#d43b33" d="M351.78 552.46h9.12v1h-9.12zM351.78 553.16h9.12v1h-9.12zM351.78 557.34h9.12v1h-9.12zM351.78 570.57h9.12v1h-9.12z"/><path fill="#c38c97" d="M307.7 553.16h9.12v1h-9.12zM307.7 562.91h9.12v1h-9.12z"/><path fill="#c38e99" d="M316.52 553.16h9.12v1h-9.12zM316.52 562.91h9.12v1h-9.12z"/><path fill="#beb6ce" d="M334.15 553.16h9.12v1h-9.12zM334.15 571.27h9.12v1h-9.12zM334.15 574.75h9.12v1h-9.12zM334.15 583.11h9.12v1h-9.12zM334.15 584.5h9.12v1h-9.12z"/><path fill="#879ccb" d="M316.52 553.86h9.12v1h-9.12zM316.52 558.04h9.12v1h-9.12zM316.52 558.73h9.12v1h-9.12zM316.52 570.57h9.12v1h-9.12zM316.52 572.66h9.12v1h-9.12zM316.52 583.11h9.12v1h-9.12z"/><path fill="#c3b5c9" d="M334.15 553.86h9.12v1h-9.12zM334.15 556.64h9.12v1h-9.12zM334.15 573.36h9.12v1h-9.12zM334.15 575.45h9.12v1h-9.12z"/><path fill="#d54139" d="M342.97 553.86h9.12v1h-9.12zM342.97 556.64h9.12v1h-9.12zM342.97 561.52h9.12v1h-9.12zM342.97 562.22h9.12v1h-9.12zM342.97 564.31h9.12v1h-9.12zM342.97 571.97h9.12v1h-9.12zM342.97 572.66h9.12v1h-9.12zM342.97 574.06h9.12v1h-9.12zM342.97 578.93h9.12v1h-9.12zM342.97 581.72h9.12v1h-9.12zM342.97 584.5h9.12v1h-9.12z"/><path fill="#cfb7c4" d="M325.33 554.55h9.12v1h-9.12zM325.33 575.45h9.12v1h-9.12zM325.33 581.72h9.12v1h-9.12z"/><path fill="#a8aed1" d="M325.33 555.25h9.12v1h-9.12zM325.33 565.7h9.12v1h-9.12zM325.33 570.57h9.12v1h-9.12zM325.33 571.97h9.12v1h-9.12zM325.33 574.06h9.12v1h-9.12zM325.33 577.54h9.12v1h-9.12z"/><path fill="#8999c7" d="M307.7 557.34h9.12v1h-9.12zM307.7 571.27h9.12v1h-9.12zM307.7 579.63h9.12v1h-9.12z"/><path fill="#b4b9d7" d="M334.15 558.73h9.12v1h-9.12zM334.15 560.82h9.12v1h-9.12zM334.15 562.91h9.12v1h-9.12zM334.15 563.61h9.12v1h-9.12zM334.15 565h9.12v1h-9.12zM334.15 576.15h9.12v1h-9.12zM334.15 576.84h9.12v1h-9.12zM334.15 577.54h9.12v1h-9.12zM334.15 578.24h9.12v1h-9.12zM334.15 581.02h9.12v1h-9.12zM334.15 583.81h9.12v1h-9.12z"/><path fill="#afb3d3" d="M325.33 559.43h9.12v1h-9.12zM325.33 567.09h9.12v1h-9.12zM325.33 569.18h9.12v1h-9.12zM325.33 581.02h9.12v1h-9.12z"/><path fill="#7a8ec4" d="M307.7 560.13h9.12v1h-9.12z"/><path fill="#7d93c7" d="M316.52 560.13h9.12v1h-9.12z"/><path fill="#99a4cd" d="M325.33 560.13h9.12v1h-9.12zM325.33 578.93h9.12v1h-9.12z"/><path fill="#a0a9cf" d="M325.33 561.52h9.12v1h-9.12zM325.33 582.41h9.12v1h-9.12z"/><path fill="#93a1cd" d="M334.15 561.52h9.12v1h-9.12z"/><path fill="#8797c7" d="M307.7 562.22h9.12v1h-9.12zM307.7 565.7h9.12v1h-9.12zM307.7 567.09h9.12v1h-9.12zM307.7 568.48h9.12v1h-9.12zM307.7 569.18h9.12v1h-9.12zM307.7 569.88h9.12v1h-9.12zM307.7 572.66h9.12v1h-9.12zM307.7 574.06h9.12v1h-9.12zM307.7 575.45h9.12v1h-9.12zM307.7 581.02h9.12v1h-9.12z"/><path fill="#7f95c8" d="M316.52 562.22h9.12v1h-9.12z"/><path fill="#d84c44" d="M351.78 562.22h9.12v1h-9.12zM351.78 573.36h9.12v1h-9.12zM351.78 581.72h9.12v1h-9.12z"/><path fill="#d84b43" d="M342.97 562.91h9.12v1h-9.12zM342.97 583.11h9.12v1h-9.12z"/><path fill="#8297c9" d="M316.52 564.31h9.12v1h-9.12zM316.52 573.36h9.12v1h-9.12z"/><path fill="#d33a32" d="M351.78 565h9.12v1h-9.12z"/><path fill="#9aa6cf" d="M334.15 567.09h9.12v1h-9.12z"/><path fill="#da5149" d="M351.78 568.48h9.12v1h-9.12zM351.78 578.24h9.12v1h-9.12z"/><path fill="#d95048" d="M342.97 569.18h9.12v1h-9.12zM342.97 577.54h9.12v1h-9.12z"/><path fill="#c8b4c4" d="M334.15 569.88h9.12v1h-9.12z"/><path fill="#9ea8ce" d="M307.7 576.15h9.12v1h-9.12zM307.7 584.5h9.12v1h-9.12z"/><path fill="#9eacd2" d="M316.52 576.15h9.12v1h-9.12zM316.52 576.84h9.12v1h-9.12z"/><path fill="#cbb9c9" d="M325.33 576.84h9.12v1h-9.12zM325.33 583.11h9.12v1h-9.12z"/><path fill="#d3b1bb" d="M334.15 581.72h9.12v1h-9.12z"/><path fill="#db564d" d="M351.78 583.11h9.12v1h-9.12z"/><path fill="#afb7d7" d="M316.52 584.5h9.12v1h-9.12z"/></g>
<text x="243.7" y="470.7" font-size="10" text-anchor="end" textLength="41.1" lengthAdjust="spacingAndGlyphs">Cluster 1</text>
<text x="243.7" y="483" font-size="10" text-anchor="end"><tspan font-style="italic">n</tspan> = 432</text>
<text x="243.7" y="520.4" font-size="10" text-anchor="end" textLength="41.1" lengthAdjust="spacingAndGlyphs">Cluster 2</text>
<text x="243.7" y="533.4" font-size="10" text-anchor="end"><tspan font-style="italic">n</tspan> = 228</text>
<text x="243.7" y="561.8" font-size="10" text-anchor="end" textLength="41.1" lengthAdjust="spacingAndGlyphs">Cluster 3</text>
<text x="243.7" y="573.8" font-size="10" text-anchor="end"><tspan font-style="italic">n</tspan> = 295</text>
<text x="204.1" y="595.9" font-size="10" textLength="43.8" lengthAdjust="spacingAndGlyphs">Replicate</text>
<text x="252.37" y="595.9" font-size="9" text-anchor="middle">1</text>
<text x="261.3" y="595.9" font-size="9" text-anchor="middle">2</text>
<text x="270.23" y="595.9" font-size="9" text-anchor="middle">1</text>
<text x="279.17" y="595.9" font-size="9" text-anchor="middle">2</text>
<text x="288.1" y="595.9" font-size="9" text-anchor="middle">1</text>
<text x="297.03" y="595.9" font-size="9" text-anchor="middle">2</text>
<line x1="249.1" y1="602.5" x2="264.57" y2="602.5" stroke="#555" stroke-width="0.8"/>
<text x="256.83" y="612.8" font-size="9" text-anchor="middle">2</text>
<line x1="266.97" y1="602.5" x2="282.43" y2="602.5" stroke="#555" stroke-width="0.8"/>
<text x="274.7" y="612.8" font-size="9" text-anchor="middle">4</text>
<line x1="284.83" y1="602.5" x2="300.3" y2="602.5" stroke="#555" stroke-width="0.8"/>
<text x="292.57" y="612.8" font-size="9" text-anchor="middle">8</text>
<text x="312.11" y="595.9" font-size="9" text-anchor="middle">1</text>
<text x="320.93" y="595.9" font-size="9" text-anchor="middle">2</text>
<text x="329.74" y="595.9" font-size="9" text-anchor="middle">1</text>
<text x="338.56" y="595.9" font-size="9" text-anchor="middle">2</text>
<text x="347.38" y="595.9" font-size="9" text-anchor="middle">1</text>
<text x="356.19" y="595.9" font-size="9" text-anchor="middle">2</text>
<line x1="308.9" y1="602.5" x2="324.13" y2="602.5" stroke="#555" stroke-width="0.8"/>
<text x="316.52" y="612.8" font-size="9" text-anchor="middle">2</text>
<line x1="326.53" y1="602.5" x2="341.77" y2="602.5" stroke="#555" stroke-width="0.8"/>
<text x="334.15" y="612.8" font-size="9" text-anchor="middle">4</text>
<line x1="344.17" y1="602.5" x2="359.4" y2="602.5" stroke="#555" stroke-width="0.8"/>
<text x="351.78" y="612.8" font-size="9" text-anchor="middle">8</text>
<text x="276.2" y="627.4" font-size="10" textLength="55.8" lengthAdjust="spacingAndGlyphs">Time (h.p.i.)</text>
<defs><linearGradient id="cb262" x1="0" y1="0" x2="0" y2="1"><stop offset="0" stop-color="#d3493c"/><stop offset="0.05" stop-color="#d95647"/><stop offset="0.1" stop-color="#de6455"/><stop offset="0.15" stop-color="#e37768"/><stop offset="0.2" stop-color="#e8897b"/><stop offset="0.25" stop-color="#ec9b8e"/><stop offset="0.3" stop-color="#f0aea2"/><stop offset="0.35" stop-color="#f2c1b8"/><stop offset="0.4" stop-color="#f4d4cf"/><stop offset="0.45" stop-color="#f6e7e5"/><stop offset="0.5" stop-color="#f6f7f7"/><stop offset="0.55" stop-color="#e9ecf3"/><stop offset="0.6" stop-color="#dce2ef"/><stop offset="0.65" stop-color="#cfd8ea"/><stop offset="0.7" stop-color="#c2cde5"/><stop offset="0.75" stop-color="#afbede"/><stop offset="0.8" stop-color="#9cafd7"/><stop offset="0.85" stop-color="#89a0cf"/><stop offset="0.9" stop-color="#7692c8"/><stop offset="0.95" stop-color="#6a88c1"/><stop offset="1" stop-color="#5f7fbb"/></linearGradient></defs>
<rect x="262.3" y="639.8" width="9.5" height="45.2" fill="url(#cb262)"/>
<line x1="269.8" y1="642.85" x2="271.8" y2="642.85" stroke="#fff" stroke-width="0.8"/>
<text x="276.8" y="646.15" font-size="9">1.0</text>
<line x1="269.8" y1="652.48" x2="271.8" y2="652.48" stroke="#fff" stroke-width="0.8"/>
<text x="276.8" y="655.77" font-size="9">0.5</text>
<line x1="269.8" y1="662.1" x2="271.8" y2="662.1" stroke="#fff" stroke-width="0.8"/>
<text x="276.8" y="665.4" font-size="9">0</text>
<line x1="269.8" y1="671.73" x2="271.8" y2="671.73" stroke="#fff" stroke-width="0.8"/>
<text x="276.8" y="675.02" font-size="9">−0.5</text>
<line x1="269.8" y1="681.35" x2="271.8" y2="681.35" stroke="#fff" stroke-width="0.8"/>
<text x="276.8" y="684.65" font-size="9">−1.0</text>
<text x="258.8" y="662" font-size="9.5" text-anchor="middle" textLength="35" lengthAdjust="spacingAndGlyphs" transform="rotate(-90 258.8 662)">Z-score</text>
<defs><linearGradient id="cb321" x1="0" y1="0" x2="0" y2="1"><stop offset="0" stop-color="#d3493c"/><stop offset="0.05" stop-color="#d95647"/><stop offset="0.1" stop-color="#de6455"/><stop offset="0.15" stop-color="#e37768"/><stop offset="0.2" stop-color="#e8897b"/><stop offset="0.25" stop-color="#ec9b8e"/><stop offset="0.3" stop-color="#f0aea2"/><stop offset="0.35" stop-color="#f2c1b8"/><stop offset="0.4" stop-color="#f4d4cf"/><stop offset="0.45" stop-color="#f6e7e5"/><stop offset="0.5" stop-color="#f6f7f7"/><stop offset="0.55" stop-color="#e9ecf3"/><stop offset="0.6" stop-color="#dce2ef"/><stop offset="0.65" stop-color="#cfd8ea"/><stop offset="0.7" stop-color="#c2cde5"/><stop offset="0.75" stop-color="#afbede"/><stop offset="0.8" stop-color="#9cafd7"/><stop offset="0.85" stop-color="#89a0cf"/><stop offset="0.9" stop-color="#7692c8"/><stop offset="0.95" stop-color="#6a88c1"/><stop offset="1" stop-color="#5f7fbb"/></linearGradient></defs>
<rect x="321.4" y="639.8" width="9" height="45.2" fill="url(#cb321)"/>
<line x1="328.4" y1="642.85" x2="330.4" y2="642.85" stroke="#fff" stroke-width="0.8"/>
<text x="335.2" y="646.15" font-size="9">1.0</text>
<line x1="328.4" y1="652.48" x2="330.4" y2="652.48" stroke="#fff" stroke-width="0.8"/>
<text x="335.2" y="655.77" font-size="9">0.5</text>
<line x1="328.4" y1="662.1" x2="330.4" y2="662.1" stroke="#fff" stroke-width="0.8"/>
<text x="335.2" y="665.4" font-size="9">0</text>
<line x1="328.4" y1="671.73" x2="330.4" y2="671.73" stroke="#fff" stroke-width="0.8"/>
<text x="335.2" y="675.02" font-size="9">−0.5</text>
<line x1="328.4" y1="681.35" x2="330.4" y2="681.35" stroke="#fff" stroke-width="0.8"/>
<text x="335.2" y="684.65" font-size="9">−1.0</text>
<text x="318.4" y="662" font-size="9.5" text-anchor="middle" textLength="35" lengthAdjust="spacingAndGlyphs" transform="rotate(-90 318.4 662)">Z-score</text>
<text transform="translate(375 424.9) scale(1.17 1)" font-size="14.5" font-weight="bold" fill="#111">h</text>
<line x1="423.9" y1="418" x2="423.9" y2="477.5" stroke="#777" stroke-width="1.1"/>
<line x1="420.6" y1="429.3" x2="423.9" y2="429.3" stroke="#555" stroke-width="0.9"/>
<text x="416" y="432.4" font-size="8.7" text-anchor="end">10</text>
<line x1="420.6" y1="447.5" x2="423.9" y2="447.5" stroke="#555" stroke-width="0.9"/>
<text x="416" y="450.6" font-size="8.7" text-anchor="end">0</text>
<line x1="420.6" y1="465.7" x2="423.9" y2="465.7" stroke="#555" stroke-width="0.9"/>
<text x="416" y="468.8" font-size="8.7" text-anchor="end">−10</text>
<line x1="489.7" y1="418" x2="489.7" y2="477.5" stroke="#999" stroke-width="1.1"/>
<line x1="486.4" y1="429.3" x2="489.7" y2="429.3" stroke="#555" stroke-width="0.9"/>
<line x1="486.4" y1="447.5" x2="489.7" y2="447.5" stroke="#555" stroke-width="0.9"/>
<line x1="486.4" y1="465.7" x2="489.7" y2="465.7" stroke="#555" stroke-width="0.9"/>
<line x1="555.8" y1="418" x2="555.8" y2="477.5" stroke="#999" stroke-width="1.1"/>
<line x1="552.5" y1="429.3" x2="555.8" y2="429.3" stroke="#555" stroke-width="0.9"/>
<line x1="552.5" y1="447.5" x2="555.8" y2="447.5" stroke="#555" stroke-width="0.9"/>
<line x1="552.5" y1="465.7" x2="555.8" y2="465.7" stroke="#555" stroke-width="0.9"/>
<text x="396" y="447.5" font-size="9.8" text-anchor="middle" transform="rotate(-90 396 447.5)">log<tspan font-size="6.5" dy="2">2</tspan><tspan dy="-2">(TE)</tspan></text>
<line x1="424" y1="480.5" x2="483.4" y2="480.5" stroke="#888" stroke-width="1.1"/>
<line x1="490.3" y1="480.5" x2="549.7" y2="480.5" stroke="#888" stroke-width="1.1"/>
<line x1="556.2" y1="480.5" x2="615.2" y2="480.5" stroke="#888" stroke-width="1.1"/>
<line x1="440.3" y1="433.2" x2="440.3" y2="461.8" stroke="#D9514A" stroke-width="1.1" stroke-dasharray="1.3 0.5"/>
<line x1="440.3" y1="436.06" x2="440.3" y2="446.2" stroke="#D9514A" stroke-width="2" stroke-linecap="round"/>
<line x1="440.3" y1="448.9" x2="440.3" y2="458.96" stroke="#D9514A" stroke-width="2" stroke-linecap="round"/>
<circle cx="440.3" cy="433.8" r="0.9" fill="#D9514A"/><circle cx="440.3" cy="461.2" r="0.9" fill="#D9514A"/>
<rect x="431.8" y="446.2" width="17" height="2.7" fill="#D9514A"/>
<line x1="467.6" y1="431.8" x2="467.6" y2="464.5" stroke="#33AAC4" stroke-width="1.1" stroke-dasharray="1.3 0.5"/>
<line x1="467.6" y1="434.97" x2="467.6" y2="446.2" stroke="#33AAC4" stroke-width="2" stroke-linecap="round"/>
<line x1="467.6" y1="448.9" x2="467.6" y2="461.07" stroke="#33AAC4" stroke-width="2" stroke-linecap="round"/>
<circle cx="467.6" cy="432.4" r="0.9" fill="#33AAC4"/><circle cx="467.6" cy="463.9" r="0.9" fill="#33AAC4"/>
<rect x="459.1" y="446.2" width="17" height="2.7" fill="#33AAC4"/>
<line x1="506.5" y1="430.1" x2="506.5" y2="457.4" stroke="#D9514A" stroke-width="1.1" stroke-dasharray="1.3 0.5"/>
<line x1="506.5" y1="433.64" x2="506.5" y2="446.2" stroke="#D9514A" stroke-width="2" stroke-linecap="round"/>
<line x1="506.5" y1="448.9" x2="506.5" y2="455.53" stroke="#D9514A" stroke-width="2" stroke-linecap="round"/>
<circle cx="506.5" cy="430.7" r="0.9" fill="#D9514A"/><circle cx="506.5" cy="456.8" r="0.9" fill="#D9514A"/>
<rect x="498" y="446.2" width="17" height="2.7" fill="#D9514A"/>
<line x1="533.5" y1="431.3" x2="533.5" y2="462.6" stroke="#33AAC4" stroke-width="1.1" stroke-dasharray="1.3 0.5"/>
<line x1="533.5" y1="434.58" x2="533.5" y2="446.2" stroke="#33AAC4" stroke-width="2" stroke-linecap="round"/>
<line x1="533.5" y1="448.9" x2="533.5" y2="459.59" stroke="#33AAC4" stroke-width="2" stroke-linecap="round"/>
<circle cx="533.5" cy="431.9" r="0.9" fill="#33AAC4"/><circle cx="533.5" cy="462" r="0.9" fill="#33AAC4"/>
<rect x="525" y="446.2" width="17" height="2.7" fill="#33AAC4"/>
<line x1="572.4" y1="429.2" x2="572.4" y2="461.9" stroke="#D9514A" stroke-width="1.1" stroke-dasharray="1.3 0.5"/>
<line x1="572.4" y1="432.92" x2="572.4" y2="446.1" stroke="#D9514A" stroke-width="2" stroke-linecap="round"/>
<line x1="572.4" y1="449" x2="572.4" y2="459.06" stroke="#D9514A" stroke-width="2" stroke-linecap="round"/>
<circle cx="572.4" cy="429.8" r="0.9" fill="#D9514A"/><circle cx="572.4" cy="461.3" r="0.9" fill="#D9514A"/>
<rect x="563.9" y="446.1" width="17" height="2.9" fill="#D9514A"/>
<line x1="599.6" y1="431.7" x2="599.6" y2="468.7" stroke="#33AAC4" stroke-width="1.1" stroke-dasharray="1.3 0.5"/>
<line x1="599.6" y1="435.33" x2="599.6" y2="448.2" stroke="#33AAC4" stroke-width="2" stroke-linecap="round"/>
<line x1="599.6" y1="451.6" x2="599.6" y2="464.94" stroke="#33AAC4" stroke-width="2" stroke-linecap="round"/>
<circle cx="599.6" cy="432.3" r="0.9" fill="#33AAC4"/><circle cx="599.6" cy="468.1" r="0.9" fill="#33AAC4"/>
<rect x="591.1" y="448.2" width="17" height="3.4" fill="#33AAC4"/>
<rect x="591.9" y="449" width="15.4" height="1.8" fill="#8CC9DA"/>
<line x1="591.9" y1="449.9" x2="607.3" y2="449.9" stroke="#33AAC4" stroke-width="0.8"/>
<path d="M440.2,430.1 L440.2,427.3 L467.5,427.3 L467.5,430.1" stroke="#555" fill="none" stroke-width="0.8"/>
<text x="453.85" y="424.3" font-size="10.2" text-anchor="middle" textLength="12.6" lengthAdjust="spacingAndGlyphs">NS</text>
<path d="M506.3,427 L506.3,424.2 L533.5,424.2 L533.5,427" stroke="#555" fill="none" stroke-width="0.8"/>
<polygon points="511.27,415.85 512.01,417.39 513.7,417.61 512.46,418.79 512.77,420.46 511.27,419.65 509.78,420.46 510.09,418.79 508.85,417.61 510.54,417.39" fill="#2a2a2a"/>
<polygon points="517.02,415.85 517.76,417.39 519.45,417.61 518.21,418.79 518.52,420.46 517.02,419.65 515.53,420.46 515.84,418.79 514.6,417.61 516.29,417.39" fill="#2a2a2a"/>
<polygon points="522.77,415.85 523.51,417.39 525.2,417.61 523.96,418.79 524.27,420.46 522.77,419.65 521.28,420.46 521.59,418.79 520.35,417.61 522.04,417.39" fill="#2a2a2a"/>
<polygon points="528.52,415.85 529.26,417.39 530.95,417.61 529.71,418.79 530.02,420.46 528.52,419.65 527.03,420.46 527.34,418.79 526.1,417.61 527.79,417.39" fill="#2a2a2a"/>
<path d="M572.5,427 L572.5,424.2 L599.6,424.2 L599.6,427" stroke="#555" fill="none" stroke-width="0.8"/>
<polygon points="577.42,415.85 578.16,417.39 579.85,417.61 578.61,418.79 578.92,420.46 577.42,419.65 575.93,420.46 576.24,418.79 575,417.61 576.69,417.39" fill="#2a2a2a"/>
<polygon points="583.17,415.85 583.91,417.39 585.6,417.61 584.36,418.79 584.67,420.46 583.17,419.65 581.68,420.46 581.99,418.79 580.75,417.61 582.44,417.39" fill="#2a2a2a"/>
<polygon points="588.92,415.85 589.66,417.39 591.35,417.61 590.11,418.79 590.42,420.46 588.92,419.65 587.43,420.46 587.74,418.79 586.5,417.61 588.19,417.39" fill="#2a2a2a"/>
<polygon points="594.67,415.85 595.41,417.39 597.1,417.61 595.86,418.79 596.17,420.46 594.67,419.65 593.18,420.46 593.49,418.79 592.25,417.61 593.94,417.39" fill="#2a2a2a"/>
<text x="453.6" y="492.4" font-size="8.8" text-anchor="middle">2</text>
<text x="520.6" y="492.4" font-size="8.8" text-anchor="middle">4</text>
<text x="585.7" y="492.4" font-size="8.8" text-anchor="middle">8</text>
<text x="492.3" y="507.6" font-size="10" textLength="55.1" lengthAdjust="spacingAndGlyphs">Time (h.p.i.)</text>
<text x="384.6" y="521.4" font-size="10" fill="#E0605A" textLength="89.3" lengthAdjust="spacingAndGlyphs">Amoeba <tspan font-style="italic">n</tspan> = 12,342</text>
<text x="493.8" y="521.4" font-size="10" fill="#E0605A" textLength="46.4" lengthAdjust="spacingAndGlyphs"><tspan font-style="italic">n</tspan> = 12,029</text>
<text x="558.9" y="521.4" font-size="10" fill="#E0605A" textLength="46.4" lengthAdjust="spacingAndGlyphs"><tspan font-style="italic">n</tspan> = 11,503</text>
<text x="396.1" y="535.6" font-size="10" fill="#22A9C4" textLength="65.5" lengthAdjust="spacingAndGlyphs">APMV <tspan font-style="italic">n</tspan> = 902</text>
<text x="493.8" y="535.6" font-size="10" fill="#22A9C4" textLength="33.7" lengthAdjust="spacingAndGlyphs"><tspan font-style="italic">n</tspan> = 956</text>
<text x="558.9" y="535.6" font-size="10" fill="#22A9C4" textLength="34.5" lengthAdjust="spacingAndGlyphs"><tspan font-style="italic">n</tspan> = 958</text>
</svg></body></html>
